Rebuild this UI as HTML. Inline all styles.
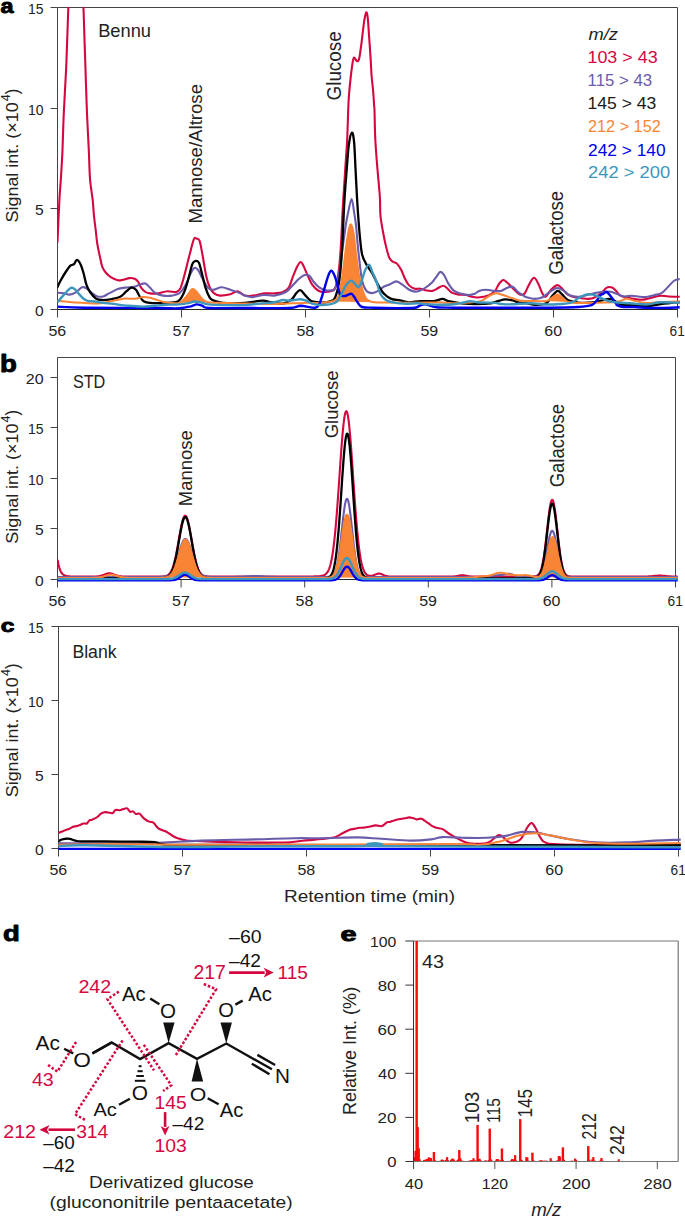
<!DOCTYPE html><html><head><meta charset="utf-8"><style>html,body{margin:0;padding:0;background:#fff;width:685px;height:1219px;overflow:hidden;}svg{display:block;}text{font-family:"Liberation Sans",sans-serif;}</style></head><body>
<svg width="685" height="1219" viewBox="0 0 685 1219">
<rect x="0" y="0" width="685" height="1219" fill="#fff"/>
<path d="M57.5,309.5 V7.5 H677.5 V309.5" fill="none" stroke="#444" stroke-width="1"/>
<line x1="57.0" y1="309.5" x2="678.0" y2="309.5" stroke="#222" stroke-width="1" />
<line x1="50.5" y1="7.5" x2="57.5" y2="7.5" stroke="#444" stroke-width="1.0" />
<text transform="translate(27.98,13.55) scale(0.9028,1)" font-size="15.51" fill="#222" font-weight="normal" font-style="normal">15</text>
<line x1="50.5" y1="108.5" x2="57.5" y2="108.5" stroke="#444" stroke-width="1.0" />
<text transform="translate(27.98,114.55) scale(0.9159,1)" font-size="15.29" fill="#222" font-weight="normal" font-style="normal">10</text>
<line x1="50.5" y1="208.5" x2="57.5" y2="208.5" stroke="#444" stroke-width="1.0" />
<text transform="translate(34.98,214.55) scale(1.0076,1)" font-size="15.51" fill="#222" font-weight="normal" font-style="normal">5</text>
<line x1="50.5" y1="309.5" x2="57.5" y2="309.5" stroke="#444" stroke-width="1.0" />
<text transform="translate(34.98,315.55) scale(1.0222,1)" font-size="15.29" fill="#222" font-weight="normal" font-style="normal">0</text>
<line x1="57.5" y1="309.5" x2="57.5" y2="317.5" stroke="#444" stroke-width="1.0" />
<text transform="translate(48.41,336.30) scale(1.0680,1)" font-size="15.00" fill="#222" font-weight="normal" font-style="normal">56</text>
<line x1="181.5" y1="309.5" x2="181.5" y2="317.5" stroke="#444" stroke-width="1.0" />
<text transform="translate(172.41,336.30) scale(1.0527,1)" font-size="15.22" fill="#222" font-weight="normal" font-style="normal">57</text>
<line x1="305.5" y1="309.5" x2="305.5" y2="317.5" stroke="#444" stroke-width="1.0" />
<text transform="translate(296.41,336.30) scale(1.0680,1)" font-size="15.00" fill="#222" font-weight="normal" font-style="normal">58</text>
<line x1="429.5" y1="309.5" x2="429.5" y2="317.5" stroke="#444" stroke-width="1.0" />
<text transform="translate(420.41,336.30) scale(1.0680,1)" font-size="15.00" fill="#222" font-weight="normal" font-style="normal">59</text>
<line x1="553.5" y1="309.5" x2="553.5" y2="317.5" stroke="#444" stroke-width="1.0" />
<text transform="translate(544.25,336.30) scale(1.0680,1)" font-size="15.00" fill="#222" font-weight="normal" font-style="normal">60</text>
<line x1="677.5" y1="309.5" x2="677.5" y2="317.5" stroke="#444" stroke-width="1.0" />
<text transform="translate(669.61,336.30) scale(0.9150,1)" font-size="15.00" fill="#222" font-weight="normal" font-style="normal">61</text>
<clipPath id="ca"><rect x="57.5" y="7.0" width="622.2" height="305.0"/></clipPath>
<g clip-path="url(#ca)">
<path d="M57.5,242.0 C57.8,235.0 58.8,210.8 59.4,200.0 C60.0,189.2 60.5,185.3 61.0,177.0 C61.5,168.7 62.1,159.5 62.5,150.0 C62.9,140.5 63.1,130.0 63.5,120.0 C63.9,110.0 64.5,100.0 65.0,90.0 C65.5,80.0 66.0,73.7 66.5,60.0 C67.0,46.3 67.9,19.7 68.3,8.0 C68.7,-3.7 66.5,-7.0 69.0,-10.0 C71.5,-13.0 80.6,-13.0 83.0,-10.0 C85.4,-7.0 83.2,-0.3 83.5,8.0 C83.8,16.3 84.2,30.3 84.5,40.0 C84.8,49.7 85.1,56.4 85.4,66.4 C85.7,76.4 86.2,91.1 86.5,100.0 C86.8,108.9 86.9,111.7 87.3,120.0 C87.7,128.3 88.3,140.0 88.8,150.0 C89.3,160.0 89.4,171.7 90.1,180.0 C90.8,188.3 92.1,194.2 92.7,200.0 C93.3,205.8 93.4,210.1 93.9,215.0 C94.4,219.9 95.0,224.4 95.6,229.2 C96.2,234.0 96.5,238.9 97.3,243.8 C98.1,248.7 99.4,254.5 100.3,258.4 C101.2,262.3 101.4,264.8 102.4,267.2 C103.4,269.6 104.6,271.3 106.1,273.0 C107.6,274.7 109.2,276.2 111.2,277.4 C113.2,278.6 115.7,279.9 117.8,280.3 C119.9,280.7 121.6,280.0 123.6,279.6 C125.5,279.2 127.7,278.2 129.5,278.1 C131.3,278.0 133.2,278.2 134.6,278.8 C136.0,279.4 137.1,280.3 138.2,281.8 C139.3,283.3 139.9,285.9 141.1,287.6 C142.3,289.3 144.0,291.0 145.5,292.0 C147.0,293.0 148.0,293.2 150.0,293.4 C152.0,293.6 154.4,293.8 157.3,293.4 C160.2,293.0 164.3,291.4 167.5,291.2 C170.7,291.0 174.1,292.6 176.3,292.0 C178.5,291.4 179.2,290.8 180.7,287.6 C182.1,284.4 183.6,278.4 185.0,273.0 C186.4,267.6 187.9,261.1 189.4,255.5 C190.9,249.9 192.6,242.2 193.8,239.4 C195.0,236.6 195.7,238.4 196.7,238.7 C197.7,238.9 198.6,238.1 199.6,240.9 C200.6,243.7 201.5,249.7 202.6,255.5 C203.7,261.3 205.0,270.5 206.2,275.9 C207.4,281.2 208.6,284.7 209.9,287.6 C211.2,290.5 212.5,292.1 214.2,293.4 C215.9,294.7 217.4,295.5 220.1,295.6 C222.8,295.7 227.4,294.9 230.3,294.2 C233.2,293.5 235.2,291.0 237.6,291.2 C240.0,291.4 242.3,294.9 245.0,295.6 C247.7,296.3 250.6,296.0 253.8,295.6 C257.0,295.2 260.6,293.8 264.0,293.4 C267.4,293.0 271.0,293.6 274.2,293.4 C277.4,293.2 280.6,293.0 283.0,292.0 C285.4,291.0 287.1,290.3 288.8,287.6 C290.5,284.9 291.7,279.5 293.2,275.9 C294.7,272.2 296.3,268.0 297.6,265.7 C298.9,263.4 299.8,262.0 300.8,262.0 C301.8,262.0 302.2,263.4 303.4,265.7 C304.6,268.0 306.3,272.7 307.8,275.9 C309.3,279.1 310.5,282.3 312.2,284.7 C313.9,287.1 316.1,289.3 318.0,290.5 C319.9,291.7 321.4,292.0 323.8,292.0 C326.2,292.0 330.6,291.4 332.6,290.5 C334.6,289.6 334.8,289.8 335.8,286.5 C336.8,283.2 337.9,277.6 338.8,270.5 C339.7,263.4 340.4,253.4 341.0,244.2 C341.6,234.9 342.0,222.8 342.4,215.0 C342.8,207.2 342.9,205.4 343.4,197.6 C343.9,189.8 344.7,178.1 345.3,168.4 C345.9,158.7 346.7,148.9 347.2,139.2 C347.7,129.5 347.9,117.4 348.2,110.0 C348.5,102.6 348.5,101.1 349.0,94.9 C349.5,88.7 350.5,78.8 351.2,73.0 C351.9,67.2 352.6,62.4 353.1,59.9 C353.7,57.4 353.9,57.5 354.5,57.7 C355.1,57.9 356.2,61.2 357.0,61.3 C357.8,61.4 358.5,61.3 359.2,58.4 C359.9,55.5 360.8,48.2 361.4,43.8 C362.0,39.4 362.3,36.0 362.8,32.1 C363.3,28.2 363.7,23.7 364.3,20.4 C364.9,17.1 365.6,12.9 366.2,12.4 C366.8,11.9 367.2,13.5 367.7,17.5 C368.2,21.5 368.6,29.7 369.1,36.5 C369.6,43.3 370.2,51.8 370.6,58.4 C371.0,65.0 371.2,70.6 371.6,75.9 C372.0,81.2 372.7,85.6 373.1,90.5 C373.5,95.4 373.9,101.8 374.1,105.1 C374.3,108.3 374.3,104.3 374.5,110.0 C374.7,115.7 374.8,129.5 375.3,139.2 C375.8,148.9 376.6,158.7 377.4,168.4 C378.2,178.1 379.4,189.8 379.9,197.6 C380.4,205.4 379.9,209.7 380.4,215.0 C380.8,220.3 381.8,224.7 382.6,229.6 C383.5,234.5 384.4,239.6 385.5,244.2 C386.6,248.8 387.9,254.4 389.1,257.3 C390.3,260.2 391.5,260.6 392.8,261.7 C394.1,262.8 395.8,262.4 397.2,263.9 C398.6,265.4 400.3,268.2 401.5,270.5 C402.7,272.8 403.3,275.4 404.5,277.8 C405.7,280.2 407.1,283.3 408.8,285.1 C410.5,286.9 412.8,288.1 414.7,288.7 C416.6,289.3 418.8,288.4 420.5,288.7 C422.2,288.9 423.0,289.8 425.0,290.2 C427.0,290.6 430.1,291.3 432.3,290.9 C434.5,290.5 436.3,288.9 438.1,288.0 C439.9,287.1 441.7,285.8 443.2,285.8 C444.7,285.8 445.5,286.9 446.9,288.0 C448.2,289.1 449.4,291.3 451.3,292.4 C453.2,293.5 456.2,294.2 458.6,294.6 C461.0,295.0 463.7,294.6 465.9,295.0 C468.1,295.4 469.8,296.4 471.7,296.8 C473.6,297.2 475.7,297.5 477.6,297.5 C479.6,297.5 481.5,297.2 483.4,296.8 C485.3,296.4 487.2,296.3 489.2,295.3 C491.1,294.3 493.5,292.7 495.1,290.9 C496.7,289.1 497.4,286.1 498.7,284.3 C500.0,282.5 501.8,280.4 503.1,280.0 C504.5,279.6 505.5,281.1 506.8,282.2 C508.1,283.3 509.7,285.1 511.1,286.5 C512.6,287.9 514.0,289.5 515.5,290.9 C517.0,292.2 518.4,294.1 519.9,294.6 C521.4,295.1 522.9,295.4 524.4,293.8 C525.9,292.2 527.2,287.8 528.8,285.1 C530.4,282.4 532.3,278.1 533.9,277.8 C535.5,277.6 536.9,281.2 538.2,283.6 C539.5,286.0 540.7,290.2 541.9,292.4 C543.1,294.6 544.0,297.2 545.5,296.8 C547.0,296.4 548.8,292.1 550.7,290.2 C552.7,288.2 555.3,285.4 557.2,285.1 C559.1,284.9 560.7,287.2 562.3,288.7 C563.9,290.1 565.0,292.4 566.7,293.8 C568.4,295.2 570.2,296.1 572.6,296.8 C575.0,297.5 578.6,297.9 581.3,298.2 C584.0,298.5 586.4,299.0 588.6,298.9 C590.8,298.8 592.3,298.5 594.5,297.5 C596.7,296.5 599.6,294.4 601.6,292.8 C603.6,291.2 605.0,288.5 606.8,287.6 C608.5,286.7 610.6,287.1 612.1,287.6 C613.6,288.1 614.7,289.5 616.0,290.8 C617.3,292.1 618.0,294.2 620.0,295.4 C622.0,296.6 624.7,297.1 627.8,297.8 C630.9,298.5 635.5,299.3 638.4,299.6 C641.2,299.9 642.5,299.8 644.9,299.4 C647.3,299.0 650.2,298.0 652.8,297.4 C655.4,296.8 658.1,295.8 660.7,295.7 C663.3,295.6 665.4,296.3 668.6,296.5 C671.8,296.7 678.1,296.8 680.0,296.8" fill="none" stroke="#d4073f" stroke-width="2.1" stroke-linejoin="round" stroke-linecap="round" />
<path d="M57.5,292.7 C58.5,292.8 61.8,293.1 63.8,293.4 C65.8,293.7 67.7,294.7 69.6,294.6 C71.5,294.5 73.3,293.9 75.4,292.7 C77.5,291.5 80.2,288.0 82.0,287.3 C83.8,286.6 84.8,287.4 86.4,288.3 C88.0,289.2 89.7,291.4 91.5,292.7 C93.3,294.0 95.3,295.8 97.3,296.4 C99.2,297.0 101.2,296.9 103.2,296.4 C105.2,295.9 106.6,294.6 109.0,293.4 C111.4,292.2 115.1,290.0 117.8,289.0 C120.5,288.0 122.3,288.0 125.0,287.6 C127.7,287.2 131.4,287.4 133.8,286.9 C136.2,286.4 137.8,285.3 139.7,284.7 C141.6,284.1 143.8,283.0 145.5,283.5 C147.2,284.0 148.2,286.0 149.9,287.6 C151.6,289.2 153.6,292.1 155.8,293.4 C158.0,294.7 160.4,295.2 163.1,295.6 C165.8,296.0 169.2,296.0 171.9,295.6 C174.6,295.2 177.0,295.0 179.2,293.4 C181.4,291.8 183.1,289.5 185.0,286.1 C186.9,282.7 189.3,276.0 190.9,273.0 C192.5,270.0 193.3,268.4 194.5,267.9 C195.7,267.4 196.8,268.3 198.2,270.1 C199.5,271.9 201.0,275.9 202.6,278.8 C204.2,281.7 206.0,285.8 207.7,287.6 C209.4,289.4 210.5,289.9 212.8,289.8 C215.1,289.8 218.6,287.3 221.5,287.3 C224.4,287.3 227.1,288.8 230.3,289.8 C233.5,290.8 238.1,292.4 240.5,293.4 C242.9,294.4 243.0,295.0 245.0,295.6 C247.0,296.2 249.1,297.2 252.3,297.1 C255.5,297.0 260.4,295.1 264.0,294.9 C267.6,294.6 270.6,296.1 274.2,295.6 C277.8,295.1 282.7,293.8 285.9,292.0 C289.1,290.2 291.0,286.9 293.2,284.7 C295.4,282.5 297.2,280.4 299.0,278.8 C300.8,277.2 302.4,275.7 304.1,275.2 C305.8,274.7 307.6,274.5 309.2,275.6 C310.8,276.7 311.9,279.8 313.6,281.8 C315.3,283.8 317.3,286.2 319.5,287.6 C321.7,289.1 324.9,290.1 326.8,290.5 C328.7,290.9 329.7,290.5 331.0,290.3 C332.3,290.1 333.1,291.8 334.4,289.5 C335.7,287.2 337.4,283.9 338.8,276.3 C340.2,268.8 341.9,252.8 343.1,244.2 C344.3,235.6 345.0,230.3 345.8,225.0 C346.6,219.7 347.2,216.5 348.2,212.2 C349.2,207.9 350.6,199.0 351.6,199.0 C352.6,199.0 353.4,207.9 354.1,212.2 C354.8,216.5 355.5,220.9 356.0,225.0 C356.5,229.1 356.5,231.3 357.0,236.9 C357.5,242.5 358.3,251.5 359.2,258.8 C360.1,266.1 360.9,275.4 362.1,280.7 C363.3,286.0 364.8,288.8 366.5,290.9 C368.2,293.0 370.4,293.1 372.3,293.1 C374.2,293.1 376.2,292.0 378.2,290.9 C380.1,289.8 382.1,287.6 384.0,286.5 C385.9,285.4 387.8,285.2 389.9,284.3 C392.0,283.4 394.2,281.3 396.4,281.4 C398.6,281.5 400.9,283.8 403.0,285.1 C405.1,286.5 406.9,288.4 408.8,289.5 C410.8,290.6 412.8,291.4 414.7,291.6 C416.6,291.8 418.3,291.1 420.0,290.5 C421.7,289.9 422.9,289.4 425.0,288.0 C427.1,286.6 430.4,284.1 432.3,282.2 C434.2,280.2 435.4,278.0 436.7,276.3 C438.0,274.6 439.1,272.1 440.3,271.9 C441.5,271.7 442.6,272.9 444.0,274.9 C445.4,276.8 446.7,280.9 448.4,283.6 C450.1,286.3 452.0,289.2 454.2,290.9 C456.4,292.6 459.1,293.1 461.5,293.8 C463.9,294.5 466.6,295.0 468.8,295.0 C471.0,295.0 472.9,294.5 474.6,293.8 C476.3,293.1 477.1,291.6 479.0,290.9 C480.9,290.2 483.9,289.7 486.3,289.7 C488.7,289.7 491.2,290.7 493.6,290.9 C496.0,291.1 498.7,291.4 500.9,290.9 C503.1,290.4 504.9,288.7 506.8,288.0 C508.8,287.3 510.7,286.1 512.6,286.8 C514.5,287.5 516.5,290.9 518.4,292.4 C520.3,293.9 522.5,295.1 524.0,296.0 C525.5,296.9 525.5,297.0 527.3,297.5 C529.1,298.0 532.2,298.9 534.6,298.9 C537.0,298.9 539.5,298.6 541.9,297.5 C544.3,296.4 546.7,294.0 549.2,292.4 C551.8,290.8 554.8,288.2 557.2,288.0 C559.6,287.8 561.7,289.7 563.8,290.9 C565.9,292.1 567.2,294.3 569.6,295.3 C572.0,296.3 575.5,296.9 578.4,296.8 C581.3,296.8 584.4,295.6 587.2,295.0 C590.0,294.4 592.4,293.5 595.0,293.0 C597.6,292.5 600.3,292.0 602.9,291.8 C605.5,291.6 608.4,291.4 610.8,291.8 C613.2,292.2 615.1,293.3 617.3,294.1 C619.5,294.9 621.5,296.2 623.9,296.5 C626.3,296.8 629.2,295.6 631.8,295.7 C634.4,295.8 637.1,296.6 639.7,296.8 C642.3,297.0 645.2,297.1 647.6,296.8 C650.0,296.5 651.7,295.9 654.1,295.2 C656.5,294.5 659.6,294.3 662.0,292.8 C664.4,291.3 666.6,288.2 668.6,286.2 C670.6,284.2 672.3,282.1 673.8,281.0 C675.3,279.9 676.5,279.7 677.5,279.4 C678.5,279.1 679.6,279.1 680.0,279.0" fill="none" stroke="#6b5baa" stroke-width="2.1" stroke-linejoin="round" stroke-linecap="round" />
<path d="M57.5,287.0 C58.0,285.9 59.4,282.9 60.8,280.3 C62.2,277.7 64.4,273.9 66.0,271.5 C67.6,269.1 69.0,266.9 70.3,265.7 C71.6,264.5 72.9,265.2 74.0,264.2 C75.1,263.2 75.8,259.9 76.9,259.9 C78.0,259.9 79.4,262.0 80.5,264.2 C81.6,266.4 82.5,269.6 83.5,273.0 C84.5,276.4 85.3,281.5 86.4,284.7 C87.5,287.9 88.4,289.7 90.0,292.0 C91.6,294.3 94.0,297.2 95.9,298.5 C97.9,299.8 99.3,299.9 101.7,300.0 C104.1,300.1 107.3,299.9 110.5,299.3 C113.7,298.7 118.0,297.8 120.7,296.4 C123.4,295.0 124.7,292.7 126.5,291.2 C128.3,289.7 130.0,287.8 131.6,287.6 C133.2,287.4 134.7,288.3 136.0,289.8 C137.3,291.3 138.4,294.4 139.7,296.4 C141.0,298.3 142.3,300.4 144.0,301.5 C145.7,302.6 146.5,302.7 149.9,302.9 C153.3,303.1 160.0,303.1 164.6,302.9 C169.2,302.7 174.5,303.1 177.7,301.5 C180.9,299.9 181.9,296.9 183.6,293.4 C185.3,289.9 186.6,285.2 188.0,280.3 C189.4,275.4 191.1,267.4 192.3,264.2 C193.5,261.0 194.2,261.2 195.3,261.0 C196.4,260.8 197.8,260.8 198.9,262.8 C200.0,264.8 200.7,268.9 201.8,273.0 C202.9,277.1 204.2,283.5 205.5,287.6 C206.8,291.7 208.5,295.6 209.9,297.8 C211.3,300.0 212.0,299.9 214.2,300.7 C216.4,301.5 217.9,302.5 223.0,302.9 C228.1,303.3 238.4,303.3 245.0,302.9 C251.6,302.5 258.1,300.8 262.5,300.7 C266.9,300.6 267.9,301.7 271.3,302.2 C274.7,302.7 279.6,304.1 283.0,303.6 C286.4,303.1 289.5,301.0 291.7,299.3 C293.9,297.6 294.7,294.9 296.1,293.4 C297.5,291.9 298.7,289.9 300.2,290.2 C301.7,290.4 303.1,293.1 304.9,294.9 C306.6,296.6 308.5,299.5 310.7,300.7 C312.9,301.9 315.3,301.9 318.0,302.2 C320.7,302.4 324.8,302.4 326.8,302.2 C328.8,302.0 328.7,301.7 330.0,301.1 C331.3,300.6 333.1,301.1 334.4,298.9 C335.7,296.7 337.0,292.2 338.0,288.0 C339.0,283.8 339.5,280.7 340.2,273.4 C340.9,266.1 341.9,252.3 342.4,244.2 C342.9,236.1 342.8,232.8 343.2,225.0 C343.6,217.2 344.0,207.0 344.6,197.6 C345.2,188.2 346.1,177.4 346.8,168.4 C347.5,159.4 348.1,149.6 349.0,143.6 C349.9,137.6 351.0,132.8 351.9,132.6 C352.8,132.3 353.5,136.1 354.1,142.1 C354.7,148.1 355.0,159.2 355.5,168.4 C356.0,177.7 356.5,189.0 357.0,197.6 C357.5,206.2 358.0,213.4 358.5,220.0 C359.0,226.6 359.3,231.2 359.9,236.9 C360.5,242.6 361.0,249.8 362.1,254.4 C363.2,259.0 364.8,261.4 366.5,264.6 C368.2,267.8 370.4,270.0 372.3,273.4 C374.2,276.8 376.2,281.7 378.2,285.1 C380.1,288.5 381.8,291.5 384.0,293.8 C386.2,296.1 388.6,297.8 391.3,298.9 C394.0,300.0 397.2,299.8 400.1,300.4 C403.0,301.0 405.4,302.2 408.8,302.3 C412.2,302.4 416.3,301.3 420.5,301.1 C424.7,300.9 430.1,301.5 433.8,301.1 C437.5,300.7 440.1,298.9 442.5,298.9 C444.9,298.9 445.2,300.4 448.4,301.1 C451.6,301.8 456.9,302.8 461.5,303.3 C466.1,303.8 471.2,304.1 476.1,304.1 C481.0,304.1 487.1,303.8 490.7,303.3 C494.3,302.8 495.6,301.8 498.0,301.1 C500.4,300.5 502.9,299.5 505.3,299.4 C507.7,299.3 510.4,299.9 512.6,300.4 C514.8,300.9 516.3,301.9 518.4,302.3 C520.5,302.7 522.3,302.5 525.0,302.9 C527.7,303.3 531.1,304.7 534.6,304.8 C538.1,304.9 543.4,304.8 546.3,303.3 C549.2,301.8 550.2,298.1 552.1,296.0 C554.0,293.9 556.0,291.1 557.7,290.9 C559.4,290.7 560.5,293.0 562.3,294.6 C564.0,296.2 565.5,299.1 568.2,300.4 C570.9,301.7 574.3,302.3 578.4,302.6 C582.5,302.9 589.1,302.7 593.0,302.3 C596.9,301.9 599.1,301.0 601.8,300.4 C604.5,299.8 606.9,298.8 609.1,298.9 C611.3,299.0 612.9,300.2 614.9,301.1 C616.9,302.1 618.0,303.9 621.3,304.6 C624.5,305.3 630.0,305.1 634.4,305.3 C638.8,305.5 643.2,306.2 647.6,306.0 C652.0,305.8 655.3,304.7 660.7,304.0 C666.1,303.3 676.8,302.3 680.0,302.0" fill="none" stroke="#000000" stroke-width="2.3" stroke-linejoin="round" stroke-linecap="round" />
<path d="M179.2,302.9 C180.4,301.8 184.3,298.7 186.5,296.4 C188.7,294.1 190.6,289.7 192.3,289.0 C194.0,288.3 195.0,290.3 196.7,292.0 C198.4,293.7 200.6,297.6 202.6,299.3 C204.6,301.0 207.4,301.7 208.4,302.2 Z" fill="#fa8435" stroke="none"/>
<path d="M329.7,301.5 C330.2,301.4 331.6,301.9 333.0,301.1 C334.4,300.3 336.6,300.2 338.0,296.8 C339.4,293.4 340.6,287.0 341.7,280.7 C342.8,274.4 343.6,266.1 344.6,258.8 C345.6,251.5 346.5,242.6 347.5,236.9 C348.5,231.2 349.4,225.2 350.4,224.5 C351.4,223.8 352.4,227.3 353.4,232.5 C354.4,237.7 355.3,248.6 356.3,255.9 C357.3,263.2 358.1,270.5 359.2,276.3 C360.3,282.1 361.6,287.1 362.8,290.9 C364.0,294.7 364.9,297.1 366.5,298.9 C368.1,300.7 368.7,301.3 372.3,301.9 C375.9,302.5 385.7,302.5 388.4,302.6 Z" fill="#fa8435" stroke="none"/>
<path d="M546.3,301.1 C547.3,300.5 550.3,298.6 552.1,297.5 C553.9,296.4 555.5,294.6 557.2,294.6 C558.9,294.6 560.5,296.3 562.3,297.5 C564.1,298.7 567.2,301.2 568.2,301.9 Z" fill="#fa8435" stroke="none"/>
<path d="M57.5,300.7 C59.5,300.9 65.1,301.5 69.6,301.9 C74.0,302.3 79.3,302.6 84.2,302.9 C89.1,303.1 93.9,303.8 98.8,303.4 C103.7,303.0 109.0,301.5 113.4,300.7 C117.8,299.9 121.3,298.8 125.0,298.5 C128.7,298.2 132.4,299.0 135.3,298.8 C138.2,298.6 140.2,297.3 142.6,297.1 C145.0,296.9 147.8,297.4 149.9,297.8 C152.0,298.2 152.6,298.6 155.0,299.3 C157.4,300.0 160.6,301.6 164.6,302.2 C168.6,302.8 175.5,303.9 179.2,302.9 C182.8,301.9 184.3,298.7 186.5,296.4 C188.7,294.1 190.6,289.7 192.3,289.0 C194.0,288.3 195.0,290.3 196.7,292.0 C198.4,293.7 200.6,297.6 202.6,299.3 C204.6,301.0 205.0,301.6 208.4,302.2 C211.8,302.8 216.9,302.7 223.0,302.9 C229.1,303.1 236.5,303.4 245.0,303.6 C253.5,303.8 264.5,304.0 274.2,303.9 C283.9,303.8 296.1,303.1 303.4,302.9 C310.7,302.7 313.6,303.1 318.0,302.9 C322.4,302.7 327.2,301.8 329.7,301.5 C332.2,301.2 331.6,301.9 333.0,301.1 C334.4,300.3 336.6,300.2 338.0,296.8 C339.4,293.4 340.6,287.0 341.7,280.7 C342.8,274.4 343.6,266.1 344.6,258.8 C345.6,251.5 346.5,242.6 347.5,236.9 C348.5,231.2 349.4,225.2 350.4,224.5 C351.4,223.8 352.4,227.3 353.4,232.5 C354.4,237.7 355.3,248.6 356.3,255.9 C357.3,263.2 358.1,270.5 359.2,276.3 C360.3,282.1 361.6,287.1 362.8,290.9 C364.0,294.7 364.9,297.1 366.5,298.9 C368.1,300.7 368.7,301.3 372.3,301.9 C375.9,302.5 378.8,302.5 388.4,302.6 C398.0,302.7 421.5,302.7 430.0,302.6 C438.5,302.6 435.6,302.2 439.6,302.3 C443.6,302.4 449.3,303.2 454.2,303.3 C459.1,303.4 464.4,303.0 468.8,302.6 C473.2,302.2 477.3,302.1 480.5,301.1 C483.7,300.1 485.6,298.0 487.8,296.8 C490.0,295.6 491.9,294.4 493.6,293.8 C495.3,293.2 496.3,293.2 498.0,293.5 C499.7,293.8 501.4,294.5 503.8,295.3 C506.2,296.1 509.9,297.4 512.6,298.2 C515.3,299.0 516.2,299.9 519.9,300.4 C523.6,300.9 530.2,301.0 534.6,301.1 C539.0,301.2 543.4,301.7 546.3,301.1 C549.2,300.5 550.3,298.6 552.1,297.5 C553.9,296.4 555.5,294.6 557.2,294.6 C558.9,294.6 560.5,296.3 562.3,297.5 C564.1,298.7 565.5,301.0 568.2,301.9 C570.9,302.8 572.3,302.8 578.4,302.9 C584.5,303.0 598.0,302.9 604.7,302.6 C611.4,302.4 615.1,302.0 618.7,301.4 C622.3,300.8 623.9,298.8 626.5,298.7 C629.1,298.6 630.9,300.0 634.4,300.7 C637.9,301.4 643.2,302.9 647.6,303.1 C652.0,303.3 655.3,302.3 660.7,302.0 C666.1,301.7 676.8,301.5 680.0,301.4" fill="none" stroke="#fa8435" stroke-width="2.0" stroke-linejoin="round" stroke-linecap="round" />
<path d="M57.5,306.6 C62.0,306.8 68.0,307.5 84.2,307.7 C100.5,307.9 139.2,307.9 155.0,308.0 C170.8,308.1 173.2,308.6 179.2,308.3 C185.2,308.0 188.0,307.0 190.9,306.3 C193.8,305.6 194.8,304.5 196.7,304.4 C198.6,304.3 200.6,305.2 202.6,305.8 C204.6,306.4 201.3,307.6 208.4,308.0 C215.5,308.4 231.6,308.0 245.0,308.0 C258.4,308.0 279.6,308.4 288.8,308.0 C298.1,307.6 296.1,305.9 300.5,305.8 C304.9,305.8 311.9,308.1 315.1,307.7 C318.3,307.3 318.1,306.5 319.5,303.6 C320.9,300.7 322.4,295.1 323.8,290.5 C325.2,285.9 327.0,279.2 328.2,275.9 C329.4,272.6 330.1,271.0 331.1,270.8 C332.1,270.6 333.1,272.4 334.1,274.5 C335.1,276.6 336.0,279.8 337.0,283.2 C338.0,286.6 338.9,292.5 340.2,294.6 C341.5,296.7 342.8,296.1 344.6,296.0 C346.4,295.9 349.6,293.7 351.2,293.8 C352.8,293.9 353.0,295.3 354.1,296.8 C355.2,298.3 356.4,300.9 357.7,302.6 C359.0,304.3 359.4,306.1 362.1,307.0 C364.8,307.9 368.2,307.5 373.8,307.7 C379.4,307.9 388.9,308.1 395.7,308.1 C402.5,308.1 410.6,308.1 414.7,307.7 C418.8,307.3 418.3,306.1 420.0,305.5 C421.7,304.9 423.3,304.3 425.0,304.3 C426.7,304.3 428.1,305.0 430.0,305.5 C431.9,306.0 432.7,306.9 436.7,307.3 C440.7,307.7 439.5,307.6 454.2,307.7 C468.9,307.8 509.2,307.7 525.0,307.7 C540.8,307.7 540.3,307.8 549.2,307.7 C558.1,307.6 571.4,307.4 578.4,307.0 C585.4,306.6 588.3,306.4 591.5,305.2 C594.7,304.0 595.9,301.3 597.4,299.7 C598.9,298.1 599.3,296.4 600.3,295.4 C601.3,294.4 602.1,294.3 603.2,293.8 C604.3,293.3 605.3,291.5 606.8,292.2 C608.3,292.9 610.5,296.1 612.1,298.1 C613.7,300.1 615.5,302.9 616.4,304.1 C617.3,305.3 616.0,304.8 617.3,305.3 C618.5,305.8 621.0,306.7 623.9,307.0 C626.8,307.3 630.4,306.9 634.4,307.0 C638.4,307.1 643.2,307.8 647.6,307.9 C652.0,308.0 655.3,308.0 660.7,307.9 C666.1,307.8 676.8,307.4 680.0,307.3" fill="none" stroke="#0000f0" stroke-width="2.4" stroke-linejoin="round" stroke-linecap="round" />
<path d="M57.5,302.2 C58.5,301.0 61.7,297.2 63.8,294.9 C65.9,292.6 68.6,289.4 70.3,288.3 C72.0,287.2 72.7,287.8 74.0,288.6 C75.3,289.5 76.7,291.6 78.4,293.4 C80.1,295.2 82.5,298.0 84.2,299.3 C85.9,300.6 86.9,300.6 88.6,301.0 C90.3,301.4 92.0,301.2 94.4,301.5 C96.8,301.8 100.0,302.5 103.2,302.9 C106.4,303.3 109.3,303.4 113.4,303.9 C117.5,304.4 123.1,305.4 128.0,305.8 C132.9,306.2 138.1,306.6 142.6,306.6 C147.1,306.6 151.3,306.1 155.0,305.8 C158.7,305.5 160.6,305.0 164.6,304.8 C168.6,304.6 175.1,304.7 179.2,304.4 C183.3,304.1 187.0,303.4 189.4,302.9 C191.8,302.4 192.1,301.6 193.8,301.5 C195.5,301.4 197.2,301.7 199.6,302.2 C202.0,302.7 204.5,303.9 208.4,304.4 C212.3,304.9 216.9,305.0 223.0,305.1 C229.1,305.2 238.9,305.4 245.0,305.1 C251.1,304.9 254.7,304.1 259.6,303.6 C264.5,303.1 270.3,302.8 274.2,302.2 C278.1,301.6 280.6,300.2 283.0,300.0 C285.4,299.8 286.9,300.7 288.8,300.7 C290.7,300.7 292.7,300.2 294.6,300.0 C296.6,299.8 298.6,299.2 300.5,299.3 C302.4,299.4 304.4,300.0 306.3,300.7 C308.2,301.4 309.8,302.9 312.2,303.6 C314.6,304.3 318.0,305.0 320.9,305.1 C323.8,305.2 327.7,304.7 329.7,304.4 C331.7,304.1 331.7,304.1 333.0,303.5 C334.3,302.9 335.9,302.7 337.3,301.1 C338.8,299.5 340.2,296.5 341.7,293.8 C343.2,291.1 344.5,287.3 346.1,285.1 C347.7,282.9 349.8,280.9 351.2,280.7 C352.6,280.4 353.6,282.5 354.8,283.6 C356.0,284.7 357.4,287.5 358.5,287.3 C359.6,287.1 360.3,285.0 361.4,282.2 C362.5,279.4 363.7,273.4 365.0,270.5 C366.3,267.6 367.9,264.4 369.1,264.6 C370.3,264.8 371.0,269.0 372.3,271.9 C373.6,274.8 375.4,278.5 376.7,282.2 C378.0,285.9 378.9,290.9 380.4,293.8 C381.9,296.7 383.2,298.2 385.5,299.7 C387.8,301.2 390.8,301.9 394.2,302.6 C397.6,303.3 402.0,303.7 405.9,303.8 C409.8,303.9 414.4,303.2 417.6,303.3 C420.8,303.4 421.3,303.9 425.0,304.1 C428.7,304.4 434.7,304.8 439.6,304.8 C444.5,304.8 450.3,304.7 454.2,304.3 C458.1,303.9 460.3,303.1 463.0,302.6 C465.7,302.1 467.9,301.2 470.3,301.1 C472.7,301.1 474.9,302.1 477.6,302.3 C480.3,302.6 483.4,302.5 486.3,302.6 C489.2,302.7 492.4,302.6 495.1,302.9 C497.8,303.1 499.5,303.9 502.4,304.1 C505.3,304.3 509.7,304.4 512.6,304.3 C515.5,304.2 516.8,304.0 520.0,303.8 C523.2,303.6 528.1,303.2 531.7,303.3 C535.4,303.4 537.8,304.1 541.9,304.3 C546.0,304.5 551.6,304.6 556.5,304.3 C561.4,304.0 567.5,303.6 571.1,302.6 C574.8,301.6 576.0,299.5 578.4,298.2 C580.8,296.9 583.3,295.2 585.7,294.6 C588.1,294.0 590.8,294.2 593.0,294.6 C595.2,295.0 596.8,296.0 598.8,296.8 C600.8,297.6 602.5,298.9 604.7,299.7 C606.9,300.5 609.2,301.4 612.0,301.9 C614.8,302.4 617.6,302.4 621.3,302.7 C625.0,303.0 630.0,303.3 634.4,303.6 C638.8,303.9 643.2,304.6 647.6,304.4 C652.0,304.2 655.3,302.6 660.7,302.3 C666.1,302.0 676.8,302.6 680.0,302.7" fill="none" stroke="#3d97bd" stroke-width="2.4" stroke-linejoin="round" stroke-linecap="round" />
</g>
<path d="M57.5,579.5 V357.5 H675.5 V579.5" fill="none" stroke="#444" stroke-width="1"/>
<line x1="57.0" y1="579.5" x2="676.0" y2="579.5" stroke="#222" stroke-width="1" />
<line x1="50.5" y1="579.5" x2="57.5" y2="579.5" stroke="#444" stroke-width="1.0" />
<text transform="translate(34.98,585.55) scale(1.0222,1)" font-size="15.29" fill="#222" font-weight="normal" font-style="normal">0</text>
<line x1="50.5" y1="528.5" x2="57.5" y2="528.5" stroke="#444" stroke-width="1.0" />
<text transform="translate(34.98,534.55) scale(1.0076,1)" font-size="15.51" fill="#222" font-weight="normal" font-style="normal">5</text>
<line x1="50.5" y1="478.5" x2="57.5" y2="478.5" stroke="#444" stroke-width="1.0" />
<text transform="translate(27.98,484.55) scale(0.9159,1)" font-size="15.29" fill="#222" font-weight="normal" font-style="normal">10</text>
<line x1="50.5" y1="427.5" x2="57.5" y2="427.5" stroke="#444" stroke-width="1.0" />
<text transform="translate(27.98,433.55) scale(0.9028,1)" font-size="15.51" fill="#222" font-weight="normal" font-style="normal">15</text>
<line x1="50.5" y1="377.5" x2="57.5" y2="377.5" stroke="#444" stroke-width="1.0" />
<text transform="translate(25.80,383.55) scale(1.0480,1)" font-size="15.29" fill="#222" font-weight="normal" font-style="normal">20</text>
<line x1="57.5" y1="579.5" x2="57.5" y2="587.5" stroke="#444" stroke-width="1.0" />
<text transform="translate(48.41,606.20) scale(1.0680,1)" font-size="15.00" fill="#222" font-weight="normal" font-style="normal">56</text>
<line x1="181.1" y1="579.5" x2="181.1" y2="587.5" stroke="#444" stroke-width="1.0" />
<text transform="translate(172.01,606.20) scale(1.0527,1)" font-size="15.22" fill="#222" font-weight="normal" font-style="normal">57</text>
<line x1="304.7" y1="579.5" x2="304.7" y2="587.5" stroke="#444" stroke-width="1.0" />
<text transform="translate(295.61,606.20) scale(1.0680,1)" font-size="15.00" fill="#222" font-weight="normal" font-style="normal">58</text>
<line x1="428.29999999999995" y1="579.5" x2="428.29999999999995" y2="587.5" stroke="#444" stroke-width="1.0" />
<text transform="translate(419.21,606.20) scale(1.0680,1)" font-size="15.00" fill="#222" font-weight="normal" font-style="normal">59</text>
<line x1="551.9" y1="579.5" x2="551.9" y2="587.5" stroke="#444" stroke-width="1.0" />
<text transform="translate(542.65,606.20) scale(1.0680,1)" font-size="15.00" fill="#222" font-weight="normal" font-style="normal">60</text>
<line x1="675.5" y1="579.5" x2="675.5" y2="587.5" stroke="#444" stroke-width="1.0" />
<text transform="translate(667.61,606.20) scale(0.9150,1)" font-size="15.00" fill="#222" font-weight="normal" font-style="normal">61</text>
<clipPath id="cb"><rect x="57.5" y="357.0" width="620.2" height="225.0"/></clipPath>
<g clip-path="url(#cb)">
<polyline points="57.8,560.6 58.3,563.4 58.8,565.7 59.3,567.6 59.8,569.2 60.3,570.5 60.8,571.5 61.3,572.4 61.8,573.2 62.3,573.8 62.8,574.3 63.3,574.7 63.8,575.0 64.3,575.3 64.8,575.5 65.3,575.7 65.8,575.9 66.3,576.0 66.8,576.1 67.3,576.2 67.8,576.3 68.3,576.3 68.8,576.4 69.3,576.4 69.8,576.4 70.3,576.5 70.8,576.5 71.3,576.5 71.8,576.5 72.3,576.5 72.8,576.5 73.3,576.6 73.8,576.6 74.3,576.6 74.8,576.6 75.3,576.6 75.8,576.6 76.3,576.6 76.8,576.6 77.3,576.6 77.8,576.6 78.3,576.6 78.8,576.6 79.3,576.6 79.8,576.6 80.3,576.6 80.8,576.6 81.3,576.6 81.8,576.6 82.3,576.6 82.8,576.6 83.3,576.6 83.8,576.6 84.3,576.6 84.8,576.6 85.3,576.6 85.8,576.6 86.3,576.6 86.8,576.6 87.3,576.6 87.8,576.6 88.3,576.6 88.8,576.6 89.3,576.6 89.8,576.6 90.3,576.6 90.8,576.6 91.3,576.6 91.8,576.6 92.3,576.6 92.8,576.6 93.3,576.6 93.8,576.6 94.3,576.6 94.8,576.6 95.3,576.5 95.8,576.5 96.3,576.5 96.8,576.5 97.3,576.4 97.8,576.4 98.3,576.3 98.8,576.2 99.3,576.2 99.8,576.1 100.3,575.9 100.8,575.8 101.3,575.7 101.8,575.5 102.3,575.4 102.8,575.2 103.3,575.0 103.8,574.8 104.3,574.6 104.8,574.4 105.3,574.2 105.8,574.0 106.3,573.8 106.8,573.7 107.3,573.6 107.8,573.4 108.3,573.4 108.8,573.3 109.3,573.3 109.8,573.3 110.3,573.4 110.8,573.4 111.3,573.6 111.8,573.7 112.3,573.8 112.8,574.0 113.3,574.2 113.8,574.4 114.3,574.6 114.8,574.8 115.3,575.0 115.8,575.2 116.3,575.4 116.8,575.5 117.3,575.7 117.8,575.8 118.3,575.9 118.8,576.1 119.3,576.2 119.8,576.2 120.3,576.3 120.8,576.4 121.3,576.4 121.8,576.5 122.3,576.5 122.8,576.5 123.3,576.5 123.8,576.6 124.3,576.6 124.8,576.6 125.3,576.6 125.8,576.6 126.3,576.6 126.8,576.6 127.3,576.6 127.8,576.6 128.3,576.6 128.8,576.6 129.3,576.6 129.8,576.6 130.3,576.6 130.8,576.6 131.3,576.6 131.8,576.6 132.3,576.6 132.8,576.6 133.3,576.6 133.8,576.6 134.3,576.6 134.8,576.6 135.3,576.6 135.8,576.6 136.3,576.6 136.8,576.6 137.3,576.6 137.8,576.6 138.3,576.6 138.8,576.6 139.3,576.6 139.8,576.6 140.3,576.6 140.8,576.6 141.3,576.6 141.8,576.6 142.3,576.6 142.8,576.6 143.3,576.6 143.8,576.6 144.3,576.6 144.8,576.6 145.3,576.6 145.8,576.6 146.3,576.6 146.8,576.6 147.3,576.6 147.8,576.6 148.3,576.6 148.8,576.6 149.3,576.6 149.8,576.6 150.3,576.6 150.8,576.6 151.3,576.6 151.8,576.6 152.3,576.6 152.8,576.6 153.3,576.6 153.8,576.6 154.3,576.6 154.8,576.6 155.3,576.6 155.8,576.6 156.3,576.6 156.8,576.6 157.3,576.6 157.8,576.6 158.3,576.6 158.8,576.6 159.3,576.6 159.8,576.6 160.3,576.6 160.8,576.6 161.3,576.5 161.8,576.5 162.3,576.5 162.8,576.5 163.3,576.4 163.8,576.4 164.3,576.3 164.8,576.2 165.3,576.1 165.8,576.0 166.3,575.8 166.8,575.6 167.3,575.4 167.8,575.1 168.3,574.7 168.8,574.3 169.3,573.8 169.8,573.2 170.3,572.5 170.8,571.7 171.3,570.8 171.8,569.8 172.3,568.6 172.8,567.3 173.3,565.8 173.8,564.1 174.3,562.3 174.8,560.3 175.3,558.2 175.8,555.9 176.3,553.4 176.8,550.8 177.3,548.1 177.8,545.3 178.3,542.5 178.8,539.6 179.3,536.7 179.8,533.9 180.3,531.1 180.8,528.4 181.3,525.9 181.8,523.6 182.3,521.6 182.8,519.7 183.3,518.2 183.8,517.0 184.3,516.2 184.8,515.7 185.3,515.6 185.8,515.9 186.3,516.5 186.8,517.5 187.3,518.8 187.8,520.4 188.3,522.4 188.8,524.5 189.3,526.9 189.8,529.5 190.3,532.2 190.8,535.0 191.3,537.9 191.8,540.8 192.3,543.6 192.8,546.5 193.3,549.2 193.8,551.9 194.3,554.4 194.8,556.8 195.3,559.0 195.8,561.1 196.3,563.0 196.8,564.8 197.3,566.4 197.8,567.8 198.3,569.1 198.8,570.2 199.3,571.2 199.8,572.1 200.3,572.8 200.8,573.5 201.3,574.0 201.8,574.5 202.3,574.9 202.8,575.2 203.3,575.5 203.8,575.7 204.3,575.9 204.8,576.0 205.3,576.2 205.8,576.3 206.3,576.3 206.8,576.4 207.3,576.4 207.8,576.5 208.3,576.5 208.8,576.5 209.3,576.5 209.8,576.6 210.3,576.6 210.8,576.6 211.3,576.6 211.8,576.6 212.3,576.6 212.8,576.6 213.3,576.6 213.8,576.6 214.3,576.6 214.8,576.6 215.3,576.6 215.8,576.6 216.3,576.6 216.8,576.6 217.3,576.6 217.8,576.6 218.3,576.6 218.8,576.6 219.3,576.6 219.8,576.6 220.3,576.6 220.8,576.6 221.3,576.6 221.8,576.6 222.3,576.6 222.8,576.6 223.3,576.6 223.8,576.6 224.3,576.6 224.8,576.6 225.3,576.6 225.8,576.6 226.3,576.6 226.8,576.6 227.3,576.6 227.8,576.6 228.3,576.6 228.8,576.6 229.3,576.6 229.8,576.6 230.3,576.6 230.8,576.6 231.3,576.6 231.8,576.6 232.3,576.6 232.8,576.6 233.3,576.6 233.8,576.6 234.3,576.6 234.8,576.6 235.3,576.6 235.8,576.6 236.3,576.6 236.8,576.6 237.3,576.6 237.8,576.6 238.3,576.6 238.8,576.6 239.3,576.6 239.8,576.6 240.3,576.6 240.8,576.6 241.3,576.6 241.8,576.6 242.3,576.6 242.8,576.6 243.3,576.6 243.8,576.6 244.3,576.6 244.8,576.6 245.3,576.6 245.8,576.6 246.3,576.6 246.8,576.6 247.3,576.6 247.8,576.6 248.3,576.6 248.8,576.6 249.3,576.6 249.8,576.6 250.3,576.6 250.8,576.6 251.3,576.6 251.8,576.6 252.3,576.6 252.8,576.6 253.3,576.6 253.8,576.6 254.3,576.6 254.8,576.6 255.3,576.6 255.8,576.6 256.3,576.6 256.8,576.6 257.3,576.6 257.8,576.6 258.3,576.6 258.8,576.6 259.3,576.6 259.8,576.6 260.3,576.6 260.8,576.6 261.3,576.6 261.8,576.6 262.3,576.6 262.8,576.6 263.3,576.6 263.8,576.6 264.3,576.6 264.8,576.6 265.3,576.6 265.8,576.6 266.3,576.6 266.8,576.6 267.3,576.6 267.8,576.6 268.3,576.6 268.8,576.6 269.3,576.6 269.8,576.6 270.3,576.6 270.8,576.6 271.3,576.6 271.8,576.6 272.3,576.6 272.8,576.6 273.3,576.6 273.8,576.6 274.3,576.6 274.8,576.6 275.3,576.6 275.8,576.6 276.3,576.6 276.8,576.6 277.3,576.6 277.8,576.6 278.3,576.6 278.8,576.6 279.3,576.6 279.8,576.6 280.3,576.6 280.8,576.6 281.3,576.6 281.8,576.6 282.3,576.6 282.8,576.6 283.3,576.6 283.8,576.6 284.3,576.6 284.8,576.6 285.3,576.6 285.8,576.6 286.3,576.6 286.8,576.6 287.3,576.6 287.8,576.6 288.3,576.6 288.8,576.6 289.3,576.6 289.8,576.6 290.3,576.6 290.8,576.6 291.3,576.6 291.8,576.6 292.3,576.6 292.8,576.6 293.3,576.6 293.8,576.6 294.3,576.6 294.8,576.6 295.3,576.6 295.8,576.6 296.3,576.6 296.8,576.6 297.3,576.6 297.8,576.6 298.3,576.6 298.8,576.6 299.3,576.6 299.8,576.6 300.3,576.6 300.8,576.6 301.3,576.6 301.8,576.6 302.3,576.6 302.8,576.6 303.3,576.6 303.8,576.6 304.3,576.6 304.8,576.6 305.3,576.6 305.8,576.6 306.3,576.6 306.8,576.6 307.3,576.6 307.8,576.6 308.3,576.6 308.8,576.5 309.3,576.5 309.8,576.5 310.3,576.5 310.8,576.5 311.3,576.5 311.8,576.5 312.3,576.5 312.8,576.5 313.3,576.5 313.8,576.5 314.3,576.4 314.8,576.4 315.3,576.4 315.8,576.4 316.3,576.4 316.8,576.4 317.3,576.3 317.8,576.3 318.3,576.3 318.8,576.2 319.3,576.2 319.8,576.2 320.3,576.1 320.8,576.0 321.3,576.0 321.8,575.9 322.3,575.8 322.8,575.6 323.3,575.5 323.8,575.3 324.3,575.1 324.8,574.8 325.3,574.5 325.8,574.1 326.3,573.6 326.8,573.1 327.3,572.4 327.8,571.7 328.3,570.7 328.8,569.6 329.3,568.4 329.8,566.9 330.3,565.2 330.8,563.3 331.3,561.0 331.8,558.5 332.3,555.7 332.8,552.5 333.3,548.9 333.8,545.0 334.3,540.7 334.8,536.0 335.3,530.9 335.8,525.4 336.3,519.5 336.8,513.3 337.3,506.8 337.8,500.0 338.3,493.0 338.8,485.8 339.3,478.5 339.8,471.2 340.3,463.9 340.8,456.8 341.3,449.9 341.8,443.3 342.3,437.1 342.8,431.4 343.3,426.3 343.8,421.8 344.3,418.0 344.8,415.1 345.3,412.9 345.8,411.6 346.3,411.2 346.8,411.7 347.3,413.0 347.8,415.2 348.3,418.3 348.8,422.1 349.3,426.6 349.8,431.8 350.3,437.5 350.8,443.8 351.3,450.4 351.8,457.4 352.3,464.5 352.8,471.8 353.3,479.2 353.8,486.5 354.3,493.7 354.8,500.8 355.3,507.6 355.8,514.1 356.3,520.3 356.8,526.2 357.3,531.7 357.8,536.8 358.3,541.5 358.8,545.9 359.3,549.8 359.8,553.3 360.3,556.5 360.8,559.4 361.3,561.9 361.8,564.1 362.3,566.0 362.8,567.7 363.3,569.2 363.8,570.4 364.3,571.5 364.8,572.4 365.3,573.1 365.8,573.8 366.3,574.3 366.8,574.7 367.3,575.1 367.8,575.3 368.3,575.5 368.8,575.7 369.3,575.8 369.8,575.9 370.3,575.9 370.8,575.9 371.3,575.9 371.8,575.8 372.3,575.7 372.8,575.6 373.3,575.4 373.8,575.2 374.3,575.0 374.8,574.8 375.3,574.6 375.8,574.4 376.3,574.2 376.8,574.0 377.3,573.8 377.8,573.7 378.3,573.6 378.8,573.6 379.3,573.6 379.8,573.7 380.3,573.7 380.8,573.9 381.3,574.1 381.8,574.2 382.3,574.5 382.8,574.7 383.3,574.9 383.8,575.1 384.3,575.4 384.8,575.6 385.3,575.7 385.8,575.9 386.3,576.0 386.8,576.2 387.3,576.3 387.8,576.3 388.3,576.4 388.8,576.5 389.3,576.5 389.8,576.5 390.3,576.5 390.8,576.6 391.3,576.6 391.8,576.6 392.3,576.6 392.8,576.6 393.3,576.6 393.8,576.6 394.3,576.6 394.8,576.6 395.3,576.6 395.8,576.6 396.3,576.6 396.8,576.6 397.3,576.6 397.8,576.6 398.3,576.6 398.8,576.6 399.3,576.6 399.8,576.6 400.3,576.6 400.8,576.6 401.3,576.6 401.8,576.6 402.3,576.6 402.8,576.6 403.3,576.6 403.8,576.6 404.3,576.6 404.8,576.6 405.3,576.6 405.8,576.6 406.3,576.6 406.8,576.6 407.3,576.6 407.8,576.6 408.3,576.6 408.8,576.6 409.3,576.6 409.8,576.6 410.3,576.6 410.8,576.6 411.3,576.6 411.8,576.6 412.3,576.6 412.8,576.6 413.3,576.6 413.8,576.6 414.3,576.6 414.8,576.6 415.3,576.6 415.8,576.6 416.3,576.6 416.8,576.6 417.3,576.6 417.8,576.6 418.3,576.6 418.8,576.6 419.3,576.6 419.8,576.6 420.3,576.6 420.8,576.6 421.3,576.6 421.8,576.6 422.3,576.6 422.8,576.6 423.3,576.6 423.8,576.6 424.3,576.6 424.8,576.6 425.3,576.6 425.8,576.6 426.3,576.6 426.8,576.6 427.3,576.6 427.8,576.6 428.3,576.6 428.8,576.6 429.3,576.6 429.8,576.6 430.3,576.6 430.8,576.6 431.3,576.6 431.8,576.6 432.3,576.6 432.8,576.6 433.3,576.6 433.8,576.6 434.3,576.6 434.8,576.6 435.3,576.6 435.8,576.6 436.3,576.6 436.8,576.6 437.3,576.6 437.8,576.6 438.3,576.6 438.8,576.6 439.3,576.6 439.8,576.6 440.3,576.6 440.8,576.6 441.3,576.6 441.8,576.6 442.3,576.6 442.8,576.6 443.3,576.6 443.8,576.6 444.3,576.6 444.8,576.6 445.3,576.6 445.8,576.6 446.3,576.6 446.8,576.6 447.3,576.6 447.8,576.6 448.3,576.6 448.8,576.6 449.3,576.6 449.8,576.6 450.3,576.6 450.8,576.6 451.3,576.6 451.8,576.6 452.3,576.5 452.8,576.5 453.3,576.5 453.8,576.5 454.3,576.4 454.8,576.4 455.3,576.3 455.8,576.2 456.3,576.2 456.8,576.1 457.3,576.0 457.8,575.9 458.3,575.8 458.8,575.7 459.3,575.6 459.8,575.5 460.3,575.4 460.8,575.4 461.3,575.3 461.8,575.3 462.3,575.3 462.8,575.3 463.3,575.3 463.8,575.4 464.3,575.5 464.8,575.5 465.3,575.6 465.8,575.7 466.3,575.8 466.8,575.9 467.3,576.0 467.8,576.1 468.3,576.2 468.8,576.3 469.3,576.3 469.8,576.4 470.3,576.4 470.8,576.5 471.3,576.5 471.8,576.5 472.3,576.5 472.8,576.6 473.3,576.6 473.8,576.6 474.3,576.6 474.8,576.6 475.3,576.6 475.8,576.6 476.3,576.6 476.8,576.6 477.3,576.6 477.8,576.6 478.3,576.6 478.8,576.6 479.3,576.6 479.8,576.6 480.3,576.6 480.8,576.6 481.3,576.6 481.8,576.6 482.3,576.6 482.8,576.6 483.3,576.6 483.8,576.6 484.3,576.6 484.8,576.6 485.3,576.6 485.8,576.6 486.3,576.6 486.8,576.6 487.3,576.6 487.8,576.6 488.3,576.6 488.8,576.6 489.3,576.6 489.8,576.6 490.3,576.6 490.8,576.6 491.3,576.6 491.8,576.6 492.3,576.6 492.8,576.6 493.3,576.6 493.8,576.6 494.3,576.6 494.8,576.6 495.3,576.6 495.8,576.6 496.3,576.6 496.8,576.6 497.3,576.6 497.8,576.6 498.3,576.6 498.8,576.6 499.3,576.6 499.8,576.6 500.3,576.6 500.8,576.6 501.3,576.6 501.8,576.6 502.3,576.6 502.8,576.6 503.3,576.6 503.8,576.6 504.3,576.6 504.8,576.6 505.3,576.6 505.8,576.6 506.3,576.6 506.8,576.6 507.3,576.6 507.8,576.6 508.3,576.6 508.8,576.6 509.3,576.6 509.8,576.6 510.3,576.6 510.8,576.6 511.3,576.6 511.8,576.6 512.3,576.6 512.8,576.6 513.3,576.6 513.8,576.6 514.3,576.6 514.8,576.6 515.3,576.6 515.8,576.6 516.3,576.6 516.8,576.6 517.3,576.6 517.8,576.6 518.3,576.6 518.8,576.6 519.3,576.6 519.8,576.6 520.3,576.6 520.8,576.6 521.3,576.6 521.8,576.6 522.3,576.6 522.8,576.6 523.3,576.6 523.8,576.6 524.3,576.6 524.8,576.6 525.3,576.6 525.8,576.6 526.3,576.6 526.8,576.6 527.3,576.6 527.8,576.6 528.3,576.6 528.8,576.6 529.3,576.6 529.8,576.6 530.3,576.6 530.8,576.6 531.3,576.6 531.8,576.6 532.3,576.6 532.8,576.5 533.3,576.5 533.8,576.5 534.3,576.4 534.8,576.4 535.3,576.3 535.8,576.2 536.3,576.0 536.8,575.8 537.3,575.5 537.8,575.2 538.3,574.7 538.8,574.2 539.3,573.5 539.8,572.6 540.3,571.5 540.8,570.3 541.3,568.8 541.8,567.0 542.3,564.9 542.8,562.5 543.3,559.8 543.8,556.8 544.3,553.4 544.8,549.8 545.3,545.8 545.8,541.6 546.3,537.2 546.8,532.7 547.3,528.1 547.8,523.6 548.3,519.2 548.8,515.0 549.3,511.2 549.8,507.8 550.3,504.9 550.8,502.5 551.3,500.9 551.8,499.9 552.3,499.7 552.8,500.2 553.3,501.5 553.8,503.4 554.3,506.0 554.8,509.1 555.3,512.7 555.8,516.7 556.3,520.9 556.8,525.4 557.3,530.0 557.8,534.5 558.3,539.0 558.8,543.3 559.3,547.4 559.8,551.3 560.3,554.8 560.8,558.0 561.3,560.9 561.8,563.5 562.3,565.8 562.8,567.7 563.3,569.4 563.8,570.8 564.3,572.0 564.8,573.0 565.3,573.8 565.8,574.4 566.3,574.9 566.8,575.3 567.3,575.6 567.8,575.9 568.3,576.1 568.8,576.2 569.3,576.3 569.8,576.4 570.3,576.5 570.8,576.5 571.3,576.5 571.8,576.6 572.3,576.6 572.8,576.6 573.3,576.6 573.8,576.6 574.3,576.6 574.8,576.6 575.3,576.6 575.8,576.6 576.3,576.6 576.8,576.6 577.3,576.6 577.8,576.6 578.3,576.6 578.8,576.6 579.3,576.6 579.8,576.6 580.3,576.6 580.8,576.6 581.3,576.6 581.8,576.6 582.3,576.6 582.8,576.6 583.3,576.6 583.8,576.6 584.3,576.6 584.8,576.6 585.3,576.6 585.8,576.6 586.3,576.6 586.8,576.6 587.3,576.6 587.8,576.6 588.3,576.6 588.8,576.6 589.3,576.6 589.8,576.6 590.3,576.6 590.8,576.6 591.3,576.6 591.8,576.6 592.3,576.6 592.8,576.6 593.3,576.6 593.8,576.6 594.3,576.6 594.8,576.6 595.3,576.6 595.8,576.6 596.3,576.6 596.8,576.6 597.3,576.6 597.8,576.6 598.3,576.6 598.8,576.6 599.3,576.6 599.8,576.6 600.3,576.6 600.8,576.6 601.3,576.6 601.8,576.6 602.3,576.6 602.8,576.6 603.3,576.6 603.8,576.6 604.3,576.6 604.8,576.6 605.3,576.6 605.8,576.6 606.3,576.6 606.8,576.6 607.3,576.6 607.8,576.6 608.3,576.6 608.8,576.6 609.3,576.6 609.8,576.6 610.3,576.6 610.8,576.6 611.3,576.6 611.8,576.6 612.3,576.6 612.8,576.6 613.3,576.6 613.8,576.6 614.3,576.6 614.8,576.6 615.3,576.6 615.8,576.6 616.3,576.6 616.8,576.6 617.3,576.6 617.8,576.6 618.3,576.6 618.8,576.6 619.3,576.6 619.8,576.6 620.3,576.6 620.8,576.6 621.3,576.6 621.8,576.6 622.3,576.6 622.8,576.6 623.3,576.6 623.8,576.6 624.3,576.6 624.8,576.6 625.3,576.6 625.8,576.6 626.3,576.6 626.8,576.6 627.3,576.6 627.8,576.6 628.3,576.6 628.8,576.6 629.3,576.6 629.8,576.6 630.3,576.6 630.8,576.6 631.3,576.6 631.8,576.6 632.3,576.6 632.8,576.6 633.3,576.6 633.8,576.6 634.3,576.6 634.8,576.6 635.3,576.6 635.8,576.6 636.3,576.6 636.8,576.6 637.3,576.6 637.8,576.6 638.3,576.6 638.8,576.6 639.3,576.6 639.8,576.6 640.3,576.6 640.8,576.6 641.3,576.6 641.8,576.6 642.3,576.6 642.8,576.6 643.3,576.6 643.8,576.6 644.3,576.6 644.8,576.6 645.3,576.5 645.8,576.5 646.3,576.5 646.8,576.5 647.3,576.5 647.8,576.5 648.3,576.4 648.8,576.4 649.3,576.4 649.8,576.3 650.3,576.3 650.8,576.3 651.3,576.2 651.8,576.2 652.3,576.1 652.8,576.1 653.3,576.0 653.8,576.0 654.3,575.9 654.8,575.9 655.3,575.8 655.8,575.8 656.3,575.7 656.8,575.7 657.3,575.7 657.8,575.6 658.3,575.6 658.8,575.6 659.3,575.6 659.8,575.6 660.3,575.6 660.8,575.6 661.3,575.6 661.8,575.7 662.3,575.7 662.8,575.7 663.3,575.8 663.8,575.8 664.3,575.9 664.8,575.9 665.3,576.0 665.8,576.0 666.3,576.1 666.8,576.1 667.3,576.2 667.8,576.2 668.3,576.3 668.8,576.3 669.3,576.3 669.8,576.4 670.3,576.4 670.8,576.4 671.3,576.5 671.8,576.5 672.3,576.5 672.8,576.5 673.3,576.5 673.8,576.5 674.3,576.6 674.8,576.6 675.3,576.6 675.8,576.6 676.3,576.6 676.8,576.6 677.3,576.6 677.8,576.6" fill="none" stroke="#d4073f" stroke-width="2.1" stroke-linejoin="round" stroke-linecap="round" />
<polyline points="57.8,577.0 58.3,577.0 58.8,577.0 59.3,577.0 59.8,577.0 60.3,577.0 60.8,577.0 61.3,577.0 61.8,577.0 62.3,577.0 62.8,577.0 63.3,577.0 63.8,577.0 64.3,577.0 64.8,577.0 65.3,577.0 65.8,577.0 66.3,577.0 66.8,577.0 67.3,577.0 67.8,577.0 68.3,577.0 68.8,577.0 69.3,577.0 69.8,577.0 70.3,577.0 70.8,577.0 71.3,577.0 71.8,577.0 72.3,577.0 72.8,577.0 73.3,577.0 73.8,577.0 74.3,577.0 74.8,577.0 75.3,577.0 75.8,577.0 76.3,577.0 76.8,577.0 77.3,577.0 77.8,577.0 78.3,577.0 78.8,577.0 79.3,577.0 79.8,577.0 80.3,577.0 80.8,577.0 81.3,577.0 81.8,577.0 82.3,577.0 82.8,577.0 83.3,577.0 83.8,577.0 84.3,577.0 84.8,577.0 85.3,577.0 85.8,577.0 86.3,577.0 86.8,577.0 87.3,577.0 87.8,577.0 88.3,577.0 88.8,577.0 89.3,577.0 89.8,577.0 90.3,577.0 90.8,577.0 91.3,577.0 91.8,577.0 92.3,577.0 92.8,577.0 93.3,577.0 93.8,577.0 94.3,577.0 94.8,577.0 95.3,577.0 95.8,577.0 96.3,577.0 96.8,577.0 97.3,577.0 97.8,577.0 98.3,577.0 98.8,577.0 99.3,577.0 99.8,577.0 100.3,577.0 100.8,577.0 101.3,577.0 101.8,577.0 102.3,577.0 102.8,577.0 103.3,577.0 103.8,577.0 104.3,577.0 104.8,577.0 105.3,577.0 105.8,577.0 106.3,577.0 106.8,577.0 107.3,577.0 107.8,577.0 108.3,577.0 108.8,577.0 109.3,577.0 109.8,577.0 110.3,577.0 110.8,577.0 111.3,577.0 111.8,577.0 112.3,577.0 112.8,577.0 113.3,577.0 113.8,577.0 114.3,577.0 114.8,577.0 115.3,577.0 115.8,577.0 116.3,577.0 116.8,577.0 117.3,577.0 117.8,577.0 118.3,577.0 118.8,577.0 119.3,577.0 119.8,577.0 120.3,577.0 120.8,577.0 121.3,577.0 121.8,577.0 122.3,577.0 122.8,577.0 123.3,577.0 123.8,577.0 124.3,577.0 124.8,577.0 125.3,577.0 125.8,577.0 126.3,577.0 126.8,577.0 127.3,577.0 127.8,577.0 128.3,577.0 128.8,577.0 129.3,577.0 129.8,577.0 130.3,577.0 130.8,577.0 131.3,577.0 131.8,577.0 132.3,577.0 132.8,577.0 133.3,577.0 133.8,577.0 134.3,577.0 134.8,577.0 135.3,577.0 135.8,577.0 136.3,577.0 136.8,577.0 137.3,577.0 137.8,577.0 138.3,577.0 138.8,577.0 139.3,577.0 139.8,577.0 140.3,577.0 140.8,577.0 141.3,577.0 141.8,577.0 142.3,577.0 142.8,577.0 143.3,577.0 143.8,577.0 144.3,577.0 144.8,577.0 145.3,577.0 145.8,577.0 146.3,577.0 146.8,577.0 147.3,577.0 147.8,577.0 148.3,577.0 148.8,577.0 149.3,577.0 149.8,577.0 150.3,577.0 150.8,577.0 151.3,577.0 151.8,577.0 152.3,577.0 152.8,577.0 153.3,577.0 153.8,577.0 154.3,577.0 154.8,577.0 155.3,577.0 155.8,577.0 156.3,577.0 156.8,577.0 157.3,577.0 157.8,577.0 158.3,577.0 158.8,577.0 159.3,577.0 159.8,577.0 160.3,577.0 160.8,576.9 161.3,576.9 161.8,576.9 162.3,576.9 162.8,576.8 163.3,576.8 163.8,576.8 164.3,576.7 164.8,576.6 165.3,576.5 165.8,576.4 166.3,576.3 166.8,576.1 167.3,575.9 167.8,575.7 168.3,575.4 168.8,575.1 169.3,574.7 169.8,574.3 170.3,573.8 170.8,573.2 171.3,572.6 171.8,571.9 172.3,571.1 172.8,570.2 173.3,569.2 173.8,568.1 174.3,567.0 174.8,565.7 175.3,564.4 175.8,563.0 176.3,561.5 176.8,559.9 177.3,558.3 177.8,556.7 178.3,555.0 178.8,553.3 179.3,551.6 179.8,549.9 180.3,548.3 180.8,546.8 181.3,545.3 181.8,544.0 182.3,542.8 182.8,541.7 183.3,540.8 183.8,540.0 184.3,539.5 184.8,539.1 185.3,539.0 185.8,539.1 186.3,539.3 186.8,539.8 187.3,540.5 187.8,541.3 188.3,542.3 188.8,543.5 189.3,544.8 189.8,546.2 190.3,547.7 190.8,549.3 191.3,550.9 191.8,552.6 192.3,554.3 192.8,556.0 193.3,557.6 193.8,559.3 194.3,560.9 194.8,562.4 195.3,563.8 195.8,565.2 196.3,566.5 196.8,567.7 197.3,568.8 197.8,569.8 198.3,570.7 198.8,571.5 199.3,572.3 199.8,573.0 200.3,573.6 200.8,574.1 201.3,574.5 201.8,574.9 202.3,575.3 202.8,575.6 203.3,575.8 203.8,576.0 204.3,576.2 204.8,576.4 205.3,576.5 205.8,576.6 206.3,576.7 206.8,576.7 207.3,576.8 207.8,576.8 208.3,576.9 208.8,576.9 209.3,576.9 209.8,576.9 210.3,577.0 210.8,577.0 211.3,577.0 211.8,577.0 212.3,577.0 212.8,577.0 213.3,577.0 213.8,577.0 214.3,577.0 214.8,577.0 215.3,577.0 215.8,577.0 216.3,577.0 216.8,577.0 217.3,577.0 217.8,577.0 218.3,577.0 218.8,577.0 219.3,577.0 219.8,577.0 220.3,577.0 220.8,577.0 221.3,577.0 221.8,577.0 222.3,577.0 222.8,577.0 223.3,577.0 223.8,577.0 224.3,577.0 224.8,577.0 225.3,577.0 225.8,577.0 226.3,577.0 226.8,577.0 227.3,577.0 227.8,577.0 228.3,577.0 228.8,577.0 229.3,577.0 229.8,577.0 230.3,577.0 230.8,577.0 231.3,577.0 231.8,577.0 232.3,577.0 232.8,577.0 233.3,577.0 233.8,577.0 234.3,577.0 234.8,577.0 235.3,577.0 235.8,576.9 236.3,576.9 236.8,576.9 237.3,576.9 237.8,576.9 238.3,576.9 238.8,576.9 239.3,576.9 239.8,576.8 240.3,576.8 240.8,576.8 241.3,576.8 241.8,576.7 242.3,576.7 242.8,576.7 243.3,576.7 243.8,576.6 244.3,576.6 244.8,576.6 245.3,576.5 245.8,576.5 246.3,576.4 246.8,576.4 247.3,576.4 247.8,576.3 248.3,576.3 248.8,576.3 249.3,576.2 249.8,576.2 250.3,576.2 250.8,576.1 251.3,576.1 251.8,576.1 252.3,576.1 252.8,576.0 253.3,576.0 253.8,576.0 254.3,576.0 254.8,576.0 255.3,576.0 255.8,576.0 256.3,576.0 256.8,576.0 257.3,576.0 257.8,576.1 258.3,576.1 258.8,576.1 259.3,576.1 259.8,576.2 260.3,576.2 260.8,576.2 261.3,576.3 261.8,576.3 262.3,576.3 262.8,576.4 263.3,576.4 263.8,576.5 264.3,576.5 264.8,576.5 265.3,576.6 265.8,576.6 266.3,576.6 266.8,576.7 267.3,576.7 267.8,576.7 268.3,576.7 268.8,576.8 269.3,576.8 269.8,576.8 270.3,576.8 270.8,576.9 271.3,576.9 271.8,576.9 272.3,576.9 272.8,576.9 273.3,576.9 273.8,576.9 274.3,576.9 274.8,577.0 275.3,577.0 275.8,577.0 276.3,577.0 276.8,577.0 277.3,577.0 277.8,577.0 278.3,577.0 278.8,577.0 279.3,577.0 279.8,577.0 280.3,577.0 280.8,577.0 281.3,577.0 281.8,577.0 282.3,577.0 282.8,577.0 283.3,577.0 283.8,577.0 284.3,577.0 284.8,577.0 285.3,577.0 285.8,577.0 286.3,577.0 286.8,577.0 287.3,577.0 287.8,577.0 288.3,577.0 288.8,577.0 289.3,577.0 289.8,577.0 290.3,577.0 290.8,577.0 291.3,577.0 291.8,577.0 292.3,577.0 292.8,577.0 293.3,577.0 293.8,577.0 294.3,577.0 294.8,577.0 295.3,577.0 295.8,577.0 296.3,577.0 296.8,577.0 297.3,577.0 297.8,577.0 298.3,577.0 298.8,577.0 299.3,577.0 299.8,577.0 300.3,577.0 300.8,577.0 301.3,577.0 301.8,577.0 302.3,577.0 302.8,577.0 303.3,577.0 303.8,577.0 304.3,577.0 304.8,577.0 305.3,577.0 305.8,577.0 306.3,577.0 306.8,577.0 307.3,577.0 307.8,577.0 308.3,577.0 308.8,577.0 309.3,577.0 309.8,577.0 310.3,577.0 310.8,577.0 311.3,577.0 311.8,577.0 312.3,577.0 312.8,577.0 313.3,577.0 313.8,577.0 314.3,577.0 314.8,577.0 315.3,577.0 315.8,577.0 316.3,577.0 316.8,577.0 317.3,577.0 317.8,577.0 318.3,577.0 318.8,577.0 319.3,577.0 319.8,577.0 320.3,577.0 320.8,577.0 321.3,577.0 321.8,577.0 322.3,577.0 322.8,577.0 323.3,577.0 323.8,577.0 324.3,577.0 324.8,577.0 325.3,577.0 325.8,577.0 326.3,577.0 326.8,577.0 327.3,577.0 327.8,576.9 328.3,576.9 328.8,576.9 329.3,576.8 329.8,576.7 330.3,576.6 330.8,576.5 331.3,576.3 331.8,576.1 332.3,575.8 332.8,575.4 333.3,574.9 333.8,574.3 334.3,573.5 334.8,572.5 335.3,571.4 335.8,570.0 336.3,568.3 336.8,566.4 337.3,564.2 337.8,561.6 338.3,558.7 338.8,555.5 339.3,552.0 339.8,548.1 340.3,544.0 340.8,539.6 341.3,535.1 341.8,530.4 342.3,525.8 342.8,521.2 343.3,516.8 343.8,512.7 344.3,508.9 344.8,505.7 345.3,502.9 345.8,500.8 346.3,499.4 346.8,498.8 347.3,498.8 347.8,499.7 348.3,501.2 348.8,503.4 349.3,506.3 349.8,509.7 350.3,513.5 350.8,517.7 351.3,522.1 351.8,526.7 352.3,531.4 352.8,536.0 353.3,540.5 353.8,544.8 354.3,548.9 354.8,552.7 355.3,556.2 355.8,559.3 356.3,562.2 356.8,564.6 357.3,566.8 357.8,568.7 358.3,570.3 358.8,571.6 359.3,572.7 359.8,573.6 360.3,574.4 360.8,575.0 361.3,575.5 361.8,575.8 362.3,576.1 362.8,576.4 363.3,576.5 363.8,576.7 364.3,576.8 364.8,576.8 365.3,576.9 365.8,576.9 366.3,576.9 366.8,577.0 367.3,577.0 367.8,577.0 368.3,577.0 368.8,577.0 369.3,577.0 369.8,577.0 370.3,577.0 370.8,577.0 371.3,577.0 371.8,577.0 372.3,577.0 372.8,577.0 373.3,577.0 373.8,577.0 374.3,577.0 374.8,577.0 375.3,577.0 375.8,577.0 376.3,577.0 376.8,577.0 377.3,577.0 377.8,577.0 378.3,577.0 378.8,577.0 379.3,577.0 379.8,577.0 380.3,577.0 380.8,577.0 381.3,577.0 381.8,577.0 382.3,577.0 382.8,577.0 383.3,577.0 383.8,577.0 384.3,577.0 384.8,577.0 385.3,577.0 385.8,577.0 386.3,577.0 386.8,577.0 387.3,577.0 387.8,577.0 388.3,577.0 388.8,577.0 389.3,577.0 389.8,577.0 390.3,577.0 390.8,577.0 391.3,577.0 391.8,577.0 392.3,577.0 392.8,577.0 393.3,577.0 393.8,577.0 394.3,577.0 394.8,577.0 395.3,577.0 395.8,577.0 396.3,577.0 396.8,577.0 397.3,577.0 397.8,577.0 398.3,577.0 398.8,577.0 399.3,577.0 399.8,577.0 400.3,577.0 400.8,577.0 401.3,577.0 401.8,577.0 402.3,577.0 402.8,577.0 403.3,577.0 403.8,577.0 404.3,577.0 404.8,577.0 405.3,577.0 405.8,577.0 406.3,577.0 406.8,577.0 407.3,577.0 407.8,577.0 408.3,577.0 408.8,577.0 409.3,577.0 409.8,577.0 410.3,577.0 410.8,577.0 411.3,577.0 411.8,577.0 412.3,577.0 412.8,577.0 413.3,577.0 413.8,577.0 414.3,577.0 414.8,577.0 415.3,577.0 415.8,577.0 416.3,577.0 416.8,577.0 417.3,577.0 417.8,577.0 418.3,577.0 418.8,577.0 419.3,577.0 419.8,577.0 420.3,577.0 420.8,577.0 421.3,577.0 421.8,577.0 422.3,577.0 422.8,577.0 423.3,577.0 423.8,577.0 424.3,577.0 424.8,577.0 425.3,577.0 425.8,577.0 426.3,577.0 426.8,577.0 427.3,577.0 427.8,577.0 428.3,577.0 428.8,577.0 429.3,577.0 429.8,577.0 430.3,577.0 430.8,577.0 431.3,577.0 431.8,577.0 432.3,577.0 432.8,577.0 433.3,577.0 433.8,577.0 434.3,577.0 434.8,577.0 435.3,577.0 435.8,577.0 436.3,577.0 436.8,577.0 437.3,577.0 437.8,577.0 438.3,577.0 438.8,577.0 439.3,577.0 439.8,577.0 440.3,577.0 440.8,577.0 441.3,577.0 441.8,577.0 442.3,577.0 442.8,577.0 443.3,577.0 443.8,577.0 444.3,577.0 444.8,577.0 445.3,577.0 445.8,577.0 446.3,577.0 446.8,577.0 447.3,577.0 447.8,577.0 448.3,577.0 448.8,577.0 449.3,577.0 449.8,577.0 450.3,577.0 450.8,577.0 451.3,577.0 451.8,577.0 452.3,577.0 452.8,577.0 453.3,577.0 453.8,577.0 454.3,577.0 454.8,577.0 455.3,577.0 455.8,577.0 456.3,577.0 456.8,577.0 457.3,577.0 457.8,577.0 458.3,577.0 458.8,577.0 459.3,577.0 459.8,577.0 460.3,577.0 460.8,577.0 461.3,577.0 461.8,577.0 462.3,577.0 462.8,577.0 463.3,577.0 463.8,577.0 464.3,577.0 464.8,577.0 465.3,577.0 465.8,577.0 466.3,577.0 466.8,577.0 467.3,577.0 467.8,577.0 468.3,577.0 468.8,577.0 469.3,577.0 469.8,577.0 470.3,577.0 470.8,577.0 471.3,577.0 471.8,577.0 472.3,577.0 472.8,577.0 473.3,577.0 473.8,577.0 474.3,577.0 474.8,577.0 475.3,577.0 475.8,577.0 476.3,577.0 476.8,577.0 477.3,577.0 477.8,577.0 478.3,577.0 478.8,577.0 479.3,577.0 479.8,577.0 480.3,577.0 480.8,577.0 481.3,577.0 481.8,576.9 482.3,576.9 482.8,576.9 483.3,576.9 483.8,576.9 484.3,576.8 484.8,576.8 485.3,576.8 485.8,576.7 486.3,576.7 486.8,576.6 487.3,576.6 487.8,576.5 488.3,576.5 488.8,576.4 489.3,576.3 489.8,576.3 490.3,576.2 490.8,576.1 491.3,576.0 491.8,576.0 492.3,575.9 492.8,575.8 493.3,575.7 493.8,575.7 494.3,575.6 494.8,575.5 495.3,575.5 495.8,575.4 496.3,575.4 496.8,575.3 497.3,575.3 497.8,575.3 498.3,575.2 498.8,575.2 499.3,575.1 499.8,575.1 500.3,575.1 500.8,575.0 501.3,574.9 501.8,574.8 502.3,574.8 502.8,574.7 503.3,574.6 503.8,574.5 504.3,574.4 504.8,574.2 505.3,574.1 505.8,574.0 506.3,574.0 506.8,573.9 507.3,573.8 507.8,573.8 508.3,573.8 508.8,573.8 509.3,573.8 509.8,573.9 510.3,574.0 510.8,574.1 511.3,574.2 511.8,574.4 512.3,574.5 512.8,574.7 513.3,574.9 513.8,575.1 514.3,575.3 514.8,575.5 515.3,575.6 515.8,575.8 516.3,576.0 516.8,576.1 517.3,576.2 517.8,576.4 518.3,576.5 518.8,576.6 519.3,576.6 519.8,576.7 520.3,576.8 520.8,576.8 521.3,576.9 521.8,576.9 522.3,576.9 522.8,576.9 523.3,576.9 523.8,577.0 524.3,577.0 524.8,577.0 525.3,577.0 525.8,577.0 526.3,577.0 526.8,577.0 527.3,577.0 527.8,577.0 528.3,577.0 528.8,577.0 529.3,577.0 529.8,577.0 530.3,577.0 530.8,577.0 531.3,577.0 531.8,577.0 532.3,577.0 532.8,577.0 533.3,577.0 533.8,576.9 534.3,576.9 534.8,576.9 535.3,576.8 535.8,576.8 536.3,576.7 536.8,576.6 537.3,576.5 537.8,576.3 538.3,576.0 538.8,575.7 539.3,575.3 539.8,574.9 540.3,574.3 540.8,573.6 541.3,572.7 541.8,571.7 542.3,570.5 542.8,569.1 543.3,567.5 543.8,565.7 544.3,563.7 544.8,561.5 545.3,559.2 545.8,556.6 546.3,554.0 546.8,551.2 547.3,548.4 547.8,545.6 548.3,542.9 548.8,540.3 549.3,538.0 549.8,535.8 550.3,534.0 550.8,532.6 551.3,531.5 551.8,530.9 552.3,530.8 552.8,531.1 553.3,531.9 553.8,533.1 554.3,534.7 554.8,536.6 555.3,538.9 555.8,541.3 556.3,544.0 556.8,546.7 557.3,549.5 557.8,552.3 558.3,555.0 558.8,557.7 559.3,560.1 559.8,562.4 560.3,564.6 560.8,566.5 561.3,568.2 561.8,569.7 562.3,571.0 562.8,572.1 563.3,573.1 563.8,573.9 564.3,574.5 564.8,575.1 565.3,575.5 565.8,575.9 566.3,576.1 566.8,576.3 567.3,576.5 567.8,576.6 568.3,576.7 568.8,576.8 569.3,576.9 569.8,576.9 570.3,576.9 570.8,577.0 571.3,577.0 571.8,577.0 572.3,577.0 572.8,577.0 573.3,577.0 573.8,577.0 574.3,577.0 574.8,577.0 575.3,577.0 575.8,577.0 576.3,577.0 576.8,577.0 577.3,577.0 577.8,577.0 578.3,577.0 578.8,577.0 579.3,577.0 579.8,577.0 580.3,577.0 580.8,577.0 581.3,577.0 581.8,577.0 582.3,577.0 582.8,577.0 583.3,577.0 583.8,577.0 584.3,577.0 584.8,577.0 585.3,577.0 585.8,577.0 586.3,577.0 586.8,577.0 587.3,577.0 587.8,577.0 588.3,577.0 588.8,577.0 589.3,577.0 589.8,577.0 590.3,577.0 590.8,577.0 591.3,577.0 591.8,577.0 592.3,577.0 592.8,577.0 593.3,577.0 593.8,577.0 594.3,577.0 594.8,577.0 595.3,577.0 595.8,577.0 596.3,577.0 596.8,577.0 597.3,577.0 597.8,577.0 598.3,577.0 598.8,577.0 599.3,577.0 599.8,577.0 600.3,577.0 600.8,577.0 601.3,577.0 601.8,577.0 602.3,577.0 602.8,577.0 603.3,577.0 603.8,577.0 604.3,577.0 604.8,577.0 605.3,577.0 605.8,577.0 606.3,577.0 606.8,577.0 607.3,577.0 607.8,577.0 608.3,577.0 608.8,577.0 609.3,577.0 609.8,577.0 610.3,577.0 610.8,577.0 611.3,577.0 611.8,577.0 612.3,577.0 612.8,577.0 613.3,577.0 613.8,577.0 614.3,577.0 614.8,577.0 615.3,577.0 615.8,577.0 616.3,577.0 616.8,577.0 617.3,577.0 617.8,577.0 618.3,577.0 618.8,577.0 619.3,577.0 619.8,577.0 620.3,577.0 620.8,577.0 621.3,577.0 621.8,577.0 622.3,577.0 622.8,577.0 623.3,577.0 623.8,577.0 624.3,577.0 624.8,577.0 625.3,577.0 625.8,577.0 626.3,577.0 626.8,577.0 627.3,577.0 627.8,577.0 628.3,577.0 628.8,577.0 629.3,577.0 629.8,577.0 630.3,577.0 630.8,577.0 631.3,577.0 631.8,577.0 632.3,577.0 632.8,577.0 633.3,577.0 633.8,577.0 634.3,577.0 634.8,577.0 635.3,577.0 635.8,577.0 636.3,577.0 636.8,577.0 637.3,577.0 637.8,577.0 638.3,577.0 638.8,577.0 639.3,577.0 639.8,577.0 640.3,577.0 640.8,577.0 641.3,577.0 641.8,577.0 642.3,577.0 642.8,577.0 643.3,577.0 643.8,577.0 644.3,577.0 644.8,577.0 645.3,577.0 645.8,577.0 646.3,577.0 646.8,577.0 647.3,577.0 647.8,577.0 648.3,577.0 648.8,577.0 649.3,577.0 649.8,577.0 650.3,577.0 650.8,577.0 651.3,577.0 651.8,577.0 652.3,577.0 652.8,577.0 653.3,577.0 653.8,577.0 654.3,577.0 654.8,577.0 655.3,577.0 655.8,577.0 656.3,577.0 656.8,577.0 657.3,577.0 657.8,577.0 658.3,577.0 658.8,577.0 659.3,577.0 659.8,577.0 660.3,577.0 660.8,577.0 661.3,577.0 661.8,577.0 662.3,577.0 662.8,577.0 663.3,577.0 663.8,577.0 664.3,577.0 664.8,577.0 665.3,577.0 665.8,577.0 666.3,577.0 666.8,577.0 667.3,577.0 667.8,577.0 668.3,577.0 668.8,577.0 669.3,577.0 669.8,577.0 670.3,577.0 670.8,577.0 671.3,577.0 671.8,577.0 672.3,577.0 672.8,577.0 673.3,577.0 673.8,577.0 674.3,577.0 674.8,577.0 675.3,577.0 675.8,577.0 676.3,577.0 676.8,577.0 677.3,577.0 677.8,577.0" fill="none" stroke="#6b5baa" stroke-width="2.1" stroke-linejoin="round" stroke-linecap="round" />
<polyline points="57.8,578.3 58.3,578.3 58.8,578.3 59.3,578.3 59.8,578.3 60.3,578.3 60.8,578.3 61.3,578.3 61.8,578.3 62.3,578.3 62.8,578.3 63.3,578.3 63.8,578.3 64.3,578.3 64.8,578.3 65.3,578.3 65.8,578.3 66.3,578.3 66.8,578.3 67.3,578.3 67.8,578.3 68.3,578.3 68.8,578.3 69.3,578.3 69.8,578.3 70.3,578.3 70.8,578.3 71.3,578.3 71.8,578.3 72.3,578.3 72.8,578.3 73.3,578.3 73.8,578.3 74.3,578.3 74.8,578.3 75.3,578.3 75.8,578.3 76.3,578.3 76.8,578.3 77.3,578.3 77.8,578.3 78.3,578.3 78.8,578.3 79.3,578.3 79.8,578.3 80.3,578.3 80.8,578.3 81.3,578.3 81.8,578.3 82.3,578.3 82.8,578.3 83.3,578.3 83.8,578.3 84.3,578.3 84.8,578.3 85.3,578.3 85.8,578.3 86.3,578.3 86.8,578.3 87.3,578.3 87.8,578.3 88.3,578.3 88.8,578.3 89.3,578.3 89.8,578.3 90.3,578.3 90.8,578.3 91.3,578.3 91.8,578.3 92.3,578.3 92.8,578.3 93.3,578.3 93.8,578.3 94.3,578.3 94.8,578.3 95.3,578.3 95.8,578.3 96.3,578.3 96.8,578.3 97.3,578.3 97.8,578.3 98.3,578.3 98.8,578.3 99.3,578.3 99.8,578.3 100.3,578.3 100.8,578.3 101.3,578.3 101.8,578.3 102.3,578.3 102.8,578.3 103.3,578.3 103.8,578.3 104.3,578.3 104.8,578.3 105.3,578.3 105.8,578.3 106.3,578.3 106.8,578.3 107.3,578.3 107.8,578.3 108.3,578.3 108.8,578.3 109.3,578.3 109.8,578.3 110.3,578.3 110.8,578.3 111.3,578.3 111.8,578.3 112.3,578.3 112.8,578.3 113.3,578.3 113.8,578.3 114.3,578.3 114.8,578.3 115.3,578.3 115.8,578.3 116.3,578.3 116.8,578.3 117.3,578.3 117.8,578.3 118.3,578.3 118.8,578.3 119.3,578.3 119.8,578.3 120.3,578.3 120.8,578.3 121.3,578.3 121.8,578.3 122.3,578.3 122.8,578.3 123.3,578.3 123.8,578.3 124.3,578.3 124.8,578.3 125.3,578.3 125.8,578.3 126.3,578.3 126.8,578.3 127.3,578.3 127.8,578.3 128.3,578.3 128.8,578.3 129.3,578.3 129.8,578.3 130.3,578.3 130.8,578.3 131.3,578.3 131.8,578.3 132.3,578.3 132.8,578.3 133.3,578.3 133.8,578.3 134.3,578.3 134.8,578.3 135.3,578.3 135.8,578.3 136.3,578.3 136.8,578.3 137.3,578.3 137.8,578.3 138.3,578.3 138.8,578.3 139.3,578.3 139.8,578.3 140.3,578.3 140.8,578.3 141.3,578.3 141.8,578.3 142.3,578.3 142.8,578.3 143.3,578.3 143.8,578.3 144.3,578.3 144.8,578.3 145.3,578.3 145.8,578.3 146.3,578.3 146.8,578.3 147.3,578.3 147.8,578.3 148.3,578.3 148.8,578.3 149.3,578.3 149.8,578.3 150.3,578.3 150.8,578.3 151.3,578.3 151.8,578.3 152.3,578.3 152.8,578.3 153.3,578.3 153.8,578.3 154.3,578.3 154.8,578.3 155.3,578.3 155.8,578.3 156.3,578.3 156.8,578.3 157.3,578.3 157.8,578.3 158.3,578.3 158.8,578.3 159.3,578.3 159.8,578.3 160.3,578.3 160.8,578.3 161.3,578.2 161.8,578.2 162.3,578.2 162.8,578.2 163.3,578.1 163.8,578.1 164.3,578.0 164.8,577.9 165.3,577.8 165.8,577.7 166.3,577.6 166.8,577.4 167.3,577.1 167.8,576.8 168.3,576.5 168.8,576.1 169.3,575.6 169.8,575.0 170.3,574.4 170.8,573.6 171.3,572.7 171.8,571.7 172.3,570.5 172.8,569.2 173.3,567.7 173.8,566.1 174.3,564.3 174.8,562.4 175.3,560.2 175.8,558.0 176.3,555.5 176.8,553.0 177.3,550.3 177.8,547.5 178.3,544.7 178.8,541.8 179.3,538.9 179.8,536.0 180.3,533.2 180.8,530.5 181.3,528.0 181.8,525.6 182.3,523.5 182.8,521.6 183.3,520.0 183.8,518.8 184.3,517.8 184.8,517.3 185.3,517.1 185.8,517.3 186.3,517.8 186.8,518.8 187.3,520.0 187.8,521.6 188.3,523.5 188.8,525.6 189.3,528.0 189.8,530.5 190.3,533.2 190.8,536.0 191.3,538.9 191.8,541.8 192.3,544.7 192.8,547.5 193.3,550.3 193.8,553.0 194.3,555.5 194.8,558.0 195.3,560.2 195.8,562.4 196.3,564.3 196.8,566.1 197.3,567.7 197.8,569.2 198.3,570.5 198.8,571.7 199.3,572.7 199.8,573.6 200.3,574.4 200.8,575.0 201.3,575.6 201.8,576.1 202.3,576.5 202.8,576.8 203.3,577.1 203.8,577.4 204.3,577.6 204.8,577.7 205.3,577.8 205.8,577.9 206.3,578.0 206.8,578.1 207.3,578.1 207.8,578.2 208.3,578.2 208.8,578.2 209.3,578.2 209.8,578.3 210.3,578.3 210.8,578.3 211.3,578.3 211.8,578.3 212.3,578.3 212.8,578.3 213.3,578.3 213.8,578.3 214.3,578.3 214.8,578.3 215.3,578.3 215.8,578.3 216.3,578.3 216.8,578.3 217.3,578.3 217.8,578.3 218.3,578.3 218.8,578.3 219.3,578.3 219.8,578.3 220.3,578.3 220.8,578.3 221.3,578.3 221.8,578.3 222.3,578.3 222.8,578.3 223.3,578.3 223.8,578.3 224.3,578.3 224.8,578.3 225.3,578.3 225.8,578.3 226.3,578.3 226.8,578.3 227.3,578.3 227.8,578.3 228.3,578.3 228.8,578.3 229.3,578.3 229.8,578.3 230.3,578.3 230.8,578.3 231.3,578.3 231.8,578.3 232.3,578.3 232.8,578.3 233.3,578.3 233.8,578.3 234.3,578.3 234.8,578.3 235.3,578.3 235.8,578.3 236.3,578.3 236.8,578.3 237.3,578.3 237.8,578.3 238.3,578.3 238.8,578.3 239.3,578.3 239.8,578.3 240.3,578.3 240.8,578.3 241.3,578.3 241.8,578.3 242.3,578.3 242.8,578.3 243.3,578.3 243.8,578.3 244.3,578.3 244.8,578.3 245.3,578.3 245.8,578.3 246.3,578.3 246.8,578.3 247.3,578.3 247.8,578.3 248.3,578.3 248.8,578.3 249.3,578.3 249.8,578.3 250.3,578.3 250.8,578.3 251.3,578.3 251.8,578.3 252.3,578.3 252.8,578.3 253.3,578.3 253.8,578.3 254.3,578.3 254.8,578.3 255.3,578.3 255.8,578.3 256.3,578.3 256.8,578.3 257.3,578.3 257.8,578.3 258.3,578.3 258.8,578.3 259.3,578.3 259.8,578.3 260.3,578.3 260.8,578.3 261.3,578.3 261.8,578.3 262.3,578.3 262.8,578.3 263.3,578.3 263.8,578.3 264.3,578.3 264.8,578.3 265.3,578.3 265.8,578.3 266.3,578.3 266.8,578.3 267.3,578.3 267.8,578.3 268.3,578.3 268.8,578.3 269.3,578.3 269.8,578.3 270.3,578.3 270.8,578.3 271.3,578.3 271.8,578.3 272.3,578.3 272.8,578.3 273.3,578.3 273.8,578.3 274.3,578.3 274.8,578.3 275.3,578.3 275.8,578.3 276.3,578.3 276.8,578.3 277.3,578.3 277.8,578.3 278.3,578.3 278.8,578.3 279.3,578.3 279.8,578.3 280.3,578.3 280.8,578.3 281.3,578.3 281.8,578.3 282.3,578.3 282.8,578.3 283.3,578.3 283.8,578.3 284.3,578.3 284.8,578.3 285.3,578.3 285.8,578.3 286.3,578.3 286.8,578.3 287.3,578.3 287.8,578.3 288.3,578.3 288.8,578.3 289.3,578.3 289.8,578.3 290.3,578.3 290.8,578.3 291.3,578.3 291.8,578.3 292.3,578.3 292.8,578.3 293.3,578.3 293.8,578.3 294.3,578.3 294.8,578.3 295.3,578.3 295.8,578.3 296.3,578.3 296.8,578.3 297.3,578.3 297.8,578.3 298.3,578.3 298.8,578.3 299.3,578.3 299.8,578.3 300.3,578.3 300.8,578.3 301.3,578.3 301.8,578.3 302.3,578.3 302.8,578.3 303.3,578.3 303.8,578.3 304.3,578.3 304.8,578.3 305.3,578.3 305.8,578.3 306.3,578.3 306.8,578.3 307.3,578.3 307.8,578.3 308.3,578.3 308.8,578.3 309.3,578.3 309.8,578.3 310.3,578.3 310.8,578.3 311.3,578.3 311.8,578.3 312.3,578.3 312.8,578.3 313.3,578.3 313.8,578.3 314.3,578.3 314.8,578.3 315.3,578.3 315.8,578.3 316.3,578.3 316.8,578.3 317.3,578.3 317.8,578.3 318.3,578.3 318.8,578.3 319.3,578.3 319.8,578.3 320.3,578.3 320.8,578.3 321.3,578.3 321.8,578.3 322.3,578.3 322.8,578.3 323.3,578.3 323.8,578.3 324.3,578.2 324.8,578.2 325.3,578.2 325.8,578.1 326.3,578.1 326.8,578.0 327.3,577.9 327.8,577.8 328.3,577.6 328.8,577.4 329.3,577.1 329.8,576.7 330.3,576.2 330.8,575.6 331.3,574.9 331.8,574.0 332.3,573.0 332.8,571.7 333.3,570.1 333.8,568.3 334.3,566.1 334.8,563.6 335.3,560.7 335.8,557.3 336.3,553.6 336.8,549.3 337.3,544.6 337.8,539.4 338.3,533.7 338.8,527.6 339.3,521.1 339.8,514.2 340.3,507.0 340.8,499.6 341.3,492.0 341.8,484.5 342.3,477.0 342.8,469.8 343.3,462.9 343.8,456.4 344.3,450.6 344.8,445.5 345.3,441.2 345.8,437.8 346.3,435.3 346.8,433.9 347.3,433.6 347.8,434.4 348.3,436.2 348.8,439.0 349.3,442.8 349.8,447.4 350.3,452.9 350.8,459.0 351.3,465.6 351.8,472.6 352.3,480.0 352.8,487.5 353.3,495.1 353.8,502.6 354.3,509.9 354.8,517.0 355.3,523.7 355.8,530.1 356.3,536.0 356.8,541.5 357.3,546.5 357.8,551.1 358.3,555.1 358.8,558.7 359.3,561.9 359.8,564.6 360.3,567.0 360.8,569.0 361.3,570.8 361.8,572.2 362.3,573.4 362.8,574.4 363.3,575.2 363.8,575.9 364.3,576.4 364.8,576.9 365.3,577.2 365.8,577.5 366.3,577.7 366.8,577.8 367.3,577.9 367.8,578.0 368.3,578.1 368.8,578.2 369.3,578.2 369.8,578.2 370.3,578.2 370.8,578.3 371.3,578.3 371.8,578.3 372.3,578.3 372.8,578.3 373.3,578.3 373.8,578.3 374.3,578.3 374.8,578.3 375.3,578.3 375.8,578.3 376.3,578.3 376.8,578.3 377.3,578.3 377.8,578.3 378.3,578.3 378.8,578.3 379.3,578.3 379.8,578.3 380.3,578.3 380.8,578.3 381.3,578.3 381.8,578.3 382.3,578.3 382.8,578.3 383.3,578.3 383.8,578.3 384.3,578.3 384.8,578.3 385.3,578.3 385.8,578.3 386.3,578.3 386.8,578.3 387.3,578.3 387.8,578.3 388.3,578.3 388.8,578.3 389.3,578.3 389.8,578.3 390.3,578.3 390.8,578.3 391.3,578.3 391.8,578.3 392.3,578.3 392.8,578.3 393.3,578.3 393.8,578.3 394.3,578.3 394.8,578.3 395.3,578.3 395.8,578.3 396.3,578.3 396.8,578.3 397.3,578.3 397.8,578.3 398.3,578.3 398.8,578.3 399.3,578.3 399.8,578.3 400.3,578.3 400.8,578.3 401.3,578.3 401.8,578.3 402.3,578.3 402.8,578.3 403.3,578.3 403.8,578.3 404.3,578.3 404.8,578.3 405.3,578.3 405.8,578.3 406.3,578.3 406.8,578.3 407.3,578.3 407.8,578.3 408.3,578.3 408.8,578.3 409.3,578.3 409.8,578.3 410.3,578.3 410.8,578.3 411.3,578.3 411.8,578.3 412.3,578.3 412.8,578.3 413.3,578.3 413.8,578.3 414.3,578.3 414.8,578.3 415.3,578.3 415.8,578.3 416.3,578.3 416.8,578.3 417.3,578.3 417.8,578.3 418.3,578.3 418.8,578.3 419.3,578.3 419.8,578.3 420.3,578.3 420.8,578.3 421.3,578.3 421.8,578.3 422.3,578.3 422.8,578.3 423.3,578.3 423.8,578.3 424.3,578.3 424.8,578.3 425.3,578.3 425.8,578.3 426.3,578.3 426.8,578.3 427.3,578.3 427.8,578.3 428.3,578.3 428.8,578.3 429.3,578.3 429.8,578.3 430.3,578.3 430.8,578.3 431.3,578.3 431.8,578.3 432.3,578.3 432.8,578.3 433.3,578.3 433.8,578.3 434.3,578.3 434.8,578.3 435.3,578.3 435.8,578.3 436.3,578.3 436.8,578.3 437.3,578.3 437.8,578.3 438.3,578.3 438.8,578.3 439.3,578.3 439.8,578.3 440.3,578.3 440.8,578.3 441.3,578.3 441.8,578.3 442.3,578.3 442.8,578.3 443.3,578.3 443.8,578.3 444.3,578.3 444.8,578.3 445.3,578.3 445.8,578.3 446.3,578.3 446.8,578.3 447.3,578.3 447.8,578.3 448.3,578.3 448.8,578.3 449.3,578.3 449.8,578.3 450.3,578.3 450.8,578.3 451.3,578.3 451.8,578.3 452.3,578.3 452.8,578.3 453.3,578.3 453.8,578.3 454.3,578.3 454.8,578.3 455.3,578.3 455.8,578.3 456.3,578.3 456.8,578.3 457.3,578.3 457.8,578.3 458.3,578.3 458.8,578.3 459.3,578.3 459.8,578.3 460.3,578.3 460.8,578.3 461.3,578.3 461.8,578.3 462.3,578.3 462.8,578.3 463.3,578.3 463.8,578.3 464.3,578.3 464.8,578.3 465.3,578.3 465.8,578.3 466.3,578.3 466.8,578.3 467.3,578.3 467.8,578.3 468.3,578.3 468.8,578.3 469.3,578.3 469.8,578.3 470.3,578.3 470.8,578.3 471.3,578.3 471.8,578.3 472.3,578.3 472.8,578.3 473.3,578.3 473.8,578.3 474.3,578.3 474.8,578.3 475.3,578.3 475.8,578.3 476.3,578.3 476.8,578.3 477.3,578.3 477.8,578.3 478.3,578.3 478.8,578.3 479.3,578.3 479.8,578.3 480.3,578.3 480.8,578.3 481.3,578.3 481.8,578.3 482.3,578.3 482.8,578.3 483.3,578.3 483.8,578.3 484.3,578.3 484.8,578.3 485.3,578.3 485.8,578.3 486.3,578.3 486.8,578.3 487.3,578.3 487.8,578.3 488.3,578.3 488.8,578.3 489.3,578.3 489.8,578.3 490.3,578.3 490.8,578.3 491.3,578.3 491.8,578.3 492.3,578.3 492.8,578.3 493.3,578.3 493.8,578.3 494.3,578.3 494.8,578.3 495.3,578.3 495.8,578.3 496.3,578.3 496.8,578.3 497.3,578.3 497.8,578.3 498.3,578.3 498.8,578.3 499.3,578.3 499.8,578.3 500.3,578.3 500.8,578.3 501.3,578.3 501.8,578.3 502.3,578.3 502.8,578.3 503.3,578.3 503.8,578.3 504.3,578.3 504.8,578.3 505.3,578.3 505.8,578.3 506.3,578.3 506.8,578.3 507.3,578.3 507.8,578.3 508.3,578.3 508.8,578.3 509.3,578.3 509.8,578.3 510.3,578.3 510.8,578.3 511.3,578.3 511.8,578.3 512.3,578.3 512.8,578.3 513.3,578.3 513.8,578.3 514.3,578.3 514.8,578.3 515.3,578.3 515.8,578.3 516.3,578.3 516.8,578.3 517.3,578.3 517.8,578.3 518.3,578.3 518.8,578.3 519.3,578.3 519.8,578.3 520.3,578.3 520.8,578.3 521.3,578.3 521.8,578.3 522.3,578.3 522.8,578.3 523.3,578.3 523.8,578.3 524.3,578.3 524.8,578.3 525.3,578.3 525.8,578.3 526.3,578.3 526.8,578.3 527.3,578.3 527.8,578.3 528.3,578.3 528.8,578.3 529.3,578.3 529.8,578.3 530.3,578.3 530.8,578.3 531.3,578.3 531.8,578.3 532.3,578.3 532.8,578.2 533.3,578.2 533.8,578.2 534.3,578.1 534.8,578.1 535.3,578.0 535.8,577.9 536.3,577.7 536.8,577.5 537.3,577.3 537.8,576.9 538.3,576.5 538.8,575.9 539.3,575.3 539.8,574.4 540.3,573.4 540.8,572.2 541.3,570.7 541.8,569.0 542.3,566.9 542.8,564.6 543.3,562.0 543.8,559.1 544.3,555.8 544.8,552.2 545.3,548.4 545.8,544.3 546.3,540.0 546.8,535.7 547.3,531.2 547.8,526.8 548.3,522.5 548.8,518.5 549.3,514.8 549.8,511.4 550.3,508.6 550.8,506.4 551.3,504.8 551.8,503.8 552.3,503.6 552.8,504.1 553.3,505.3 553.8,507.2 554.3,509.7 554.8,512.7 555.3,516.2 555.8,520.1 556.3,524.2 556.8,528.6 557.3,533.0 557.8,537.4 558.3,541.8 558.8,546.0 559.3,550.0 559.8,553.7 560.3,557.1 560.8,560.3 561.3,563.1 561.8,565.6 562.3,567.8 562.8,569.7 563.3,571.3 563.8,572.7 564.3,573.8 564.8,574.8 565.3,575.5 565.8,576.2 566.3,576.7 566.8,577.1 567.3,577.4 567.8,577.6 568.3,577.8 568.8,577.9 569.3,578.0 569.8,578.1 570.3,578.2 570.8,578.2 571.3,578.2 571.8,578.3 572.3,578.3 572.8,578.3 573.3,578.3 573.8,578.3 574.3,578.3 574.8,578.3 575.3,578.3 575.8,578.3 576.3,578.3 576.8,578.3 577.3,578.3 577.8,578.3 578.3,578.3 578.8,578.3 579.3,578.3 579.8,578.3 580.3,578.3 580.8,578.3 581.3,578.3 581.8,578.3 582.3,578.3 582.8,578.3 583.3,578.3 583.8,578.3 584.3,578.3 584.8,578.3 585.3,578.3 585.8,578.3 586.3,578.3 586.8,578.3 587.3,578.3 587.8,578.3 588.3,578.3 588.8,578.3 589.3,578.3 589.8,578.3 590.3,578.3 590.8,578.3 591.3,578.3 591.8,578.3 592.3,578.3 592.8,578.3 593.3,578.3 593.8,578.3 594.3,578.3 594.8,578.3 595.3,578.3 595.8,578.3 596.3,578.3 596.8,578.3 597.3,578.3 597.8,578.3 598.3,578.3 598.8,578.3 599.3,578.3 599.8,578.3 600.3,578.3 600.8,578.3 601.3,578.3 601.8,578.3 602.3,578.3 602.8,578.3 603.3,578.3 603.8,578.3 604.3,578.3 604.8,578.3 605.3,578.3 605.8,578.3 606.3,578.3 606.8,578.3 607.3,578.3 607.8,578.3 608.3,578.3 608.8,578.3 609.3,578.3 609.8,578.3 610.3,578.3 610.8,578.3 611.3,578.3 611.8,578.3 612.3,578.3 612.8,578.3 613.3,578.3 613.8,578.3 614.3,578.3 614.8,578.3 615.3,578.3 615.8,578.3 616.3,578.3 616.8,578.3 617.3,578.3 617.8,578.3 618.3,578.3 618.8,578.3 619.3,578.3 619.8,578.3 620.3,578.3 620.8,578.3 621.3,578.3 621.8,578.3 622.3,578.3 622.8,578.3 623.3,578.3 623.8,578.3 624.3,578.3 624.8,578.3 625.3,578.3 625.8,578.3 626.3,578.3 626.8,578.3 627.3,578.3 627.8,578.3 628.3,578.3 628.8,578.3 629.3,578.3 629.8,578.3 630.3,578.3 630.8,578.3 631.3,578.3 631.8,578.3 632.3,578.3 632.8,578.3 633.3,578.3 633.8,578.3 634.3,578.3 634.8,578.3 635.3,578.3 635.8,578.3 636.3,578.3 636.8,578.3 637.3,578.3 637.8,578.3 638.3,578.3 638.8,578.3 639.3,578.3 639.8,578.3 640.3,578.3 640.8,578.3 641.3,578.3 641.8,578.3 642.3,578.3 642.8,578.3 643.3,578.3 643.8,578.3 644.3,578.3 644.8,578.3 645.3,578.3 645.8,578.3 646.3,578.3 646.8,578.3 647.3,578.3 647.8,578.3 648.3,578.3 648.8,578.3 649.3,578.3 649.8,578.3 650.3,578.3 650.8,578.3 651.3,578.3 651.8,578.3 652.3,578.3 652.8,578.3 653.3,578.3 653.8,578.3 654.3,578.3 654.8,578.3 655.3,578.3 655.8,578.3 656.3,578.3 656.8,578.3 657.3,578.3 657.8,578.3 658.3,578.3 658.8,578.3 659.3,578.3 659.8,578.3 660.3,578.3 660.8,578.3 661.3,578.3 661.8,578.3 662.3,578.3 662.8,578.3 663.3,578.3 663.8,578.3 664.3,578.3 664.8,578.3 665.3,578.3 665.8,578.3 666.3,578.3 666.8,578.3 667.3,578.3 667.8,578.3 668.3,578.3 668.8,578.3 669.3,578.3 669.8,578.3 670.3,578.3 670.8,578.3 671.3,578.3 671.8,578.3 672.3,578.3 672.8,578.3 673.3,578.3 673.8,578.3 674.3,578.3 674.8,578.3 675.3,578.3 675.8,578.3 676.3,578.3 676.8,578.3 677.3,578.3 677.8,578.3" fill="none" stroke="#000000" stroke-width="2.3" stroke-linejoin="round" stroke-linecap="round" />
<path d="M165.3,577.5 C165.4,577.5 165.6,577.5 165.8,577.5 C166.0,577.4 166.1,577.4 166.3,577.3 C166.5,577.3 166.6,577.3 166.8,577.2 C167.0,577.2 167.1,577.1 167.3,577.0 C167.5,577.0 167.6,576.9 167.8,576.9 C168.0,576.8 168.1,576.7 168.3,576.6 C168.5,576.5 168.6,576.4 168.8,576.3 C169.0,576.2 169.1,576.1 169.3,576.0 C169.5,575.9 169.6,575.8 169.8,575.6 C170.0,575.5 170.1,575.4 170.3,575.2 C170.5,575.0 170.6,574.9 170.8,574.7 C171.0,574.5 171.1,574.3 171.3,574.1 C171.5,573.9 171.6,573.7 171.8,573.5 C172.0,573.2 172.1,573.0 172.3,572.7 C172.5,572.5 172.6,572.2 172.8,571.9 C173.0,571.6 173.1,571.3 173.3,571.0 C173.5,570.7 173.6,570.3 173.8,570.0 C174.0,569.6 174.1,569.2 174.3,568.8 C174.5,568.5 174.6,568.1 174.8,567.6 C175.0,567.2 175.1,566.8 175.3,566.3 C175.5,565.9 175.6,565.4 175.8,564.9 C176.0,564.4 176.1,563.9 176.3,563.4 C176.5,562.9 176.6,562.4 176.8,561.9 C177.0,561.3 177.1,560.8 177.3,560.2 C177.5,559.7 177.6,559.1 177.8,558.6 C178.0,558.0 178.1,557.4 178.3,556.8 C178.5,556.3 178.6,555.7 178.8,555.1 C179.0,554.5 179.1,553.9 179.3,553.3 C179.5,552.7 179.6,552.2 179.8,551.6 C180.0,551.0 180.1,550.4 180.3,549.9 C180.5,549.3 180.6,548.8 180.8,548.3 C181.0,547.7 181.1,547.2 181.3,546.7 C181.5,546.2 181.6,545.7 181.8,545.3 C182.0,544.8 182.1,544.4 182.3,543.9 C182.5,543.5 182.6,543.1 182.8,542.8 C183.0,542.4 183.1,542.1 183.3,541.8 C183.5,541.5 183.6,541.2 183.8,540.9 C184.0,540.7 184.1,540.5 184.3,540.3 C184.5,540.2 184.6,540.0 184.8,539.9 C185.0,539.8 185.1,539.7 185.3,539.7 C185.5,539.7 185.6,539.7 185.8,539.7 C186.0,539.8 186.1,539.9 186.3,540.0 C186.5,540.1 186.6,540.2 186.8,540.4 C187.0,540.6 187.1,540.8 187.3,541.1 C187.5,541.3 187.6,541.6 187.8,542.0 C188.0,542.3 188.1,542.6 188.3,543.0 C188.5,543.4 188.6,543.8 188.8,544.2 C189.0,544.6 189.1,545.1 189.3,545.5 C189.5,546.0 189.6,546.5 189.8,547.0 C190.0,547.5 190.1,548.0 190.3,548.6 C190.5,549.1 190.6,549.7 190.8,550.2 C191.0,550.8 191.1,551.4 191.3,551.9 C191.5,552.5 191.6,553.1 191.8,553.7 C192.0,554.3 192.1,554.8 192.3,555.4 C192.5,556.0 192.6,556.6 192.8,557.2 C193.0,557.8 193.1,558.3 193.3,558.9 C193.5,559.5 193.6,560.0 193.8,560.6 C194.0,561.1 194.1,561.7 194.3,562.2 C194.5,562.7 194.6,563.2 194.8,563.7 C195.0,564.2 195.1,564.7 195.3,565.2 C195.5,565.7 195.6,566.2 195.8,566.6 C196.0,567.0 196.1,567.5 196.3,567.9 C196.5,568.3 196.6,568.7 196.8,569.1 C197.0,569.5 197.1,569.8 197.3,570.2 C197.5,570.5 197.6,570.9 197.8,571.2 C198.0,571.5 198.1,571.8 198.3,572.1 C198.5,572.4 198.6,572.6 198.8,572.9 C199.0,573.1 199.1,573.4 199.3,573.6 C199.5,573.8 199.6,574.0 199.8,574.2 C200.0,574.4 200.1,574.6 200.3,574.8 C200.5,575.0 200.6,575.1 200.8,575.3 C201.0,575.5 201.1,575.6 201.3,575.7 C201.5,575.9 201.6,576.0 201.8,576.1 C202.0,576.2 202.1,576.3 202.3,576.4 C202.5,576.5 202.6,576.6 202.8,576.7 C203.0,576.8 203.1,576.8 203.3,576.9 C203.5,577.0 203.6,577.0 203.8,577.1 C204.0,577.1 204.1,577.2 204.3,577.2 C204.5,577.3 204.6,577.3 204.8,577.4 C205.0,577.4 205.1,577.4 205.3,577.5 C205.5,577.5 205.7,577.5 205.8,577.6 Z" fill="#fa8435" stroke="none"/>
<path d="M329.3,577.6 C329.4,577.6 329.6,577.5 329.8,577.5 C330.0,577.5 330.1,577.4 330.3,577.4 C330.5,577.3 330.6,577.3 330.8,577.2 C331.0,577.1 331.1,577.1 331.3,577.0 C331.5,576.9 331.6,576.8 331.8,576.7 C332.0,576.6 332.1,576.5 332.3,576.3 C332.5,576.2 332.6,576.1 332.8,575.9 C333.0,575.7 333.1,575.6 333.3,575.4 C333.5,575.2 333.6,575.0 333.8,574.7 C334.0,574.5 334.1,574.2 334.3,573.9 C334.5,573.6 334.6,573.3 334.8,573.0 C335.0,572.6 335.1,572.3 335.3,571.9 C335.5,571.5 335.6,571.0 335.8,570.5 C336.0,570.1 336.1,569.6 336.3,569.0 C336.5,568.5 336.6,567.9 336.8,567.3 C337.0,566.7 337.1,566.0 337.3,565.3 C337.5,564.6 337.6,563.9 337.8,563.1 C338.0,562.3 338.1,561.5 338.3,560.6 C338.5,559.8 338.6,558.9 338.8,557.9 C339.0,557.0 339.1,556.0 339.3,555.0 C339.5,554.0 339.6,553.0 339.8,551.9 C340.0,550.9 340.1,549.7 340.3,548.6 C340.5,547.5 340.6,546.4 340.8,545.2 C341.0,544.1 341.1,542.9 341.3,541.7 C341.5,540.5 341.6,539.3 341.8,538.1 C342.0,537.0 342.1,535.8 342.3,534.6 C342.5,533.5 342.6,532.3 342.8,531.2 C343.0,530.1 343.1,529.0 343.3,527.9 C343.5,526.9 343.6,525.8 343.8,524.9 C344.0,523.9 344.1,523.0 344.3,522.1 C344.5,521.3 344.6,520.5 344.8,519.7 C345.0,519.0 345.1,518.3 345.3,517.8 C345.5,517.2 345.6,516.7 345.8,516.2 C346.0,515.8 346.1,515.5 346.3,515.2 C346.5,515.0 346.6,514.8 346.8,514.7 C347.0,514.7 347.1,514.7 347.3,514.8 C347.5,514.9 347.6,515.1 347.8,515.4 C348.0,515.7 348.1,516.1 348.3,516.5 C348.5,517.0 348.6,517.5 348.8,518.1 C349.0,518.7 349.1,519.4 349.3,520.2 C349.5,520.9 349.6,521.8 349.8,522.6 C350.0,523.5 350.1,524.5 350.3,525.5 C350.5,526.5 350.6,527.5 350.8,528.6 C351.0,529.6 351.1,530.7 351.3,531.9 C351.5,533.0 351.6,534.2 351.8,535.3 C352.0,536.5 352.1,537.7 352.3,538.9 C352.5,540.0 352.6,541.2 352.8,542.4 C353.0,543.6 353.1,544.8 353.3,545.9 C353.5,547.0 353.6,548.2 353.8,549.3 C354.0,550.4 354.1,551.5 354.3,552.6 C354.5,553.6 354.6,554.6 354.8,555.6 C355.0,556.6 355.1,557.6 355.3,558.5 C355.5,559.4 355.6,560.3 355.8,561.1 C356.0,562.0 356.1,562.8 356.3,563.6 C356.5,564.3 356.6,565.0 356.8,565.7 C357.0,566.4 357.1,567.0 357.3,567.7 C357.5,568.3 357.6,568.8 357.8,569.3 C358.0,569.9 358.1,570.4 358.3,570.8 C358.5,571.3 358.6,571.7 358.8,572.1 C359.0,572.5 359.1,572.8 359.3,573.2 C359.5,573.5 359.6,573.8 359.8,574.1 C360.0,574.4 360.1,574.6 360.3,574.9 C360.5,575.1 360.6,575.3 360.8,575.5 C361.0,575.7 361.1,575.8 361.3,576.0 C361.5,576.2 361.6,576.3 361.8,576.4 C362.0,576.5 362.1,576.7 362.3,576.8 C362.5,576.9 362.6,576.9 362.8,577.0 C363.0,577.1 363.1,577.2 363.3,577.2 C363.5,577.3 363.6,577.4 363.8,577.4 C364.0,577.4 364.1,577.5 364.3,577.5 C364.5,577.6 364.6,577.6 364.8,577.6 C365.0,577.7 365.1,577.7 365.3,577.7 C365.5,577.7 365.7,577.7 365.8,577.8 Z" fill="#fa8435" stroke="none"/>
<path d="M536.3,577.1 C536.4,577.1 536.6,577.1 536.8,577.1 C537.0,577.1 537.1,577.1 537.3,577.0 C537.5,577.0 537.6,577.0 537.8,576.9 C538.0,576.9 538.1,576.9 538.3,576.8 C538.5,576.8 538.6,576.7 538.8,576.6 C539.0,576.5 539.1,576.4 539.3,576.3 C539.5,576.2 539.6,576.1 539.8,576.0 C540.0,575.9 540.1,575.7 540.3,575.5 C540.5,575.4 540.6,575.2 540.8,575.0 C541.0,574.8 541.1,574.6 541.3,574.3 C541.5,574.1 541.6,573.8 541.8,573.5 C542.0,573.2 542.1,572.9 542.3,572.5 C542.5,572.2 542.6,571.8 542.8,571.4 C543.0,571.0 543.1,570.6 543.3,570.1 C543.5,569.7 543.6,569.2 543.8,568.7 C544.0,568.1 544.1,567.6 544.3,567.0 C544.5,566.5 544.6,565.8 544.8,565.2 C545.0,564.6 545.1,563.9 545.3,563.2 C545.5,562.6 545.6,561.8 545.8,561.1 C546.0,560.4 546.1,559.6 546.3,558.9 C546.5,558.1 546.6,557.3 546.8,556.5 C547.0,555.7 547.1,554.9 547.3,554.1 C547.5,553.3 547.6,552.5 547.8,551.7 C548.0,550.9 548.1,550.1 548.3,549.3 C548.5,548.5 548.6,547.7 548.8,547.0 C549.0,546.2 549.1,545.5 549.3,544.8 C549.5,544.1 549.6,543.4 549.8,542.8 C550.0,542.2 550.1,541.6 550.3,541.0 C550.5,540.5 550.6,540.0 550.8,539.6 C551.0,539.1 551.1,538.7 551.3,538.4 C551.5,538.1 551.6,537.8 551.8,537.6 C552.0,537.4 552.1,537.2 552.3,537.2 C552.5,537.1 552.6,537.1 552.8,537.1 C553.0,537.2 553.1,537.3 553.3,537.5 C553.5,537.7 553.6,537.9 553.8,538.2 C554.0,538.5 554.1,538.9 554.3,539.3 C554.5,539.7 554.6,540.2 554.8,540.7 C555.0,541.2 555.1,541.8 555.3,542.4 C555.5,543.0 555.6,543.7 555.8,544.4 C556.0,545.1 556.1,545.8 556.3,546.5 C556.5,547.3 556.6,548.1 556.8,548.8 C557.0,549.6 557.1,550.4 557.3,551.2 C557.5,552.0 557.6,552.8 557.8,553.6 C558.0,554.4 558.1,555.3 558.3,556.1 C558.5,556.8 558.6,557.6 558.8,558.4 C559.0,559.2 559.1,559.9 559.3,560.7 C559.5,561.4 559.6,562.1 559.8,562.8 C560.0,563.5 560.1,564.2 560.3,564.8 C560.5,565.5 560.6,566.1 560.8,566.7 C561.0,567.3 561.1,567.8 561.3,568.4 C561.5,568.9 561.6,569.4 561.8,569.9 C562.0,570.4 562.1,570.8 562.3,571.2 C562.5,571.6 562.6,572.0 562.8,572.4 C563.0,572.7 563.1,573.1 563.3,573.4 C563.5,573.7 563.6,574.0 563.8,574.2 C564.0,574.5 564.1,574.7 564.3,575.0 C564.5,575.2 564.6,575.4 564.8,575.6 C565.0,575.7 565.1,575.9 565.3,576.1 C565.5,576.2 565.6,576.3 565.8,576.5 C566.0,576.6 566.1,576.7 566.3,576.8 C566.5,576.9 566.6,577.0 566.8,577.1 C567.0,577.1 567.1,577.2 567.3,577.3 C567.5,577.3 567.6,577.4 567.8,577.4 C568.0,577.5 568.1,577.5 568.3,577.5 C568.5,577.6 568.6,577.6 568.8,577.6 C569.0,577.7 569.1,577.7 569.3,577.7 C569.5,577.7 569.7,577.8 569.8,577.8 Z" fill="#fa8435" stroke="none"/>
<polyline points="57.8,577.9 58.3,577.9 58.8,577.9 59.3,577.9 59.8,577.9 60.3,577.9 60.8,577.9 61.3,577.9 61.8,577.9 62.3,577.9 62.8,577.9 63.3,577.9 63.8,577.9 64.3,577.9 64.8,577.9 65.3,577.9 65.8,577.9 66.3,577.9 66.8,577.9 67.3,577.9 67.8,577.9 68.3,577.9 68.8,577.9 69.3,577.9 69.8,577.9 70.3,577.9 70.8,577.9 71.3,577.9 71.8,577.9 72.3,577.9 72.8,577.9 73.3,577.9 73.8,577.9 74.3,577.9 74.8,577.9 75.3,577.9 75.8,577.9 76.3,577.9 76.8,577.9 77.3,577.9 77.8,577.9 78.3,577.9 78.8,577.9 79.3,577.9 79.8,577.9 80.3,577.9 80.8,577.9 81.3,577.9 81.8,577.9 82.3,577.9 82.8,577.9 83.3,577.9 83.8,577.9 84.3,577.9 84.8,577.9 85.3,577.9 85.8,577.9 86.3,577.9 86.8,577.9 87.3,577.9 87.8,577.9 88.3,577.9 88.8,577.9 89.3,577.9 89.8,577.9 90.3,577.9 90.8,577.9 91.3,577.9 91.8,577.9 92.3,577.9 92.8,577.9 93.3,577.9 93.8,577.8 94.3,577.8 94.8,577.8 95.3,577.8 95.8,577.8 96.3,577.7 96.8,577.7 97.3,577.7 97.8,577.6 98.3,577.6 98.8,577.5 99.3,577.4 99.8,577.4 100.3,577.3 100.8,577.2 101.3,577.1 101.8,576.9 102.3,576.8 102.8,576.7 103.3,576.5 103.8,576.4 104.3,576.2 104.8,576.1 105.3,575.9 105.8,575.7 106.3,575.6 106.8,575.4 107.3,575.3 107.8,575.1 108.3,575.0 108.8,574.9 109.3,574.8 109.8,574.8 110.3,574.7 110.8,574.7 111.3,574.7 111.8,574.7 112.3,574.8 112.8,574.8 113.3,574.9 113.8,575.0 114.3,575.1 114.8,575.3 115.3,575.4 115.8,575.5 116.3,575.7 116.8,575.9 117.3,576.0 117.8,576.2 118.3,576.3 118.8,576.5 119.3,576.6 119.8,576.8 120.3,576.9 120.8,577.0 121.3,577.1 121.8,577.2 122.3,577.3 122.8,577.4 123.3,577.5 123.8,577.6 124.3,577.6 124.8,577.7 125.3,577.7 125.8,577.7 126.3,577.8 126.8,577.8 127.3,577.8 127.8,577.8 128.3,577.8 128.8,577.9 129.3,577.9 129.8,577.9 130.3,577.9 130.8,577.9 131.3,577.9 131.8,577.9 132.3,577.9 132.8,577.9 133.3,577.9 133.8,577.9 134.3,577.9 134.8,577.9 135.3,577.9 135.8,577.9 136.3,577.9 136.8,577.9 137.3,577.9 137.8,577.9 138.3,577.9 138.8,577.9 139.3,577.9 139.8,577.9 140.3,577.9 140.8,577.9 141.3,577.9 141.8,577.9 142.3,577.9 142.8,577.9 143.3,577.9 143.8,577.9 144.3,577.9 144.8,577.9 145.3,577.9 145.8,577.9 146.3,577.9 146.8,577.9 147.3,577.9 147.8,577.9 148.3,577.9 148.8,577.9 149.3,577.9 149.8,577.9 150.3,577.9 150.8,577.9 151.3,577.9 151.8,577.9 152.3,577.9 152.8,577.9 153.3,577.9 153.8,577.9 154.3,577.9 154.8,577.9 155.3,577.9 155.8,577.9 156.3,577.9 156.8,577.9 157.3,577.9 157.8,577.9 158.3,577.9 158.8,577.9 159.3,577.9 159.8,577.9 160.3,577.9 160.8,577.9 161.3,577.9 161.8,577.8 162.3,577.8 162.8,577.8 163.3,577.8 163.8,577.7 164.3,577.7 164.8,577.6 165.3,577.5 165.8,577.5 166.3,577.3 166.8,577.2 167.3,577.0 167.8,576.9 168.3,576.6 168.8,576.3 169.3,576.0 169.8,575.6 170.3,575.2 170.8,574.7 171.3,574.1 171.8,573.5 172.3,572.7 172.8,571.9 173.3,571.0 173.8,570.0 174.3,568.8 174.8,567.6 175.3,566.3 175.8,564.9 176.3,563.4 176.8,561.9 177.3,560.2 177.8,558.6 178.3,556.8 178.8,555.1 179.3,553.3 179.8,551.6 180.3,549.9 180.8,548.3 181.3,546.7 181.8,545.3 182.3,543.9 182.8,542.8 183.3,541.8 183.8,540.9 184.3,540.3 184.8,539.9 185.3,539.7 185.8,539.7 186.3,540.0 186.8,540.4 187.3,541.1 187.8,542.0 188.3,543.0 188.8,544.2 189.3,545.5 189.8,547.0 190.3,548.6 190.8,550.2 191.3,551.9 191.8,553.7 192.3,555.4 192.8,557.2 193.3,558.9 193.8,560.6 194.3,562.2 194.8,563.7 195.3,565.2 195.8,566.6 196.3,567.9 196.8,569.1 197.3,570.2 197.8,571.2 198.3,572.1 198.8,572.9 199.3,573.6 199.8,574.2 200.3,574.8 200.8,575.3 201.3,575.7 201.8,576.1 202.3,576.4 202.8,576.7 203.3,576.9 203.8,577.1 204.3,577.2 204.8,577.4 205.3,577.5 205.8,577.6 206.3,577.6 206.8,577.7 207.3,577.7 207.8,577.8 208.3,577.8 208.8,577.8 209.3,577.8 209.8,577.9 210.3,577.9 210.8,577.9 211.3,577.9 211.8,577.9 212.3,577.9 212.8,577.9 213.3,577.9 213.8,577.9 214.3,577.9 214.8,577.9 215.3,577.9 215.8,577.9 216.3,577.9 216.8,577.9 217.3,577.9 217.8,577.9 218.3,577.9 218.8,577.9 219.3,577.9 219.8,577.9 220.3,577.9 220.8,577.9 221.3,577.9 221.8,577.9 222.3,577.9 222.8,577.9 223.3,577.9 223.8,577.9 224.3,577.9 224.8,577.9 225.3,577.9 225.8,577.9 226.3,577.9 226.8,577.9 227.3,577.9 227.8,577.9 228.3,577.9 228.8,577.9 229.3,577.9 229.8,577.9 230.3,577.9 230.8,577.9 231.3,577.9 231.8,577.9 232.3,577.9 232.8,577.9 233.3,577.9 233.8,577.9 234.3,577.9 234.8,577.9 235.3,577.9 235.8,577.9 236.3,577.9 236.8,577.9 237.3,577.9 237.8,577.9 238.3,577.9 238.8,577.9 239.3,577.9 239.8,577.9 240.3,577.9 240.8,577.9 241.3,577.9 241.8,577.9 242.3,577.9 242.8,577.9 243.3,577.9 243.8,577.9 244.3,577.9 244.8,577.9 245.3,577.9 245.8,577.9 246.3,577.9 246.8,577.9 247.3,577.9 247.8,577.9 248.3,577.9 248.8,577.9 249.3,577.9 249.8,577.9 250.3,577.9 250.8,577.9 251.3,577.9 251.8,577.9 252.3,577.9 252.8,577.9 253.3,577.9 253.8,577.9 254.3,577.9 254.8,577.9 255.3,577.9 255.8,577.9 256.3,577.9 256.8,577.9 257.3,577.9 257.8,577.9 258.3,577.9 258.8,577.9 259.3,577.9 259.8,577.9 260.3,577.9 260.8,577.9 261.3,577.9 261.8,577.9 262.3,577.9 262.8,577.9 263.3,577.9 263.8,577.9 264.3,577.9 264.8,577.9 265.3,577.9 265.8,577.9 266.3,577.9 266.8,577.9 267.3,577.9 267.8,577.9 268.3,577.9 268.8,577.9 269.3,577.9 269.8,577.9 270.3,577.9 270.8,577.9 271.3,577.9 271.8,577.9 272.3,577.9 272.8,577.9 273.3,577.9 273.8,577.9 274.3,577.9 274.8,577.9 275.3,577.9 275.8,577.9 276.3,577.9 276.8,577.9 277.3,577.9 277.8,577.9 278.3,577.9 278.8,577.9 279.3,577.9 279.8,577.9 280.3,577.9 280.8,577.9 281.3,577.9 281.8,577.9 282.3,577.9 282.8,577.9 283.3,577.9 283.8,577.9 284.3,577.9 284.8,577.9 285.3,577.9 285.8,577.9 286.3,577.9 286.8,577.9 287.3,577.9 287.8,577.9 288.3,577.9 288.8,577.9 289.3,577.9 289.8,577.9 290.3,577.9 290.8,577.9 291.3,577.9 291.8,577.9 292.3,577.9 292.8,577.9 293.3,577.9 293.8,577.9 294.3,577.9 294.8,577.9 295.3,577.9 295.8,577.9 296.3,577.9 296.8,577.9 297.3,577.9 297.8,577.9 298.3,577.9 298.8,577.9 299.3,577.9 299.8,577.9 300.3,577.9 300.8,577.9 301.3,577.9 301.8,577.9 302.3,577.9 302.8,577.9 303.3,577.9 303.8,577.9 304.3,577.9 304.8,577.9 305.3,577.9 305.8,577.9 306.3,577.9 306.8,577.9 307.3,577.9 307.8,577.9 308.3,577.9 308.8,577.9 309.3,577.9 309.8,577.9 310.3,577.9 310.8,577.9 311.3,577.9 311.8,577.9 312.3,577.9 312.8,577.9 313.3,577.9 313.8,577.9 314.3,577.9 314.8,577.9 315.3,577.9 315.8,577.9 316.3,577.9 316.8,577.9 317.3,577.9 317.8,577.9 318.3,577.9 318.8,577.9 319.3,577.9 319.8,577.9 320.3,577.9 320.8,577.9 321.3,577.9 321.8,577.9 322.3,577.9 322.8,577.9 323.3,577.9 323.8,577.9 324.3,577.9 324.8,577.9 325.3,577.9 325.8,577.9 326.3,577.9 326.8,577.8 327.3,577.8 327.8,577.8 328.3,577.7 328.8,577.7 329.3,577.6 329.8,577.5 330.3,577.4 330.8,577.2 331.3,577.0 331.8,576.7 332.3,576.3 332.8,575.9 333.3,575.4 333.8,574.7 334.3,573.9 334.8,573.0 335.3,571.9 335.8,570.5 336.3,569.0 336.8,567.3 337.3,565.3 337.8,563.1 338.3,560.6 338.8,557.9 339.3,555.0 339.8,551.9 340.3,548.6 340.8,545.2 341.3,541.7 341.8,538.1 342.3,534.6 342.8,531.2 343.3,527.9 343.8,524.9 344.3,522.1 344.8,519.7 345.3,517.8 345.8,516.2 346.3,515.2 346.8,514.7 347.3,514.8 347.8,515.4 348.3,516.5 348.8,518.1 349.3,520.2 349.8,522.6 350.3,525.5 350.8,528.6 351.3,531.9 351.8,535.3 352.3,538.9 352.8,542.4 353.3,545.9 353.8,549.3 354.3,552.6 354.8,555.6 355.3,558.5 355.8,561.1 356.3,563.6 356.8,565.7 357.3,567.7 357.8,569.3 358.3,570.8 358.8,572.1 359.3,573.2 359.8,574.1 360.3,574.9 360.8,575.5 361.3,576.0 361.8,576.4 362.3,576.8 362.8,577.0 363.3,577.2 363.8,577.4 364.3,577.5 364.8,577.6 365.3,577.7 365.8,577.8 366.3,577.8 366.8,577.8 367.3,577.8 367.8,577.9 368.3,577.9 368.8,577.9 369.3,577.9 369.8,577.9 370.3,577.9 370.8,577.9 371.3,577.9 371.8,577.9 372.3,577.9 372.8,577.9 373.3,577.9 373.8,577.9 374.3,577.9 374.8,577.9 375.3,577.9 375.8,577.9 376.3,577.9 376.8,577.9 377.3,577.9 377.8,577.9 378.3,577.9 378.8,577.9 379.3,577.9 379.8,577.9 380.3,577.9 380.8,577.9 381.3,577.9 381.8,577.9 382.3,577.9 382.8,577.9 383.3,577.9 383.8,577.9 384.3,577.9 384.8,577.9 385.3,577.9 385.8,577.9 386.3,577.9 386.8,577.9 387.3,577.9 387.8,577.9 388.3,577.9 388.8,577.9 389.3,577.9 389.8,577.9 390.3,577.9 390.8,577.9 391.3,577.9 391.8,577.9 392.3,577.9 392.8,577.9 393.3,577.9 393.8,577.9 394.3,577.9 394.8,577.9 395.3,577.9 395.8,577.9 396.3,577.9 396.8,577.9 397.3,577.9 397.8,577.9 398.3,577.9 398.8,577.9 399.3,577.9 399.8,577.9 400.3,577.9 400.8,577.9 401.3,577.9 401.8,577.9 402.3,577.9 402.8,577.9 403.3,577.9 403.8,577.9 404.3,577.9 404.8,577.9 405.3,577.9 405.8,577.9 406.3,577.9 406.8,577.9 407.3,577.9 407.8,577.9 408.3,577.9 408.8,577.9 409.3,577.9 409.8,577.9 410.3,577.9 410.8,577.9 411.3,577.9 411.8,577.9 412.3,577.9 412.8,577.9 413.3,577.9 413.8,577.9 414.3,577.9 414.8,577.9 415.3,577.9 415.8,577.9 416.3,577.9 416.8,577.9 417.3,577.9 417.8,577.9 418.3,577.9 418.8,577.9 419.3,577.9 419.8,577.9 420.3,577.9 420.8,577.9 421.3,577.9 421.8,577.9 422.3,577.9 422.8,577.9 423.3,577.9 423.8,577.9 424.3,577.9 424.8,577.9 425.3,577.9 425.8,577.9 426.3,577.9 426.8,577.9 427.3,577.9 427.8,577.9 428.3,577.9 428.8,577.9 429.3,577.9 429.8,577.9 430.3,577.9 430.8,577.9 431.3,577.9 431.8,577.9 432.3,577.9 432.8,577.9 433.3,577.9 433.8,577.9 434.3,577.9 434.8,577.9 435.3,577.9 435.8,577.9 436.3,577.9 436.8,577.9 437.3,577.9 437.8,577.9 438.3,577.9 438.8,577.9 439.3,577.9 439.8,577.9 440.3,577.9 440.8,577.9 441.3,577.9 441.8,577.9 442.3,577.9 442.8,577.9 443.3,577.9 443.8,577.9 444.3,577.9 444.8,577.9 445.3,577.9 445.8,577.9 446.3,577.9 446.8,577.9 447.3,577.9 447.8,577.9 448.3,577.9 448.8,577.9 449.3,577.9 449.8,577.9 450.3,577.9 450.8,577.9 451.3,577.9 451.8,577.9 452.3,577.9 452.8,577.9 453.3,577.9 453.8,577.9 454.3,577.9 454.8,577.9 455.3,577.9 455.8,577.9 456.3,577.9 456.8,577.9 457.3,577.9 457.8,577.9 458.3,577.9 458.8,577.9 459.3,577.9 459.8,577.9 460.3,577.9 460.8,577.9 461.3,577.9 461.8,577.9 462.3,577.9 462.8,577.9 463.3,577.9 463.8,577.9 464.3,577.9 464.8,577.9 465.3,577.8 465.8,577.8 466.3,577.8 466.8,577.8 467.3,577.8 467.8,577.8 468.3,577.7 468.8,577.7 469.3,577.7 469.8,577.7 470.3,577.6 470.8,577.6 471.3,577.6 471.8,577.5 472.3,577.5 472.8,577.4 473.3,577.4 473.8,577.3 474.3,577.3 474.8,577.2 475.3,577.1 475.8,577.1 476.3,577.0 476.8,576.9 477.3,576.9 477.8,576.8 478.3,576.8 478.8,576.7 479.3,576.6 479.8,576.6 480.3,576.5 480.8,576.5 481.3,576.4 481.8,576.4 482.3,576.4 482.8,576.3 483.3,576.3 483.8,576.3 484.3,576.2 484.8,576.2 485.3,576.1 485.8,576.1 486.3,576.1 486.8,576.0 487.3,575.9 487.8,575.9 488.3,575.8 488.8,575.7 489.3,575.6 489.8,575.5 490.3,575.4 490.8,575.2 491.3,575.1 491.8,574.9 492.3,574.8 492.8,574.6 493.3,574.4 493.8,574.3 494.3,574.1 494.8,573.9 495.3,573.7 495.8,573.6 496.3,573.4 496.8,573.2 497.3,573.1 497.8,573.0 498.3,572.9 498.8,572.8 499.3,572.8 499.8,572.7 500.3,572.7 500.8,572.7 501.3,572.7 501.8,572.8 502.3,572.8 502.8,572.9 503.3,573.0 503.8,573.1 504.3,573.2 504.8,573.3 505.3,573.5 505.8,573.6 506.3,573.7 506.8,573.8 507.3,574.0 507.8,574.1 508.3,574.2 508.8,574.3 509.3,574.4 509.8,574.5 510.3,574.6 510.8,574.7 511.3,574.7 511.8,574.8 512.3,574.9 512.8,574.9 513.3,574.9 513.8,575.0 514.3,575.0 514.8,575.1 515.3,575.1 515.8,575.1 516.3,575.2 516.8,575.2 517.3,575.2 517.8,575.2 518.3,575.2 518.8,575.2 519.3,575.3 519.8,575.3 520.3,575.3 520.8,575.2 521.3,575.2 521.8,575.2 522.3,575.2 522.8,575.2 523.3,575.2 523.8,575.2 524.3,575.1 524.8,575.1 525.3,575.1 525.8,575.1 526.3,575.2 526.8,575.2 527.3,575.2 527.8,575.3 528.3,575.4 528.8,575.4 529.3,575.5 529.8,575.7 530.3,575.8 530.8,575.9 531.3,576.0 531.8,576.2 532.3,576.3 532.8,576.5 533.3,576.6 533.8,576.7 534.3,576.8 534.8,576.9 535.3,577.0 535.8,577.0 536.3,577.1 536.8,577.1 537.3,577.0 537.8,576.9 538.3,576.8 538.8,576.6 539.3,576.3 539.8,576.0 540.3,575.5 540.8,575.0 541.3,574.3 541.8,573.5 542.3,572.5 542.8,571.4 543.3,570.1 543.8,568.7 544.3,567.0 544.8,565.2 545.3,563.2 545.8,561.1 546.3,558.9 546.8,556.5 547.3,554.1 547.8,551.7 548.3,549.3 548.8,547.0 549.3,544.8 549.8,542.8 550.3,541.0 550.8,539.6 551.3,538.4 551.8,537.6 552.3,537.2 552.8,537.1 553.3,537.5 553.8,538.2 554.3,539.3 554.8,540.7 555.3,542.4 555.8,544.4 556.3,546.5 556.8,548.8 557.3,551.2 557.8,553.6 558.3,556.1 558.8,558.4 559.3,560.7 559.8,562.8 560.3,564.8 560.8,566.7 561.3,568.4 561.8,569.9 562.3,571.2 562.8,572.4 563.3,573.4 563.8,574.2 564.3,575.0 564.8,575.6 565.3,576.1 565.8,576.5 566.3,576.8 566.8,577.1 567.3,577.3 567.8,577.4 568.3,577.5 568.8,577.6 569.3,577.7 569.8,577.8 570.3,577.8 570.8,577.8 571.3,577.9 571.8,577.9 572.3,577.9 572.8,577.9 573.3,577.9 573.8,577.9 574.3,577.9 574.8,577.9 575.3,577.9 575.8,577.9 576.3,577.9 576.8,577.9 577.3,577.9 577.8,577.9 578.3,577.9 578.8,577.9 579.3,577.9 579.8,577.9 580.3,577.9 580.8,577.9 581.3,577.9 581.8,577.9 582.3,577.9 582.8,577.9 583.3,577.9 583.8,577.9 584.3,577.9 584.8,577.9 585.3,577.9 585.8,577.9 586.3,577.9 586.8,577.9 587.3,577.9 587.8,577.9 588.3,577.9 588.8,577.9 589.3,577.9 589.8,577.9 590.3,577.9 590.8,577.9 591.3,577.9 591.8,577.9 592.3,577.9 592.8,577.9 593.3,577.9 593.8,577.9 594.3,577.9 594.8,577.9 595.3,577.9 595.8,577.9 596.3,577.9 596.8,577.9 597.3,577.9 597.8,577.9 598.3,577.9 598.8,577.9 599.3,577.9 599.8,577.9 600.3,577.9 600.8,577.9 601.3,577.9 601.8,577.9 602.3,577.9 602.8,577.9 603.3,577.9 603.8,577.9 604.3,577.9 604.8,577.9 605.3,577.9 605.8,577.9 606.3,577.9 606.8,577.9 607.3,577.9 607.8,577.9 608.3,577.9 608.8,577.9 609.3,577.9 609.8,577.9 610.3,577.9 610.8,577.9 611.3,577.9 611.8,577.9 612.3,577.9 612.8,577.9 613.3,577.9 613.8,577.9 614.3,577.9 614.8,577.9 615.3,577.9 615.8,577.9 616.3,577.9 616.8,577.9 617.3,577.9 617.8,577.9 618.3,577.9 618.8,577.9 619.3,577.9 619.8,577.9 620.3,577.9 620.8,577.9 621.3,577.9 621.8,577.9 622.3,577.9 622.8,577.9 623.3,577.9 623.8,577.9 624.3,577.9 624.8,577.9 625.3,577.9 625.8,577.9 626.3,577.9 626.8,577.9 627.3,577.9 627.8,577.9 628.3,577.9 628.8,577.9 629.3,577.9 629.8,577.9 630.3,577.9 630.8,577.9 631.3,577.9 631.8,577.9 632.3,577.9 632.8,577.9 633.3,577.9 633.8,577.9 634.3,577.9 634.8,577.9 635.3,577.9 635.8,577.9 636.3,577.9 636.8,577.9 637.3,577.9 637.8,577.9 638.3,577.9 638.8,577.9 639.3,577.9 639.8,577.9 640.3,577.9 640.8,577.9 641.3,577.9 641.8,577.9 642.3,577.9 642.8,577.9 643.3,577.9 643.8,577.9 644.3,577.9 644.8,577.9 645.3,577.9 645.8,577.9 646.3,577.9 646.8,577.9 647.3,577.9 647.8,577.9 648.3,577.9 648.8,577.9 649.3,577.9 649.8,577.9 650.3,577.9 650.8,577.9 651.3,577.9 651.8,577.9 652.3,577.9 652.8,577.9 653.3,577.9 653.8,577.9 654.3,577.9 654.8,577.9 655.3,577.9 655.8,577.9 656.3,577.9 656.8,577.9 657.3,577.9 657.8,577.9 658.3,577.9 658.8,577.9 659.3,577.9 659.8,577.9 660.3,577.9 660.8,577.9 661.3,577.9 661.8,577.9 662.3,577.9 662.8,577.9 663.3,577.9 663.8,577.9 664.3,577.9 664.8,577.9 665.3,577.9 665.8,577.9 666.3,577.9 666.8,577.9 667.3,577.9 667.8,577.9 668.3,577.9 668.8,577.9 669.3,577.9 669.8,577.9 670.3,577.9 670.8,577.9 671.3,577.9 671.8,577.9 672.3,577.9 672.8,577.9 673.3,577.9 673.8,577.9 674.3,577.9 674.8,577.9 675.3,577.9 675.8,577.9 676.3,577.9 676.8,577.9 677.3,577.9 677.8,577.9" fill="none" stroke="#fa8435" stroke-width="2.0" stroke-linejoin="round" stroke-linecap="round" />
<polyline points="57.8,580.2 58.3,580.2 58.8,580.2 59.3,580.2 59.8,580.2 60.3,580.2 60.8,580.2 61.3,580.2 61.8,580.2 62.3,580.2 62.8,580.2 63.3,580.2 63.8,580.2 64.3,580.2 64.8,580.2 65.3,580.2 65.8,580.2 66.3,580.2 66.8,580.2 67.3,580.2 67.8,580.2 68.3,580.2 68.8,580.2 69.3,580.2 69.8,580.2 70.3,580.2 70.8,580.2 71.3,580.2 71.8,580.2 72.3,580.2 72.8,580.2 73.3,580.2 73.8,580.2 74.3,580.2 74.8,580.2 75.3,580.2 75.8,580.2 76.3,580.2 76.8,580.2 77.3,580.2 77.8,580.2 78.3,580.2 78.8,580.2 79.3,580.2 79.8,580.2 80.3,580.2 80.8,580.2 81.3,580.2 81.8,580.2 82.3,580.2 82.8,580.2 83.3,580.2 83.8,580.2 84.3,580.2 84.8,580.2 85.3,580.2 85.8,580.2 86.3,580.2 86.8,580.2 87.3,580.2 87.8,580.2 88.3,580.2 88.8,580.2 89.3,580.2 89.8,580.2 90.3,580.2 90.8,580.2 91.3,580.2 91.8,580.2 92.3,580.2 92.8,580.2 93.3,580.2 93.8,580.2 94.3,580.2 94.8,580.2 95.3,580.2 95.8,580.2 96.3,580.2 96.8,580.2 97.3,580.2 97.8,580.2 98.3,580.2 98.8,580.2 99.3,580.2 99.8,580.2 100.3,580.2 100.8,580.2 101.3,580.2 101.8,580.2 102.3,580.2 102.8,580.2 103.3,580.2 103.8,580.2 104.3,580.2 104.8,580.2 105.3,580.2 105.8,580.2 106.3,580.2 106.8,580.2 107.3,580.2 107.8,580.2 108.3,580.2 108.8,580.2 109.3,580.2 109.8,580.2 110.3,580.2 110.8,580.2 111.3,580.2 111.8,580.2 112.3,580.2 112.8,580.2 113.3,580.2 113.8,580.2 114.3,580.2 114.8,580.2 115.3,580.2 115.8,580.2 116.3,580.2 116.8,580.2 117.3,580.2 117.8,580.2 118.3,580.2 118.8,580.2 119.3,580.2 119.8,580.2 120.3,580.2 120.8,580.2 121.3,580.2 121.8,580.2 122.3,580.2 122.8,580.2 123.3,580.2 123.8,580.2 124.3,580.2 124.8,580.2 125.3,580.2 125.8,580.2 126.3,580.2 126.8,580.2 127.3,580.2 127.8,580.2 128.3,580.2 128.8,580.2 129.3,580.2 129.8,580.2 130.3,580.2 130.8,580.2 131.3,580.2 131.8,580.2 132.3,580.2 132.8,580.2 133.3,580.2 133.8,580.2 134.3,580.2 134.8,580.2 135.3,580.2 135.8,580.2 136.3,580.2 136.8,580.2 137.3,580.2 137.8,580.2 138.3,580.2 138.8,580.2 139.3,580.2 139.8,580.2 140.3,580.2 140.8,580.2 141.3,580.2 141.8,580.2 142.3,580.2 142.8,580.2 143.3,580.2 143.8,580.2 144.3,580.2 144.8,580.2 145.3,580.2 145.8,580.2 146.3,580.2 146.8,580.2 147.3,580.2 147.8,580.2 148.3,580.2 148.8,580.2 149.3,580.2 149.8,580.2 150.3,580.2 150.8,580.2 151.3,580.2 151.8,580.2 152.3,580.2 152.8,580.2 153.3,580.2 153.8,580.2 154.3,580.2 154.8,580.2 155.3,580.2 155.8,580.2 156.3,580.2 156.8,580.2 157.3,580.2 157.8,580.2 158.3,580.2 158.8,580.2 159.3,580.2 159.8,580.2 160.3,580.2 160.8,580.2 161.3,580.2 161.8,580.2 162.3,580.2 162.8,580.2 163.3,580.2 163.8,580.2 164.3,580.2 164.8,580.2 165.3,580.2 165.8,580.2 166.3,580.2 166.8,580.2 167.3,580.2 167.8,580.2 168.3,580.2 168.8,580.2 169.3,580.2 169.8,580.2 170.3,580.2 170.8,580.2 171.3,580.1 171.8,580.1 172.3,580.1 172.8,580.1 173.3,580.0 173.8,580.0 174.3,579.9 174.8,579.8 175.3,579.7 175.8,579.5 176.3,579.4 176.8,579.2 177.3,578.9 177.8,578.7 178.3,578.4 178.8,578.1 179.3,577.7 179.8,577.4 180.3,577.0 180.8,576.6 181.3,576.3 181.8,575.9 182.3,575.6 182.8,575.3 183.3,575.1 183.8,574.9 184.3,574.8 184.8,574.7 185.3,574.7 185.8,574.8 186.3,574.9 186.8,575.1 187.3,575.4 187.8,575.7 188.3,576.0 188.8,576.3 189.3,576.7 189.8,577.1 190.3,577.5 190.8,577.8 191.3,578.1 191.8,578.4 192.3,578.7 192.8,579.0 193.3,579.2 193.8,579.4 194.3,579.6 194.8,579.7 195.3,579.8 195.8,579.9 196.3,580.0 196.8,580.0 197.3,580.1 197.8,580.1 198.3,580.1 198.8,580.2 199.3,580.2 199.8,580.2 200.3,580.2 200.8,580.2 201.3,580.2 201.8,580.2 202.3,580.2 202.8,580.2 203.3,580.2 203.8,580.2 204.3,580.2 204.8,580.2 205.3,580.2 205.8,580.2 206.3,580.2 206.8,580.2 207.3,580.2 207.8,580.2 208.3,580.2 208.8,580.2 209.3,580.2 209.8,580.2 210.3,580.2 210.8,580.2 211.3,580.2 211.8,580.2 212.3,580.2 212.8,580.2 213.3,580.2 213.8,580.2 214.3,580.2 214.8,580.2 215.3,580.2 215.8,580.2 216.3,580.2 216.8,580.2 217.3,580.2 217.8,580.2 218.3,580.2 218.8,580.2 219.3,580.2 219.8,580.2 220.3,580.2 220.8,580.2 221.3,580.2 221.8,580.2 222.3,580.2 222.8,580.2 223.3,580.2 223.8,580.2 224.3,580.2 224.8,580.2 225.3,580.2 225.8,580.2 226.3,580.2 226.8,580.2 227.3,580.2 227.8,580.2 228.3,580.2 228.8,580.2 229.3,580.2 229.8,580.2 230.3,580.2 230.8,580.2 231.3,580.2 231.8,580.2 232.3,580.2 232.8,580.2 233.3,580.2 233.8,580.2 234.3,580.2 234.8,580.2 235.3,580.2 235.8,580.2 236.3,580.2 236.8,580.2 237.3,580.2 237.8,580.2 238.3,580.2 238.8,580.2 239.3,580.2 239.8,580.2 240.3,580.2 240.8,580.2 241.3,580.2 241.8,580.2 242.3,580.2 242.8,580.2 243.3,580.2 243.8,580.2 244.3,580.2 244.8,580.2 245.3,580.2 245.8,580.2 246.3,580.2 246.8,580.2 247.3,580.2 247.8,580.2 248.3,580.2 248.8,580.2 249.3,580.2 249.8,580.2 250.3,580.2 250.8,580.2 251.3,580.2 251.8,580.2 252.3,580.2 252.8,580.2 253.3,580.2 253.8,580.2 254.3,580.2 254.8,580.2 255.3,580.2 255.8,580.2 256.3,580.2 256.8,580.2 257.3,580.2 257.8,580.2 258.3,580.2 258.8,580.2 259.3,580.2 259.8,580.2 260.3,580.2 260.8,580.2 261.3,580.2 261.8,580.2 262.3,580.2 262.8,580.2 263.3,580.2 263.8,580.2 264.3,580.2 264.8,580.2 265.3,580.2 265.8,580.2 266.3,580.2 266.8,580.2 267.3,580.2 267.8,580.2 268.3,580.2 268.8,580.2 269.3,580.2 269.8,580.2 270.3,580.2 270.8,580.2 271.3,580.2 271.8,580.2 272.3,580.2 272.8,580.2 273.3,580.2 273.8,580.2 274.3,580.2 274.8,580.2 275.3,580.2 275.8,580.2 276.3,580.2 276.8,580.2 277.3,580.2 277.8,580.2 278.3,580.2 278.8,580.2 279.3,580.2 279.8,580.2 280.3,580.2 280.8,580.2 281.3,580.2 281.8,580.2 282.3,580.2 282.8,580.2 283.3,580.2 283.8,580.2 284.3,580.2 284.8,580.2 285.3,580.2 285.8,580.2 286.3,580.2 286.8,580.2 287.3,580.2 287.8,580.2 288.3,580.2 288.8,580.2 289.3,580.2 289.8,580.2 290.3,580.2 290.8,580.2 291.3,580.2 291.8,580.2 292.3,580.2 292.8,580.2 293.3,580.2 293.8,580.2 294.3,580.2 294.8,580.2 295.3,580.2 295.8,580.2 296.3,580.2 296.8,580.2 297.3,580.2 297.8,580.2 298.3,580.2 298.8,580.2 299.3,580.2 299.8,580.2 300.3,580.2 300.8,580.2 301.3,580.2 301.8,580.2 302.3,580.2 302.8,580.2 303.3,580.2 303.8,580.2 304.3,580.2 304.8,580.2 305.3,580.2 305.8,580.2 306.3,580.2 306.8,580.2 307.3,580.2 307.8,580.2 308.3,580.2 308.8,580.2 309.3,580.2 309.8,580.2 310.3,580.2 310.8,580.2 311.3,580.2 311.8,580.2 312.3,580.2 312.8,580.2 313.3,580.2 313.8,580.2 314.3,580.2 314.8,580.2 315.3,580.2 315.8,580.2 316.3,580.2 316.8,580.2 317.3,580.2 317.8,580.2 318.3,580.2 318.8,580.2 319.3,580.2 319.8,580.2 320.3,580.2 320.8,580.2 321.3,580.2 321.8,580.2 322.3,580.2 322.8,580.2 323.3,580.2 323.8,580.2 324.3,580.2 324.8,580.2 325.3,580.2 325.8,580.2 326.3,580.2 326.8,580.2 327.3,580.2 327.8,580.2 328.3,580.2 328.8,580.2 329.3,580.2 329.8,580.2 330.3,580.2 330.8,580.2 331.3,580.2 331.8,580.1 332.3,580.1 332.8,580.1 333.3,580.0 333.8,580.0 334.3,579.9 334.8,579.8 335.3,579.7 335.8,579.5 336.3,579.3 336.8,579.0 337.3,578.7 337.8,578.4 338.3,577.9 338.8,577.4 339.3,576.8 339.8,576.2 340.3,575.5 340.8,574.7 341.3,573.9 341.8,573.0 342.3,572.1 342.8,571.2 343.3,570.4 343.8,569.5 344.3,568.8 344.8,568.1 345.3,567.5 345.8,567.1 346.3,566.8 346.8,566.6 347.3,566.6 347.8,566.8 348.3,567.1 348.8,567.6 349.3,568.2 349.8,568.9 350.3,569.7 350.8,570.5 351.3,571.4 351.8,572.3 352.3,573.2 352.8,574.1 353.3,574.9 353.8,575.6 354.3,576.3 354.8,577.0 355.3,577.5 355.8,578.0 356.3,578.4 356.8,578.8 357.3,579.1 357.8,579.3 358.3,579.5 358.8,579.7 359.3,579.8 359.8,579.9 360.3,580.0 360.8,580.0 361.3,580.1 361.8,580.1 362.3,580.1 362.8,580.2 363.3,580.2 363.8,580.2 364.3,580.2 364.8,580.2 365.3,580.2 365.8,580.2 366.3,580.2 366.8,580.2 367.3,580.2 367.8,580.2 368.3,580.2 368.8,580.2 369.3,580.2 369.8,580.2 370.3,580.2 370.8,580.2 371.3,580.2 371.8,580.2 372.3,580.2 372.8,580.2 373.3,580.2 373.8,580.2 374.3,580.2 374.8,580.2 375.3,580.2 375.8,580.2 376.3,580.2 376.8,580.2 377.3,580.2 377.8,580.2 378.3,580.2 378.8,580.2 379.3,580.2 379.8,580.2 380.3,580.2 380.8,580.2 381.3,580.2 381.8,580.2 382.3,580.2 382.8,580.2 383.3,580.2 383.8,580.2 384.3,580.2 384.8,580.2 385.3,580.2 385.8,580.2 386.3,580.2 386.8,580.2 387.3,580.2 387.8,580.2 388.3,580.2 388.8,580.2 389.3,580.2 389.8,580.2 390.3,580.2 390.8,580.2 391.3,580.2 391.8,580.2 392.3,580.2 392.8,580.2 393.3,580.2 393.8,580.2 394.3,580.2 394.8,580.2 395.3,580.2 395.8,580.2 396.3,580.2 396.8,580.2 397.3,580.2 397.8,580.2 398.3,580.2 398.8,580.2 399.3,580.2 399.8,580.2 400.3,580.2 400.8,580.2 401.3,580.2 401.8,580.2 402.3,580.2 402.8,580.2 403.3,580.2 403.8,580.2 404.3,580.2 404.8,580.2 405.3,580.2 405.8,580.2 406.3,580.2 406.8,580.2 407.3,580.2 407.8,580.2 408.3,580.2 408.8,580.2 409.3,580.2 409.8,580.2 410.3,580.2 410.8,580.2 411.3,580.2 411.8,580.2 412.3,580.2 412.8,580.2 413.3,580.2 413.8,580.2 414.3,580.2 414.8,580.2 415.3,580.2 415.8,580.2 416.3,580.2 416.8,580.2 417.3,580.2 417.8,580.2 418.3,580.2 418.8,580.2 419.3,580.2 419.8,580.2 420.3,580.2 420.8,580.2 421.3,580.2 421.8,580.2 422.3,580.2 422.8,580.2 423.3,580.2 423.8,580.2 424.3,580.2 424.8,580.2 425.3,580.2 425.8,580.2 426.3,580.2 426.8,580.2 427.3,580.2 427.8,580.2 428.3,580.2 428.8,580.2 429.3,580.2 429.8,580.2 430.3,580.2 430.8,580.2 431.3,580.2 431.8,580.2 432.3,580.2 432.8,580.2 433.3,580.2 433.8,580.2 434.3,580.2 434.8,580.2 435.3,580.2 435.8,580.2 436.3,580.2 436.8,580.2 437.3,580.2 437.8,580.2 438.3,580.2 438.8,580.2 439.3,580.2 439.8,580.2 440.3,580.2 440.8,580.2 441.3,580.2 441.8,580.2 442.3,580.2 442.8,580.2 443.3,580.2 443.8,580.2 444.3,580.2 444.8,580.2 445.3,580.2 445.8,580.2 446.3,580.2 446.8,580.2 447.3,580.2 447.8,580.2 448.3,580.2 448.8,580.2 449.3,580.2 449.8,580.2 450.3,580.2 450.8,580.2 451.3,580.2 451.8,580.2 452.3,580.2 452.8,580.2 453.3,580.2 453.8,580.2 454.3,580.2 454.8,580.2 455.3,580.2 455.8,580.2 456.3,580.2 456.8,580.2 457.3,580.2 457.8,580.2 458.3,580.2 458.8,580.2 459.3,580.2 459.8,580.2 460.3,580.2 460.8,580.2 461.3,580.2 461.8,580.2 462.3,580.2 462.8,580.2 463.3,580.2 463.8,580.2 464.3,580.2 464.8,580.2 465.3,580.2 465.8,580.2 466.3,580.2 466.8,580.2 467.3,580.2 467.8,580.2 468.3,580.2 468.8,580.2 469.3,580.2 469.8,580.2 470.3,580.2 470.8,580.2 471.3,580.2 471.8,580.2 472.3,580.2 472.8,580.2 473.3,580.2 473.8,580.2 474.3,580.2 474.8,580.2 475.3,580.2 475.8,580.2 476.3,580.2 476.8,580.2 477.3,580.2 477.8,580.2 478.3,580.2 478.8,580.2 479.3,580.2 479.8,580.2 480.3,580.2 480.8,580.2 481.3,580.2 481.8,580.2 482.3,580.2 482.8,580.2 483.3,580.2 483.8,580.2 484.3,580.2 484.8,580.2 485.3,580.2 485.8,580.2 486.3,580.2 486.8,580.2 487.3,580.2 487.8,580.2 488.3,580.2 488.8,580.2 489.3,580.2 489.8,580.2 490.3,580.2 490.8,580.2 491.3,580.2 491.8,580.2 492.3,580.2 492.8,580.2 493.3,580.2 493.8,580.2 494.3,580.2 494.8,580.2 495.3,580.2 495.8,580.2 496.3,580.2 496.8,580.2 497.3,580.2 497.8,580.2 498.3,580.2 498.8,580.2 499.3,580.2 499.8,580.2 500.3,580.2 500.8,580.2 501.3,580.2 501.8,580.2 502.3,580.2 502.8,580.2 503.3,580.2 503.8,580.2 504.3,580.2 504.8,580.2 505.3,580.2 505.8,580.2 506.3,580.2 506.8,580.2 507.3,580.2 507.8,580.2 508.3,580.2 508.8,580.2 509.3,580.2 509.8,580.2 510.3,580.2 510.8,580.2 511.3,580.2 511.8,580.2 512.3,580.2 512.8,580.2 513.3,580.2 513.8,580.2 514.3,580.2 514.8,580.2 515.3,580.2 515.8,580.2 516.3,580.2 516.8,580.2 517.3,580.2 517.8,580.2 518.3,580.2 518.8,580.2 519.3,580.2 519.8,580.2 520.3,580.2 520.8,580.2 521.3,580.2 521.8,580.2 522.3,580.2 522.8,580.2 523.3,580.2 523.8,580.2 524.3,580.2 524.8,580.2 525.3,580.2 525.8,580.2 526.3,580.2 526.8,580.2 527.3,580.2 527.8,580.2 528.3,580.2 528.8,580.2 529.3,580.2 529.8,580.2 530.3,580.2 530.8,580.2 531.3,580.2 531.8,580.2 532.3,580.2 532.8,580.2 533.3,580.2 533.8,580.2 534.3,580.2 534.8,580.2 535.3,580.2 535.8,580.2 536.3,580.2 536.8,580.2 537.3,580.2 537.8,580.2 538.3,580.2 538.8,580.2 539.3,580.2 539.8,580.1 540.3,580.1 540.8,580.1 541.3,580.0 541.8,580.0 542.3,579.9 542.8,579.8 543.3,579.7 543.8,579.5 544.3,579.3 544.8,579.1 545.3,578.9 545.8,578.6 546.3,578.3 546.8,578.0 547.3,577.7 547.8,577.3 548.3,577.0 548.8,576.6 549.3,576.3 549.8,576.0 550.3,575.7 550.8,575.5 551.3,575.3 551.8,575.2 552.3,575.2 552.8,575.3 553.3,575.4 553.8,575.5 554.3,575.8 554.8,576.1 555.3,576.4 555.8,576.7 556.3,577.1 556.8,577.5 557.3,577.8 557.8,578.1 558.3,578.5 558.8,578.7 559.3,579.0 559.8,579.2 560.3,579.4 560.8,579.6 561.3,579.7 561.8,579.8 562.3,579.9 562.8,580.0 563.3,580.0 563.8,580.1 564.3,580.1 564.8,580.1 565.3,580.2 565.8,580.2 566.3,580.2 566.8,580.2 567.3,580.2 567.8,580.2 568.3,580.2 568.8,580.2 569.3,580.2 569.8,580.2 570.3,580.2 570.8,580.2 571.3,580.2 571.8,580.2 572.3,580.2 572.8,580.2 573.3,580.2 573.8,580.2 574.3,580.2 574.8,580.2 575.3,580.2 575.8,580.2 576.3,580.2 576.8,580.2 577.3,580.2 577.8,580.2 578.3,580.2 578.8,580.2 579.3,580.2 579.8,580.2 580.3,580.2 580.8,580.2 581.3,580.2 581.8,580.2 582.3,580.2 582.8,580.2 583.3,580.2 583.8,580.2 584.3,580.2 584.8,580.2 585.3,580.2 585.8,580.2 586.3,580.2 586.8,580.2 587.3,580.2 587.8,580.2 588.3,580.2 588.8,580.2 589.3,580.2 589.8,580.2 590.3,580.2 590.8,580.2 591.3,580.2 591.8,580.2 592.3,580.2 592.8,580.2 593.3,580.2 593.8,580.2 594.3,580.2 594.8,580.2 595.3,580.2 595.8,580.2 596.3,580.2 596.8,580.2 597.3,580.2 597.8,580.2 598.3,580.2 598.8,580.2 599.3,580.2 599.8,580.2 600.3,580.2 600.8,580.2 601.3,580.2 601.8,580.2 602.3,580.2 602.8,580.2 603.3,580.2 603.8,580.2 604.3,580.2 604.8,580.2 605.3,580.2 605.8,580.2 606.3,580.2 606.8,580.2 607.3,580.2 607.8,580.2 608.3,580.2 608.8,580.2 609.3,580.2 609.8,580.2 610.3,580.2 610.8,580.2 611.3,580.2 611.8,580.2 612.3,580.2 612.8,580.2 613.3,580.2 613.8,580.2 614.3,580.2 614.8,580.2 615.3,580.2 615.8,580.2 616.3,580.2 616.8,580.2 617.3,580.2 617.8,580.2 618.3,580.2 618.8,580.2 619.3,580.2 619.8,580.2 620.3,580.2 620.8,580.2 621.3,580.2 621.8,580.2 622.3,580.2 622.8,580.2 623.3,580.2 623.8,580.2 624.3,580.2 624.8,580.2 625.3,580.2 625.8,580.2 626.3,580.2 626.8,580.2 627.3,580.2 627.8,580.2 628.3,580.2 628.8,580.2 629.3,580.2 629.8,580.2 630.3,580.2 630.8,580.2 631.3,580.2 631.8,580.2 632.3,580.2 632.8,580.2 633.3,580.2 633.8,580.2 634.3,580.2 634.8,580.2 635.3,580.2 635.8,580.2 636.3,580.2 636.8,580.2 637.3,580.2 637.8,580.2 638.3,580.2 638.8,580.2 639.3,580.2 639.8,580.2 640.3,580.2 640.8,580.2 641.3,580.2 641.8,580.2 642.3,580.2 642.8,580.2 643.3,580.2 643.8,580.2 644.3,580.2 644.8,580.2 645.3,580.2 645.8,580.2 646.3,580.2 646.8,580.2 647.3,580.2 647.8,580.2 648.3,580.2 648.8,580.2 649.3,580.2 649.8,580.2 650.3,580.2 650.8,580.2 651.3,580.2 651.8,580.2 652.3,580.2 652.8,580.2 653.3,580.2 653.8,580.2 654.3,580.2 654.8,580.2 655.3,580.2 655.8,580.2 656.3,580.2 656.8,580.2 657.3,580.2 657.8,580.2 658.3,580.2 658.8,580.2 659.3,580.2 659.8,580.2 660.3,580.2 660.8,580.2 661.3,580.2 661.8,580.2 662.3,580.2 662.8,580.2 663.3,580.2 663.8,580.2 664.3,580.2 664.8,580.2 665.3,580.2 665.8,580.2 666.3,580.2 666.8,580.2 667.3,580.2 667.8,580.2 668.3,580.2 668.8,580.2 669.3,580.2 669.8,580.2 670.3,580.2 670.8,580.2 671.3,580.2 671.8,580.2 672.3,580.2 672.8,580.2 673.3,580.2 673.8,580.2 674.3,580.2 674.8,580.2 675.3,580.2 675.8,580.2 676.3,580.2 676.8,580.2 677.3,580.2 677.8,580.2" fill="none" stroke="#0000f0" stroke-width="2.4" stroke-linejoin="round" stroke-linecap="round" />
<polyline points="57.8,579.1 58.3,579.1 58.8,579.1 59.3,579.1 59.8,579.1 60.3,579.1 60.8,579.1 61.3,579.1 61.8,579.1 62.3,579.1 62.8,579.1 63.3,579.1 63.8,579.1 64.3,579.1 64.8,579.1 65.3,579.1 65.8,579.1 66.3,579.1 66.8,579.1 67.3,579.1 67.8,579.1 68.3,579.1 68.8,579.1 69.3,579.1 69.8,579.1 70.3,579.1 70.8,579.1 71.3,579.1 71.8,579.1 72.3,579.1 72.8,579.1 73.3,579.1 73.8,579.1 74.3,579.1 74.8,579.1 75.3,579.1 75.8,579.1 76.3,579.1 76.8,579.1 77.3,579.1 77.8,579.1 78.3,579.1 78.8,579.1 79.3,579.1 79.8,579.1 80.3,579.1 80.8,579.1 81.3,579.1 81.8,579.1 82.3,579.1 82.8,579.1 83.3,579.1 83.8,579.1 84.3,579.1 84.8,579.1 85.3,579.1 85.8,579.1 86.3,579.1 86.8,579.1 87.3,579.1 87.8,579.1 88.3,579.1 88.8,579.1 89.3,579.1 89.8,579.1 90.3,579.1 90.8,579.1 91.3,579.1 91.8,579.1 92.3,579.1 92.8,579.1 93.3,579.1 93.8,579.1 94.3,579.1 94.8,579.1 95.3,579.1 95.8,579.1 96.3,579.1 96.8,579.1 97.3,579.1 97.8,579.1 98.3,579.1 98.8,579.1 99.3,579.1 99.8,579.1 100.3,579.1 100.8,579.1 101.3,579.1 101.8,579.1 102.3,579.1 102.8,579.1 103.3,579.1 103.8,579.1 104.3,579.1 104.8,579.1 105.3,579.1 105.8,579.1 106.3,579.1 106.8,579.1 107.3,579.1 107.8,579.1 108.3,579.1 108.8,579.1 109.3,579.1 109.8,579.1 110.3,579.1 110.8,579.1 111.3,579.1 111.8,579.1 112.3,579.1 112.8,579.1 113.3,579.1 113.8,579.1 114.3,579.1 114.8,579.1 115.3,579.1 115.8,579.1 116.3,579.1 116.8,579.1 117.3,579.1 117.8,579.1 118.3,579.1 118.8,579.1 119.3,579.1 119.8,579.1 120.3,579.1 120.8,579.1 121.3,579.1 121.8,579.1 122.3,579.1 122.8,579.1 123.3,579.1 123.8,579.1 124.3,579.1 124.8,579.1 125.3,579.1 125.8,579.1 126.3,579.1 126.8,579.1 127.3,579.1 127.8,579.1 128.3,579.1 128.8,579.1 129.3,579.1 129.8,579.1 130.3,579.1 130.8,579.1 131.3,579.1 131.8,579.1 132.3,579.1 132.8,579.1 133.3,579.1 133.8,579.1 134.3,579.1 134.8,579.1 135.3,579.1 135.8,579.1 136.3,579.1 136.8,579.1 137.3,579.1 137.8,579.1 138.3,579.1 138.8,579.1 139.3,579.1 139.8,579.1 140.3,579.1 140.8,579.1 141.3,579.1 141.8,579.1 142.3,579.1 142.8,579.1 143.3,579.1 143.8,579.1 144.3,579.1 144.8,579.1 145.3,579.1 145.8,579.1 146.3,579.1 146.8,579.1 147.3,579.1 147.8,579.1 148.3,579.1 148.8,579.1 149.3,579.1 149.8,579.1 150.3,579.1 150.8,579.1 151.3,579.1 151.8,579.1 152.3,579.1 152.8,579.1 153.3,579.1 153.8,579.1 154.3,579.1 154.8,579.1 155.3,579.1 155.8,579.1 156.3,579.1 156.8,579.1 157.3,579.1 157.8,579.1 158.3,579.1 158.8,579.1 159.3,579.1 159.8,579.1 160.3,579.1 160.8,579.1 161.3,579.1 161.8,579.1 162.3,579.1 162.8,579.1 163.3,579.1 163.8,579.1 164.3,579.1 164.8,579.1 165.3,579.1 165.8,579.1 166.3,579.1 166.8,579.1 167.3,579.1 167.8,579.0 168.3,579.0 168.8,579.0 169.3,579.0 169.8,578.9 170.3,578.9 170.8,578.8 171.3,578.8 171.8,578.7 172.3,578.6 172.8,578.5 173.3,578.4 173.8,578.2 174.3,578.0 174.8,577.9 175.3,577.6 175.8,577.4 176.3,577.1 176.8,576.8 177.3,576.5 177.8,576.2 178.3,575.9 178.8,575.5 179.3,575.2 179.8,574.8 180.3,574.4 180.8,574.1 181.3,573.8 181.8,573.5 182.3,573.2 182.8,573.0 183.3,572.8 183.8,572.7 184.3,572.6 184.8,572.6 185.3,572.6 185.8,572.7 186.3,572.8 186.8,573.0 187.3,573.2 187.8,573.5 188.3,573.8 188.8,574.1 189.3,574.4 189.8,574.8 190.3,575.2 190.8,575.5 191.3,575.9 191.8,576.2 192.3,576.5 192.8,576.8 193.3,577.1 193.8,577.4 194.3,577.6 194.8,577.9 195.3,578.0 195.8,578.2 196.3,578.4 196.8,578.5 197.3,578.6 197.8,578.7 198.3,578.8 198.8,578.8 199.3,578.9 199.8,578.9 200.3,579.0 200.8,579.0 201.3,579.0 201.8,579.0 202.3,579.1 202.8,579.1 203.3,579.1 203.8,579.1 204.3,579.1 204.8,579.1 205.3,579.1 205.8,579.1 206.3,579.1 206.8,579.1 207.3,579.1 207.8,579.1 208.3,579.1 208.8,579.1 209.3,579.1 209.8,579.1 210.3,579.1 210.8,579.1 211.3,579.1 211.8,579.1 212.3,579.1 212.8,579.1 213.3,579.1 213.8,579.1 214.3,579.1 214.8,579.1 215.3,579.1 215.8,579.1 216.3,579.1 216.8,579.1 217.3,579.1 217.8,579.1 218.3,579.1 218.8,579.1 219.3,579.1 219.8,579.1 220.3,579.1 220.8,579.1 221.3,579.1 221.8,579.1 222.3,579.1 222.8,579.1 223.3,579.1 223.8,579.1 224.3,579.1 224.8,579.1 225.3,579.1 225.8,579.1 226.3,579.1 226.8,579.1 227.3,579.1 227.8,579.1 228.3,579.1 228.8,579.1 229.3,579.1 229.8,579.1 230.3,579.1 230.8,579.1 231.3,579.1 231.8,579.1 232.3,579.1 232.8,579.1 233.3,579.1 233.8,579.1 234.3,579.1 234.8,579.1 235.3,579.1 235.8,579.1 236.3,579.1 236.8,579.1 237.3,579.1 237.8,579.1 238.3,579.1 238.8,579.1 239.3,579.1 239.8,579.1 240.3,579.1 240.8,579.1 241.3,579.1 241.8,579.1 242.3,579.1 242.8,579.1 243.3,579.1 243.8,579.1 244.3,579.1 244.8,579.1 245.3,579.1 245.8,579.1 246.3,579.1 246.8,579.1 247.3,579.1 247.8,579.1 248.3,579.1 248.8,579.1 249.3,579.1 249.8,579.1 250.3,579.1 250.8,579.1 251.3,579.1 251.8,579.1 252.3,579.1 252.8,579.1 253.3,579.1 253.8,579.1 254.3,579.1 254.8,579.1 255.3,579.1 255.8,579.1 256.3,579.1 256.8,579.1 257.3,579.1 257.8,579.1 258.3,579.1 258.8,579.1 259.3,579.1 259.8,579.1 260.3,579.1 260.8,579.1 261.3,579.1 261.8,579.1 262.3,579.1 262.8,579.1 263.3,579.1 263.8,579.1 264.3,579.1 264.8,579.1 265.3,579.1 265.8,579.1 266.3,579.1 266.8,579.1 267.3,579.1 267.8,579.1 268.3,579.1 268.8,579.1 269.3,579.1 269.8,579.1 270.3,579.1 270.8,579.1 271.3,579.1 271.8,579.1 272.3,579.1 272.8,579.1 273.3,579.1 273.8,579.1 274.3,579.1 274.8,579.1 275.3,579.1 275.8,579.1 276.3,579.1 276.8,579.1 277.3,579.1 277.8,579.1 278.3,579.1 278.8,579.1 279.3,579.1 279.8,579.1 280.3,579.1 280.8,579.1 281.3,579.1 281.8,579.1 282.3,579.1 282.8,579.1 283.3,579.1 283.8,579.1 284.3,579.1 284.8,579.1 285.3,579.1 285.8,579.1 286.3,579.1 286.8,579.1 287.3,579.1 287.8,579.1 288.3,579.1 288.8,579.1 289.3,579.1 289.8,579.1 290.3,579.1 290.8,579.1 291.3,579.1 291.8,579.1 292.3,579.1 292.8,579.1 293.3,579.1 293.8,579.1 294.3,579.1 294.8,579.1 295.3,579.1 295.8,579.1 296.3,579.1 296.8,579.1 297.3,579.1 297.8,579.1 298.3,579.1 298.8,579.1 299.3,579.1 299.8,579.1 300.3,579.1 300.8,579.1 301.3,579.1 301.8,579.1 302.3,579.1 302.8,579.1 303.3,579.1 303.8,579.1 304.3,579.1 304.8,579.1 305.3,579.1 305.8,579.1 306.3,579.1 306.8,579.1 307.3,579.1 307.8,579.1 308.3,579.1 308.8,579.1 309.3,579.1 309.8,579.1 310.3,579.1 310.8,579.1 311.3,579.1 311.8,579.1 312.3,579.1 312.8,579.1 313.3,579.1 313.8,579.1 314.3,579.1 314.8,579.1 315.3,579.1 315.8,579.1 316.3,579.1 316.8,579.1 317.3,579.1 317.8,579.1 318.3,579.1 318.8,579.1 319.3,579.1 319.8,579.1 320.3,579.1 320.8,579.1 321.3,579.1 321.8,579.1 322.3,579.1 322.8,579.1 323.3,579.1 323.8,579.1 324.3,579.1 324.8,579.1 325.3,579.1 325.8,579.1 326.3,579.1 326.8,579.1 327.3,579.1 327.8,579.0 328.3,579.0 328.8,579.0 329.3,579.0 329.8,578.9 330.3,578.9 330.8,578.8 331.3,578.7 331.8,578.6 332.3,578.4 332.8,578.3 333.3,578.1 333.8,577.8 334.3,577.5 334.8,577.2 335.3,576.7 335.8,576.3 336.3,575.7 336.8,575.1 337.3,574.4 337.8,573.6 338.3,572.7 338.8,571.8 339.3,570.8 339.8,569.8 340.3,568.7 340.8,567.5 341.3,566.4 341.8,565.2 342.3,564.1 342.8,563.0 343.3,561.9 343.8,561.0 344.3,560.2 344.8,559.4 345.3,558.9 345.8,558.4 346.3,558.2 346.8,558.1 347.3,558.2 347.8,558.4 348.3,558.9 348.8,559.4 349.3,560.2 349.8,561.0 350.3,561.9 350.8,563.0 351.3,564.1 351.8,565.2 352.3,566.4 352.8,567.5 353.3,568.7 353.8,569.8 354.3,570.8 354.8,571.8 355.3,572.7 355.8,573.6 356.3,574.4 356.8,575.1 357.3,575.7 357.8,576.3 358.3,576.7 358.8,577.2 359.3,577.5 359.8,577.8 360.3,578.1 360.8,578.3 361.3,578.4 361.8,578.6 362.3,578.7 362.8,578.8 363.3,578.9 363.8,578.9 364.3,579.0 364.8,579.0 365.3,579.0 365.8,579.0 366.3,579.1 366.8,579.1 367.3,579.1 367.8,579.1 368.3,579.1 368.8,579.1 369.3,579.1 369.8,579.1 370.3,579.1 370.8,579.1 371.3,579.1 371.8,579.1 372.3,579.1 372.8,579.1 373.3,579.1 373.8,579.1 374.3,579.1 374.8,579.1 375.3,579.1 375.8,579.1 376.3,579.1 376.8,579.1 377.3,579.1 377.8,579.1 378.3,579.1 378.8,579.1 379.3,579.1 379.8,579.1 380.3,579.1 380.8,579.1 381.3,579.1 381.8,579.1 382.3,579.1 382.8,579.1 383.3,579.1 383.8,579.1 384.3,579.1 384.8,579.1 385.3,579.1 385.8,579.1 386.3,579.1 386.8,579.1 387.3,579.1 387.8,579.1 388.3,579.1 388.8,579.1 389.3,579.1 389.8,579.1 390.3,579.1 390.8,579.1 391.3,579.1 391.8,579.1 392.3,579.1 392.8,579.1 393.3,579.1 393.8,579.1 394.3,579.1 394.8,579.1 395.3,579.1 395.8,579.1 396.3,579.1 396.8,579.1 397.3,579.1 397.8,579.1 398.3,579.1 398.8,579.1 399.3,579.1 399.8,579.1 400.3,579.1 400.8,579.1 401.3,579.1 401.8,579.1 402.3,579.1 402.8,579.1 403.3,579.1 403.8,579.1 404.3,579.1 404.8,579.1 405.3,579.1 405.8,579.1 406.3,579.1 406.8,579.1 407.3,579.1 407.8,579.1 408.3,579.1 408.8,579.1 409.3,579.1 409.8,579.1 410.3,579.1 410.8,579.1 411.3,579.1 411.8,579.1 412.3,579.1 412.8,579.1 413.3,579.1 413.8,579.1 414.3,579.1 414.8,579.1 415.3,579.1 415.8,579.1 416.3,579.1 416.8,579.1 417.3,579.1 417.8,579.1 418.3,579.1 418.8,579.1 419.3,579.1 419.8,579.1 420.3,579.1 420.8,579.1 421.3,579.1 421.8,579.1 422.3,579.1 422.8,579.1 423.3,579.1 423.8,579.1 424.3,579.1 424.8,579.1 425.3,579.1 425.8,579.1 426.3,579.1 426.8,579.1 427.3,579.1 427.8,579.1 428.3,579.1 428.8,579.1 429.3,579.1 429.8,579.1 430.3,579.1 430.8,579.1 431.3,579.1 431.8,579.1 432.3,579.1 432.8,579.1 433.3,579.1 433.8,579.1 434.3,579.1 434.8,579.1 435.3,579.1 435.8,579.1 436.3,579.1 436.8,579.1 437.3,579.1 437.8,579.1 438.3,579.1 438.8,579.1 439.3,579.1 439.8,579.1 440.3,579.1 440.8,579.1 441.3,579.1 441.8,579.1 442.3,579.1 442.8,579.1 443.3,579.1 443.8,579.1 444.3,579.1 444.8,579.1 445.3,579.1 445.8,579.1 446.3,579.1 446.8,579.1 447.3,579.1 447.8,579.1 448.3,579.1 448.8,579.1 449.3,579.1 449.8,579.1 450.3,579.1 450.8,579.1 451.3,579.1 451.8,579.1 452.3,579.1 452.8,579.1 453.3,579.1 453.8,579.1 454.3,579.1 454.8,579.1 455.3,579.1 455.8,579.1 456.3,579.1 456.8,579.1 457.3,579.1 457.8,579.1 458.3,579.1 458.8,579.1 459.3,579.1 459.8,579.1 460.3,579.1 460.8,579.1 461.3,579.1 461.8,579.1 462.3,579.1 462.8,579.1 463.3,579.1 463.8,579.1 464.3,579.1 464.8,579.1 465.3,579.1 465.8,579.1 466.3,579.1 466.8,579.1 467.3,579.1 467.8,579.1 468.3,579.1 468.8,579.1 469.3,579.1 469.8,579.1 470.3,579.1 470.8,579.1 471.3,579.1 471.8,579.1 472.3,579.1 472.8,579.1 473.3,579.1 473.8,579.1 474.3,579.1 474.8,579.1 475.3,579.1 475.8,579.1 476.3,579.1 476.8,579.1 477.3,579.1 477.8,579.1 478.3,579.1 478.8,579.1 479.3,579.1 479.8,579.1 480.3,579.1 480.8,579.1 481.3,579.1 481.8,579.1 482.3,579.1 482.8,579.1 483.3,579.1 483.8,579.1 484.3,579.1 484.8,579.1 485.3,579.1 485.8,579.1 486.3,579.1 486.8,579.1 487.3,579.1 487.8,579.1 488.3,579.1 488.8,579.1 489.3,579.1 489.8,579.1 490.3,579.1 490.8,579.1 491.3,579.1 491.8,579.1 492.3,579.1 492.8,579.1 493.3,579.1 493.8,579.1 494.3,579.1 494.8,579.1 495.3,579.1 495.8,579.1 496.3,579.1 496.8,579.1 497.3,579.1 497.8,579.1 498.3,579.1 498.8,579.1 499.3,579.1 499.8,579.1 500.3,579.1 500.8,579.1 501.3,579.1 501.8,579.1 502.3,579.1 502.8,579.1 503.3,579.1 503.8,579.1 504.3,579.1 504.8,579.1 505.3,579.1 505.8,579.1 506.3,579.1 506.8,579.1 507.3,579.1 507.8,579.1 508.3,579.1 508.8,579.1 509.3,579.1 509.8,579.1 510.3,579.1 510.8,579.1 511.3,579.1 511.8,579.1 512.3,579.1 512.8,579.1 513.3,579.1 513.8,579.1 514.3,579.1 514.8,579.1 515.3,579.1 515.8,579.1 516.3,579.1 516.8,579.1 517.3,579.1 517.8,579.1 518.3,579.1 518.8,579.1 519.3,579.1 519.8,579.1 520.3,579.1 520.8,579.1 521.3,579.1 521.8,579.1 522.3,579.1 522.8,579.1 523.3,579.1 523.8,579.1 524.3,579.1 524.8,579.1 525.3,579.1 525.8,579.1 526.3,579.1 526.8,579.1 527.3,579.1 527.8,579.1 528.3,579.1 528.8,579.1 529.3,579.1 529.8,579.1 530.3,579.1 530.8,579.1 531.3,579.1 531.8,579.1 532.3,579.1 532.8,579.1 533.3,579.1 533.8,579.1 534.3,579.1 534.8,579.1 535.3,579.1 535.8,579.0 536.3,579.0 536.8,579.0 537.3,579.0 537.8,578.9 538.3,578.9 538.8,578.8 539.3,578.7 539.8,578.6 540.3,578.5 540.8,578.4 541.3,578.2 541.8,578.0 542.3,577.8 542.8,577.6 543.3,577.3 543.8,577.0 544.3,576.6 544.8,576.3 545.3,575.9 545.8,575.4 546.3,575.0 546.8,574.6 547.3,574.1 547.8,573.6 548.3,573.2 548.8,572.8 549.3,572.4 549.8,572.1 550.3,571.8 550.8,571.6 551.3,571.4 551.8,571.3 552.3,571.3 552.8,571.4 553.3,571.5 553.8,571.7 554.3,571.9 554.8,572.2 555.3,572.6 555.8,573.0 556.3,573.4 556.8,573.8 557.3,574.3 557.8,574.7 558.3,575.2 558.8,575.6 559.3,576.0 559.8,576.4 560.3,576.8 560.8,577.1 561.3,577.4 561.8,577.7 562.3,577.9 562.8,578.1 563.3,578.3 563.8,578.5 564.3,578.6 564.8,578.7 565.3,578.8 565.8,578.8 566.3,578.9 566.8,578.9 567.3,579.0 567.8,579.0 568.3,579.0 568.8,579.1 569.3,579.1 569.8,579.1 570.3,579.1 570.8,579.1 571.3,579.1 571.8,579.1 572.3,579.1 572.8,579.1 573.3,579.1 573.8,579.1 574.3,579.1 574.8,579.1 575.3,579.1 575.8,579.1 576.3,579.1 576.8,579.1 577.3,579.1 577.8,579.1 578.3,579.1 578.8,579.1 579.3,579.1 579.8,579.1 580.3,579.1 580.8,579.1 581.3,579.1 581.8,579.1 582.3,579.1 582.8,579.1 583.3,579.1 583.8,579.1 584.3,579.1 584.8,579.1 585.3,579.1 585.8,579.1 586.3,579.1 586.8,579.1 587.3,579.1 587.8,579.1 588.3,579.1 588.8,579.1 589.3,579.1 589.8,579.1 590.3,579.1 590.8,579.1 591.3,579.1 591.8,579.1 592.3,579.1 592.8,579.1 593.3,579.1 593.8,579.1 594.3,579.1 594.8,579.1 595.3,579.1 595.8,579.1 596.3,579.1 596.8,579.1 597.3,579.1 597.8,579.1 598.3,579.1 598.8,579.1 599.3,579.1 599.8,579.1 600.3,579.1 600.8,579.1 601.3,579.1 601.8,579.1 602.3,579.1 602.8,579.1 603.3,579.1 603.8,579.1 604.3,579.1 604.8,579.1 605.3,579.1 605.8,579.1 606.3,579.1 606.8,579.1 607.3,579.1 607.8,579.1 608.3,579.1 608.8,579.1 609.3,579.1 609.8,579.1 610.3,579.1 610.8,579.1 611.3,579.1 611.8,579.1 612.3,579.1 612.8,579.1 613.3,579.1 613.8,579.1 614.3,579.1 614.8,579.1 615.3,579.1 615.8,579.1 616.3,579.1 616.8,579.1 617.3,579.1 617.8,579.1 618.3,579.1 618.8,579.1 619.3,579.1 619.8,579.1 620.3,579.1 620.8,579.1 621.3,579.1 621.8,579.1 622.3,579.1 622.8,579.1 623.3,579.1 623.8,579.1 624.3,579.1 624.8,579.1 625.3,579.1 625.8,579.1 626.3,579.1 626.8,579.1 627.3,579.1 627.8,579.1 628.3,579.1 628.8,579.1 629.3,579.1 629.8,579.1 630.3,579.1 630.8,579.1 631.3,579.1 631.8,579.1 632.3,579.1 632.8,579.1 633.3,579.1 633.8,579.1 634.3,579.1 634.8,579.1 635.3,579.1 635.8,579.1 636.3,579.1 636.8,579.1 637.3,579.1 637.8,579.1 638.3,579.1 638.8,579.1 639.3,579.1 639.8,579.1 640.3,579.1 640.8,579.1 641.3,579.1 641.8,579.1 642.3,579.1 642.8,579.1 643.3,579.1 643.8,579.1 644.3,579.1 644.8,579.1 645.3,579.1 645.8,579.1 646.3,579.1 646.8,579.1 647.3,579.1 647.8,579.1 648.3,579.1 648.8,579.1 649.3,579.1 649.8,579.1 650.3,579.1 650.8,579.1 651.3,579.1 651.8,579.1 652.3,579.1 652.8,579.1 653.3,579.1 653.8,579.1 654.3,579.1 654.8,579.1 655.3,579.1 655.8,579.1 656.3,579.1 656.8,579.1 657.3,579.1 657.8,579.1 658.3,579.1 658.8,579.1 659.3,579.1 659.8,579.1 660.3,579.1 660.8,579.1 661.3,579.1 661.8,579.1 662.3,579.1 662.8,579.1 663.3,579.1 663.8,579.1 664.3,579.1 664.8,579.1 665.3,579.1 665.8,579.1 666.3,579.1 666.8,579.1 667.3,579.1 667.8,579.1 668.3,579.1 668.8,579.1 669.3,579.1 669.8,579.1 670.3,579.1 670.8,579.1 671.3,579.1 671.8,579.1 672.3,579.1 672.8,579.1 673.3,579.1 673.8,579.1 674.3,579.1 674.8,579.1 675.3,579.1 675.8,579.1 676.3,579.1 676.8,579.1 677.3,579.1 677.8,579.1" fill="none" stroke="#3d97bd" stroke-width="2.4" stroke-linejoin="round" stroke-linecap="round" />
</g>
<path d="M58.5,848.5 V626.5 H678.5 V848.5" fill="none" stroke="#444" stroke-width="1"/>
<line x1="58.0" y1="848.5" x2="679.0" y2="848.5" stroke="#222" stroke-width="1" />
<line x1="51.5" y1="848.5" x2="58.5" y2="848.5" stroke="#444" stroke-width="1.0" />
<text transform="translate(34.98,854.55) scale(1.0222,1)" font-size="15.29" fill="#222" font-weight="normal" font-style="normal">0</text>
<line x1="51.5" y1="774.5" x2="58.5" y2="774.5" stroke="#444" stroke-width="1.0" />
<text transform="translate(34.98,780.55) scale(1.0076,1)" font-size="15.51" fill="#222" font-weight="normal" font-style="normal">5</text>
<line x1="51.5" y1="700.5" x2="58.5" y2="700.5" stroke="#444" stroke-width="1.0" />
<text transform="translate(27.98,706.55) scale(0.9159,1)" font-size="15.29" fill="#222" font-weight="normal" font-style="normal">10</text>
<line x1="51.5" y1="626.5" x2="58.5" y2="626.5" stroke="#444" stroke-width="1.0" />
<text transform="translate(27.98,632.55) scale(0.9028,1)" font-size="15.51" fill="#222" font-weight="normal" font-style="normal">15</text>
<line x1="58.5" y1="848.5" x2="58.5" y2="856.5" stroke="#444" stroke-width="1.0" />
<text transform="translate(49.41,875.40) scale(1.0680,1)" font-size="15.00" fill="#222" font-weight="normal" font-style="normal">56</text>
<line x1="182.5" y1="848.5" x2="182.5" y2="856.5" stroke="#444" stroke-width="1.0" />
<text transform="translate(173.41,875.40) scale(1.0527,1)" font-size="15.22" fill="#222" font-weight="normal" font-style="normal">57</text>
<line x1="306.5" y1="848.5" x2="306.5" y2="856.5" stroke="#444" stroke-width="1.0" />
<text transform="translate(297.41,875.40) scale(1.0680,1)" font-size="15.00" fill="#222" font-weight="normal" font-style="normal">58</text>
<line x1="430.5" y1="848.5" x2="430.5" y2="856.5" stroke="#444" stroke-width="1.0" />
<text transform="translate(421.41,875.40) scale(1.0680,1)" font-size="15.00" fill="#222" font-weight="normal" font-style="normal">59</text>
<line x1="554.5" y1="848.5" x2="554.5" y2="856.5" stroke="#444" stroke-width="1.0" />
<text transform="translate(545.25,875.40) scale(1.0680,1)" font-size="15.00" fill="#222" font-weight="normal" font-style="normal">60</text>
<line x1="678.5" y1="848.5" x2="678.5" y2="856.5" stroke="#444" stroke-width="1.0" />
<text transform="translate(670.61,875.40) scale(0.9150,1)" font-size="15.00" fill="#222" font-weight="normal" font-style="normal">61</text>
<clipPath id="cc"><rect x="58.5" y="626.0" width="622.2" height="225.0"/></clipPath>
<g clip-path="url(#cc)">
<path d="M58.5,833.0 C58.8,832.9 59.2,832.5 60.0,832.2 C60.8,831.9 62.0,831.6 63.0,831.2 C64.0,830.8 64.8,830.4 65.8,830.0 C66.8,829.6 67.8,829.5 69.0,829.0 C70.2,828.5 71.9,827.3 73.1,826.8 C74.3,826.3 75.0,826.4 76.0,826.2 C77.0,826.0 77.8,825.9 79.0,825.4 C80.2,824.9 82.1,823.8 83.4,823.5 C84.7,823.2 86.0,824.0 87.0,823.5 C88.0,823.0 88.4,821.1 89.2,820.5 C90.0,819.9 91.0,820.1 92.0,819.8 C93.0,819.4 94.0,818.9 95.0,818.4 C96.0,817.9 97.0,817.3 98.0,816.5 C99.0,815.7 99.8,814.4 100.9,813.7 C102.0,813.0 103.3,812.4 104.5,812.2 C105.7,812.0 106.9,812.3 108.2,812.5 C109.5,812.7 111.4,813.6 112.6,813.2 C113.8,812.8 114.3,810.5 115.5,810.0 C116.7,809.5 118.6,810.5 119.9,810.3 C121.2,810.1 122.3,809.2 123.5,808.9 C124.7,808.6 126.1,807.9 127.2,808.4 C128.3,808.9 129.1,811.3 130.1,811.8 C131.1,812.3 132.0,811.0 133.0,811.4 C134.0,811.8 134.8,813.6 135.9,814.0 C137.0,814.4 138.3,813.0 139.6,813.7 C140.9,814.4 142.3,817.1 143.9,818.4 C145.5,819.7 147.5,820.9 149.1,821.6 C150.7,822.3 152.1,821.8 153.4,822.7 C154.7,823.6 156.0,826.0 157.1,827.1 C158.2,828.2 158.5,828.6 160.0,829.3 C161.5,830.0 164.0,830.5 166.0,831.5 C168.0,832.5 170.1,834.4 172.0,835.5 C173.9,836.6 175.2,837.4 177.6,838.2 C180.0,839.0 182.5,840.0 186.4,840.5 C190.3,841.0 195.7,841.0 201.0,841.2 C206.3,841.4 212.7,841.7 218.5,841.9 C224.3,842.1 229.9,842.2 236.0,842.3 C242.1,842.4 249.3,842.5 255.0,842.6 C260.7,842.7 266.0,842.6 270.0,842.6 C274.0,842.6 275.9,842.5 279.2,842.5 C282.5,842.5 286.1,842.7 290.0,842.4 C293.9,842.1 298.5,841.2 302.6,840.8 C306.7,840.3 311.1,840.1 314.8,839.7 C318.5,839.3 321.7,839.0 325.0,838.6 C328.3,838.2 331.8,838.1 334.7,837.3 C337.6,836.4 339.6,834.8 342.1,833.5 C344.6,832.2 347.6,830.6 349.6,829.8 C351.6,829.0 352.4,829.2 354.0,828.9 C355.6,828.6 357.8,828.0 359.5,827.8 C361.2,827.6 362.4,827.8 364.0,827.6 C365.6,827.4 367.5,827.2 369.4,826.8 C371.3,826.4 373.5,825.5 375.6,825.4 C377.7,825.3 379.9,826.6 381.8,826.1 C383.7,825.6 385.4,823.1 386.8,822.4 C388.2,821.7 388.8,822.2 390.0,821.9 C391.2,821.6 392.2,820.9 394.2,820.4 C396.1,819.9 399.9,819.1 401.7,818.7 C403.5,818.4 403.8,818.5 405.0,818.3 C406.2,818.1 407.8,817.4 409.1,817.4 C410.4,817.4 411.8,817.8 413.0,818.1 C414.2,818.4 415.2,819.3 416.6,819.4 C418.0,819.5 420.1,818.4 421.5,818.7 C422.9,819.0 423.8,820.2 425.0,821.0 C426.2,821.8 427.8,822.8 429.0,823.6 C430.2,824.4 430.8,825.2 432.0,825.9 C433.2,826.6 434.6,827.3 436.4,827.8 C438.2,828.3 440.5,828.1 442.6,829.1 C444.7,830.1 447.2,832.5 448.8,833.5 C450.4,834.5 450.8,834.7 452.0,835.4 C453.2,836.1 454.8,837.0 456.3,837.8 C457.8,838.6 459.4,839.5 461.0,840.3 C462.6,841.1 464.2,841.8 466.0,842.4 C467.8,843.0 469.7,843.4 472.0,843.6 C474.3,843.8 477.7,843.9 480.0,843.8 C482.3,843.7 484.2,843.6 486.0,843.2 C487.8,842.8 489.2,842.1 490.5,841.3 C491.8,840.5 492.8,839.5 494.0,838.5 C495.2,837.5 496.6,835.9 497.6,835.4 C498.6,834.9 499.1,835.0 500.0,835.2 C500.9,835.4 501.8,836.0 502.8,836.8 C503.8,837.6 504.8,839.1 506.0,840.0 C507.2,840.9 508.3,842.0 509.8,842.4 C511.3,842.8 513.2,842.8 515.0,842.3 C516.8,841.8 518.8,841.0 520.3,839.6 C521.8,838.2 522.8,836.0 524.0,834.0 C525.2,832.0 526.0,829.1 527.3,827.3 C528.5,825.5 530.4,823.4 531.5,823.1 C532.6,822.8 533.2,824.5 534.0,825.5 C534.8,826.5 535.1,827.2 536.1,829.1 C537.1,831.0 538.8,835.0 540.0,837.0 C541.2,839.0 541.8,840.2 543.1,841.3 C544.4,842.4 546.2,843.0 548.0,843.5 C549.8,844.0 547.4,843.9 553.6,844.1 C559.8,844.3 564.0,844.7 585.2,844.8 C606.4,844.9 665.0,844.8 681.0,844.8" fill="none" stroke="#d4073f" stroke-width="2.1" stroke-linejoin="round" stroke-linecap="round" />
<path d="M58.5,843.2 C72.5,843.2 118.8,843.6 142.6,843.2 C166.3,842.8 182.3,841.2 201.0,840.6 C219.7,840.0 239.5,839.8 255.0,839.4 C270.5,839.0 282.5,838.4 293.8,838.2 C305.1,838.0 312.3,838.3 323.0,838.2 C333.7,838.1 348.3,837.3 358.0,837.4 C367.7,837.5 372.6,838.3 381.4,838.8 C390.2,839.3 402.3,840.5 410.6,840.6 C418.9,840.7 425.6,840.0 431.0,839.4 C436.4,838.8 437.4,837.4 442.7,837.1 C447.9,836.8 455.1,837.7 462.5,837.8 C469.9,837.9 480.0,838.1 487.0,837.8 C494.0,837.5 498.8,837.1 504.6,836.1 C510.5,835.1 516.9,832.5 522.1,831.9 C527.4,831.3 531.4,832.0 536.1,832.6 C540.8,833.2 544.9,834.4 550.1,835.4 C555.4,836.4 560.0,837.7 567.6,838.9 C575.2,840.1 585.8,841.8 595.7,842.4 C605.6,843.0 617.3,842.7 627.2,842.4 C637.1,842.1 646.2,841.1 655.2,840.6 C664.2,840.1 676.7,839.8 681.0,839.6" fill="none" stroke="#6b5baa" stroke-width="2.1" stroke-linejoin="round" stroke-linecap="round" />
<path d="M58.5,841.0 C59.1,840.8 60.9,839.9 62.0,839.5 C63.1,839.1 63.7,838.9 65.0,838.8 C66.3,838.7 68.0,838.5 69.7,838.8 C71.5,839.1 73.5,840.3 75.5,840.7 C77.5,841.1 76.5,841.3 81.4,841.4 C86.3,841.5 95.3,841.3 104.7,841.4 C114.1,841.5 129.6,841.6 138.0,841.7 C146.4,841.8 150.5,841.7 155.0,842.2 C159.5,842.7 157.5,844.1 165.0,844.6 C172.5,845.1 152.5,844.9 200.0,845.0 C247.5,845.1 383.3,845.0 450.0,845.0 C516.7,845.0 561.5,845.3 600.0,845.3 C638.5,845.3 667.5,844.9 681.0,844.8" fill="none" stroke="#000000" stroke-width="2.3" stroke-linejoin="round" stroke-linecap="round" />
<path d="M58.5,844.7 C67.7,844.6 94.5,844.1 113.4,844.1 C132.3,844.1 148.2,844.6 171.8,844.7 C195.4,844.8 208.6,844.8 255.0,844.7 C301.4,844.6 412.5,844.1 450.0,844.1 C487.5,844.1 471.5,845.3 480.0,844.8 C488.5,844.3 494.7,842.9 501.1,841.3 C507.5,839.7 512.8,836.7 518.6,835.4 C524.4,834.1 530.3,833.2 536.1,833.3 C541.9,833.4 547.8,835.0 553.6,836.1 C559.4,837.2 564.1,838.4 571.1,839.6 C578.1,840.8 586.4,842.4 595.7,843.1 C605.1,843.8 613.0,843.8 627.2,843.8 C641.4,843.8 672.0,843.2 681.0,843.1" fill="none" stroke="#fa8435" stroke-width="2.0" stroke-linejoin="round" stroke-linecap="round" />
<path d="M58.5,848.9 C162.2,848.9 577.2,848.9 681.0,848.9" fill="none" stroke="#0000f0" stroke-width="2.4" stroke-linejoin="round" stroke-linecap="round" />
<path d="M58.5,846.1 C62.8,846.0 65.3,845.1 84.2,845.3 C103.1,845.4 143.3,846.8 171.8,847.0 C200.3,847.2 223.5,846.5 255.0,846.4 C286.5,846.2 342.2,846.5 361.0,846.1 C379.8,845.7 365.6,844.5 368.0,844.0 C370.4,843.5 373.2,843.2 375.5,843.2 C377.8,843.2 379.6,843.7 382.0,844.2 C384.4,844.7 340.2,845.6 390.0,846.1 C439.8,846.6 632.5,847.1 681.0,847.3" fill="none" stroke="#3d97bd" stroke-width="2.4" stroke-linejoin="round" stroke-linecap="round" />
</g>
<text transform="translate(0.45,13.35) scale(1.1807,1)" font-size="19.81" fill="#000" font-weight="bold" font-style="normal" stroke="#000" stroke-width="0.9" stroke-linejoin="round">a</text>
<text transform="translate(-0.08,371.95) scale(1.1621,1)" font-size="23.75" fill="#000" font-weight="bold" font-style="normal" stroke="#000" stroke-width="0.9" stroke-linejoin="round">b</text>
<text transform="translate(0.86,632.05) scale(1.3203,1)" font-size="18.70" fill="#000" font-weight="bold" font-style="normal" stroke="#000" stroke-width="0.9" stroke-linejoin="round">c</text>
<text transform="translate(3.05,940.65) scale(1.1979,1)" font-size="22.92" fill="#000" font-weight="bold" font-style="normal" stroke="#000" stroke-width="0.9" stroke-linejoin="round">d</text>
<text transform="translate(340.49,941.35) scale(1.4346,1)" font-size="20.19" fill="#000" font-weight="bold" font-style="normal" stroke="#000" stroke-width="0.9" stroke-linejoin="round">e</text>
<text transform="translate(98.14,37.00) scale(1.0261,1)" font-size="17.83" fill="#222" font-weight="normal" font-style="normal">Bennu</text>
<text transform="translate(72.89,387.70) scale(0.9237,1)" font-size="17.57" fill="#222" font-weight="normal" font-style="normal">STD</text>
<text transform="translate(72.39,657.80) scale(0.9871,1)" font-size="17.92" fill="#222" font-weight="normal" font-style="normal">Blank</text>
<text transform="translate(18.10,222.50) rotate(-90) scale(1.0335,1)" font-size="17.36" fill="#222" font-weight="normal" font-style="normal">Signal int. (×10</text>
<text transform="translate(9.80,101.25) rotate(-90) scale(0.9953,1)" font-size="12.61" fill="#222" font-weight="normal" font-style="normal">4</text>
<text transform="translate(17.60,94.27) rotate(-90) scale(0.9670,1)" font-size="17.50" fill="#222" font-weight="normal" font-style="normal">)</text>
<text transform="translate(18.10,543.70) rotate(-90) scale(1.0335,1)" font-size="17.36" fill="#222" font-weight="normal" font-style="normal">Signal int. (×10</text>
<text transform="translate(9.80,422.45) rotate(-90) scale(0.9953,1)" font-size="12.61" fill="#222" font-weight="normal" font-style="normal">4</text>
<text transform="translate(17.60,415.47) rotate(-90) scale(0.9670,1)" font-size="17.50" fill="#222" font-weight="normal" font-style="normal">)</text>
<text transform="translate(18.10,797.30) rotate(-90) scale(1.0335,1)" font-size="17.36" fill="#222" font-weight="normal" font-style="normal">Signal int. (×10</text>
<text transform="translate(9.80,676.05) rotate(-90) scale(0.9953,1)" font-size="12.61" fill="#222" font-weight="normal" font-style="normal">4</text>
<text transform="translate(17.60,669.07) rotate(-90) scale(0.9670,1)" font-size="17.50" fill="#222" font-weight="normal" font-style="normal">)</text>
<text transform="translate(284.08,902.10) scale(1.2004,1)" font-size="15.83" fill="#222" font-weight="normal" font-style="normal">Retention time (min)</text>
<text transform="translate(201.90,223.59) rotate(-90) scale(1.0473,1)" font-size="17.78" fill="#222" font-weight="normal" font-style="normal">Mannose/Altrose</text>
<text transform="translate(341.20,100.44) rotate(-90) scale(0.9695,1)" font-size="19.44" fill="#222" font-weight="normal" font-style="normal">Glucose</text>
<text transform="translate(562.50,274.83) rotate(-90) scale(0.9541,1)" font-size="19.58" fill="#222" font-weight="normal" font-style="normal">Galactose</text>
<text transform="translate(191.80,506.18) rotate(-90) scale(0.9880,1)" font-size="18.70" fill="#222" font-weight="normal" font-style="normal">Mannose</text>
<text transform="translate(338.10,438.33) rotate(-90) scale(0.9731,1)" font-size="19.03" fill="#222" font-weight="normal" font-style="normal">Glucose</text>
<text transform="translate(563.90,487.33) rotate(-90) scale(0.9596,1)" font-size="19.31" fill="#222" font-weight="normal" font-style="normal">Galactose</text>
<text transform="translate(588.53,39.60) scale(1.1256,1)" font-size="16.25" fill="#222" font-weight="normal" font-style="italic">m/z</text>
<text transform="translate(587.47,62.60) scale(1.0985,1)" font-size="16.29" fill="#d4073f" font-weight="normal" font-style="normal">103 &gt; 43</text>
<text transform="translate(587.56,85.70) scale(1.0316,1)" font-size="16.29" fill="#6b5baa" font-weight="normal" font-style="normal">115 &gt; 43</text>
<text transform="translate(587.49,109.00) scale(1.0790,1)" font-size="16.29" fill="#1a1a1a" font-weight="normal" font-style="normal">145 &gt; 43</text>
<text transform="translate(588.09,131.80) scale(0.9954,1)" font-size="16.29" fill="#fa8435" font-weight="normal" font-style="normal">212 &gt; 152</text>
<text transform="translate(588.03,155.90) scale(1.0644,1)" font-size="16.29" fill="#0000f0" font-weight="normal" font-style="normal">242 &gt; 140</text>
<text transform="translate(587.98,178.30) scale(1.1274,1)" font-size="16.29" fill="#3d97bd" font-weight="normal" font-style="normal">242 &gt; 200</text>
<line x1="64.1" y1="1048.7" x2="73.2" y2="1053.4" stroke="#111111" stroke-width="2.4" stroke-linecap="butt"/>
<line x1="92.4" y1="1053.4" x2="111.6" y2="1042.7" stroke="#111111" stroke-width="2.4" stroke-linecap="butt"/>
<polyline points="92.4,1053.4 111.6,1042.4 140.1,1059.1 168.6,1043.1 197,1058.8 226.3,1043.5 271.9,1069.3" fill="none" stroke="#111111" stroke-width="2.4" stroke-linejoin="miter"/>
<line x1="257.4" y1="1054.9" x2="275.1" y2="1065" stroke="#111111" stroke-width="2.4" stroke-linecap="butt"/>
<line x1="251.8" y1="1063.7" x2="269.5" y2="1074.2" stroke="#111111" stroke-width="2.4" stroke-linecap="butt"/>
<line x1="150.2" y1="998.5" x2="159.4" y2="1004.3" stroke="#111111" stroke-width="2.4" stroke-linecap="butt"/>
<line x1="235.4" y1="1004.6" x2="242.6" y2="1000.6" stroke="#111111" stroke-width="2.4" stroke-linecap="butt"/>
<line x1="129.9" y1="1098.8" x2="119" y2="1104.7" stroke="#111111" stroke-width="2.4" stroke-linecap="butt"/>
<line x1="207.7" y1="1098.3" x2="218.6" y2="1104.2" stroke="#111111" stroke-width="2.4" stroke-linecap="butt"/>
<polygon points="168.6,1043.1 163.2,1022.6 174.6,1022.6" fill="#111111"/>
<polygon points="226.3,1043.5 220.5,1022.6 231.9,1022.6" fill="#111111"/>
<polygon points="197,1058.8 191.6,1081.4 203.2,1081.4" fill="#111111"/>
<line x1="138.6" y1="1066.2" x2="141.6" y2="1066.2" stroke="#111111" stroke-width="2.0" />
<line x1="137.5" y1="1071.2" x2="142.7" y2="1071.2" stroke="#111111" stroke-width="2.0" />
<line x1="136.29999999999998" y1="1076.0" x2="143.9" y2="1076.0" stroke="#111111" stroke-width="2.0" />
<line x1="134.79999999999998" y1="1080.8" x2="145.4" y2="1080.8" stroke="#111111" stroke-width="2.0" />
<text transform="translate(35.50,1050.10) scale(1.0289,1)" font-size="20.29" fill="#111111" font-weight="normal" font-style="normal">Ac</text>
<text transform="translate(122.00,1001.40) scale(0.9846,1)" font-size="20.58" fill="#111111" font-weight="normal" font-style="normal">Ac</text>
<text transform="translate(248.30,1001.40) scale(0.9959,1)" font-size="20.43" fill="#111111" font-weight="normal" font-style="normal">Ac</text>
<text transform="translate(93.40,1116.40) scale(1.0455,1)" font-size="19.13" fill="#111111" font-weight="normal" font-style="normal">Ac</text>
<text transform="translate(219.70,1116.70) scale(1.0161,1)" font-size="19.86" fill="#111111" font-weight="normal" font-style="normal">Ac</text>
<text transform="translate(73.27,1066.90) scale(1.1243,1)" font-size="20.14" fill="#111111" font-weight="normal" font-style="normal">O</text>
<text transform="translate(159.97,1018.00) scale(1.0597,1)" font-size="19.43" fill="#111111" font-weight="normal" font-style="normal">O</text>
<text transform="translate(218.29,1017.40) scale(1.0370,1)" font-size="19.43" fill="#111111" font-weight="normal" font-style="normal">O</text>
<text transform="translate(131.76,1100.30) scale(1.0516,1)" font-size="19.86" fill="#111111" font-weight="normal" font-style="normal">O</text>
<text transform="translate(189.73,1100.90) scale(1.1223,1)" font-size="19.00" fill="#111111" font-weight="normal" font-style="normal">O</text>
<text transform="translate(275.04,1083.00) scale(1.0433,1)" font-size="19.86" fill="#111111" font-weight="normal" font-style="normal">N</text>
<polyline points="76.1,1042.0 57.4,1071.6 46.6,1063.9" fill="none" stroke="#d4073f" stroke-width="2.5" stroke-dasharray="2.5 1.9" stroke-linejoin="miter"/>
<polyline points="122.6,1040.4 75.0,1114.2 86.4,1120.8" fill="none" stroke="#d4073f" stroke-width="2.5" stroke-dasharray="2.5 1.9" stroke-linejoin="miter"/>
<polyline points="118.8,991.6 107.4,999.2 154.0,1070.4" fill="none" stroke="#d4073f" stroke-width="2.5" stroke-dasharray="2.5 1.9" stroke-linejoin="miter"/>
<polyline points="143.8,1044.8 171.3,1085.3 163.1,1091.1" fill="none" stroke="#d4073f" stroke-width="2.5" stroke-dasharray="2.5 1.9" stroke-linejoin="miter"/>
<polyline points="203.8,984.0 216.1,989.3 175.9,1055.0" fill="none" stroke="#d4073f" stroke-width="2.5" stroke-dasharray="2.5 1.9" stroke-linejoin="miter"/>
<text transform="translate(31.91,1086.20) scale(1.0814,1)" font-size="18.14" fill="#d4073f" font-weight="normal" font-style="normal">43</text>
<text transform="translate(78.42,992.90) scale(1.0281,1)" font-size="19.14" fill="#d4073f" font-weight="normal" font-style="normal">242</text>
<text transform="translate(193.53,979.20) scale(0.9783,1)" font-size="19.86" fill="#d4073f" font-weight="normal" font-style="normal">217</text>
<text transform="translate(277.58,978.70) scale(1.0603,1)" font-size="17.97" fill="#d4073f" font-weight="normal" font-style="normal">115</text>
<text transform="translate(3.22,1137.90) scale(1.0848,1)" font-size="18.14" fill="#d4073f" font-weight="normal" font-style="normal">212</text>
<text transform="translate(76.13,1137.90) scale(1.0645,1)" font-size="18.14" fill="#d4073f" font-weight="normal" font-style="normal">314</text>
<text transform="translate(154.56,1108.60) scale(1.0364,1)" font-size="18.55" fill="#d4073f" font-weight="normal" font-style="normal">145</text>
<text transform="translate(154.55,1152.40) scale(1.0582,1)" font-size="18.29" fill="#d4073f" font-weight="normal" font-style="normal">103</text>
<text transform="translate(229.10,943.20) scale(1.0425,1)" font-size="18.71" fill="#111111" font-weight="normal" font-style="normal">–60</text>
<text transform="translate(229.10,966.60) scale(1.0225,1)" font-size="18.71" fill="#111111" font-weight="normal" font-style="normal">–42</text>
<text transform="translate(43.30,1149.30) scale(0.9913,1)" font-size="19.00" fill="#111111" font-weight="normal" font-style="normal">–60</text>
<text transform="translate(43.30,1172.40) scale(1.0445,1)" font-size="18.14" fill="#111111" font-weight="normal" font-style="normal">–42</text>
<text transform="translate(172.40,1129.60) scale(1.0465,1)" font-size="18.29" fill="#111111" font-weight="normal" font-style="normal">–42</text>
<line x1="229.1" y1="972.6" x2="264.7" y2="972.6" stroke="#d4073f" stroke-width="2.6" />
<polygon points="273.7,972.6 263.7,977.4 266.2,972.6 263.7,967.8" fill="#d4073f"/>
<line x1="75" y1="1129.7" x2="48.5" y2="1129.7" stroke="#d4073f" stroke-width="2.6" />
<polygon points="39.5,1129.7 49.5,1124.9 47.0,1129.7 49.5,1134.5" fill="#d4073f"/>
<line x1="165.1" y1="1112.1" x2="165.1" y2="1127.0" stroke="#d4073f" stroke-width="2.6" />
<polygon points="165.1,1135.5 160.7,1126.0 165.1,1128.5 169.5,1126.0" fill="#d4073f"/>
<text transform="translate(88.99,1187.80) scale(1.1061,1)" font-size="17.08" fill="#231f20" font-weight="normal" font-style="normal">Derivatized glucose</text>
<text transform="translate(49.54,1207.60) scale(1.2177,1)" font-size="15.83" fill="#231f20" font-weight="normal" font-style="normal">(glucononitrile pentaacetate)</text>
<line x1="413.5" y1="941" x2="678.2" y2="941" stroke="#777" stroke-width="1.2"/>
<line x1="678.2" y1="941" x2="678.2" y2="1161.5" stroke="#777" stroke-width="1.2"/>
<rect x="413.52" y="1157.09" width="2.2" height="4.41" fill="#fa0a0a"/>
<rect x="414.43" y="1150.70" width="2.4" height="10.80" fill="#fa0a0a"/>
<rect x="415.45" y="941.00" width="2.4" height="220.50" fill="#fa0a0a"/>
<rect x="416.46" y="1127.10" width="2.4" height="34.40" fill="#fa0a0a"/>
<rect x="417.48" y="1148.27" width="2.4" height="13.23" fill="#fa0a0a"/>
<rect x="418.59" y="1159.30" width="2.2" height="2.21" fill="#fa0a0a"/>
<rect x="422.86" y="1160.18" width="1.8" height="1.32" fill="#fa0a0a"/>
<rect x="423.67" y="1159.74" width="2.2" height="1.76" fill="#fa0a0a"/>
<rect x="424.89" y="1159.96" width="1.8" height="1.54" fill="#fa0a0a"/>
<rect x="425.70" y="1158.85" width="2.2" height="2.65" fill="#fa0a0a"/>
<rect x="426.72" y="1159.30" width="2.2" height="2.21" fill="#fa0a0a"/>
<rect x="427.73" y="1157.31" width="2.2" height="4.19" fill="#fa0a0a"/>
<rect x="428.75" y="1158.85" width="2.2" height="2.65" fill="#fa0a0a"/>
<rect x="429.76" y="1157.97" width="2.2" height="3.53" fill="#fa0a0a"/>
<rect x="430.98" y="1160.62" width="1.8" height="0.88" fill="#fa0a0a"/>
<rect x="432.71" y="1152.02" width="2.4" height="9.48" fill="#fa0a0a"/>
<rect x="434.03" y="1160.18" width="1.8" height="1.32" fill="#fa0a0a"/>
<rect x="435.04" y="1160.84" width="1.8" height="0.66" fill="#fa0a0a"/>
<rect x="438.09" y="1160.84" width="1.8" height="0.66" fill="#fa0a0a"/>
<rect x="440.12" y="1160.40" width="1.8" height="1.10" fill="#fa0a0a"/>
<rect x="440.93" y="1159.52" width="2.2" height="1.98" fill="#fa0a0a"/>
<rect x="442.15" y="1159.96" width="1.8" height="1.54" fill="#fa0a0a"/>
<rect x="443.17" y="1160.62" width="1.8" height="0.88" fill="#fa0a0a"/>
<rect x="445.00" y="1159.74" width="2.2" height="1.76" fill="#fa0a0a"/>
<rect x="446.01" y="1157.09" width="2.2" height="4.41" fill="#fa0a0a"/>
<rect x="447.23" y="1160.18" width="1.8" height="1.32" fill="#fa0a0a"/>
<rect x="450.07" y="1159.74" width="2.2" height="1.76" fill="#fa0a0a"/>
<rect x="451.09" y="1158.63" width="2.2" height="2.87" fill="#fa0a0a"/>
<rect x="452.10" y="1158.85" width="2.2" height="2.65" fill="#fa0a0a"/>
<rect x="453.32" y="1160.18" width="1.8" height="1.32" fill="#fa0a0a"/>
<rect x="456.37" y="1160.18" width="1.8" height="1.32" fill="#fa0a0a"/>
<rect x="457.18" y="1159.30" width="2.2" height="2.21" fill="#fa0a0a"/>
<rect x="458.10" y="1150.03" width="2.4" height="11.47" fill="#fa0a0a"/>
<rect x="459.21" y="1158.19" width="2.2" height="3.31" fill="#fa0a0a"/>
<rect x="460.43" y="1160.18" width="1.8" height="1.32" fill="#fa0a0a"/>
<rect x="462.46" y="1160.84" width="1.8" height="0.66" fill="#fa0a0a"/>
<rect x="468.55" y="1160.62" width="1.8" height="0.88" fill="#fa0a0a"/>
<rect x="469.57" y="1160.40" width="1.8" height="1.10" fill="#fa0a0a"/>
<rect x="470.58" y="1160.18" width="1.8" height="1.32" fill="#fa0a0a"/>
<rect x="471.60" y="1160.40" width="1.8" height="1.10" fill="#fa0a0a"/>
<rect x="472.41" y="1158.19" width="2.2" height="3.31" fill="#fa0a0a"/>
<rect x="473.63" y="1160.18" width="1.8" height="1.32" fill="#fa0a0a"/>
<rect x="475.66" y="1160.40" width="1.8" height="1.10" fill="#fa0a0a"/>
<rect x="476.38" y="1124.90" width="2.4" height="36.60" fill="#fa0a0a"/>
<rect x="477.49" y="1158.85" width="2.2" height="2.65" fill="#fa0a0a"/>
<rect x="478.51" y="1158.85" width="2.2" height="2.65" fill="#fa0a0a"/>
<rect x="479.72" y="1160.18" width="1.8" height="1.32" fill="#fa0a0a"/>
<rect x="483.79" y="1160.62" width="1.8" height="0.88" fill="#fa0a0a"/>
<rect x="484.80" y="1160.40" width="1.8" height="1.10" fill="#fa0a0a"/>
<rect x="485.82" y="1160.62" width="1.8" height="0.88" fill="#fa0a0a"/>
<rect x="487.85" y="1159.96" width="1.8" height="1.54" fill="#fa0a0a"/>
<rect x="488.56" y="1128.65" width="2.4" height="32.85" fill="#fa0a0a"/>
<rect x="489.68" y="1159.30" width="2.2" height="2.21" fill="#fa0a0a"/>
<rect x="490.89" y="1160.40" width="1.8" height="1.10" fill="#fa0a0a"/>
<rect x="494.96" y="1160.40" width="1.8" height="1.10" fill="#fa0a0a"/>
<rect x="495.77" y="1159.07" width="2.2" height="2.43" fill="#fa0a0a"/>
<rect x="496.79" y="1159.07" width="2.2" height="2.43" fill="#fa0a0a"/>
<rect x="498.00" y="1160.40" width="1.8" height="1.10" fill="#fa0a0a"/>
<rect x="500.03" y="1160.18" width="1.8" height="1.32" fill="#fa0a0a"/>
<rect x="500.75" y="1148.49" width="2.4" height="13.01" fill="#fa0a0a"/>
<rect x="502.06" y="1159.96" width="1.8" height="1.54" fill="#fa0a0a"/>
<rect x="507.14" y="1160.84" width="1.8" height="0.66" fill="#fa0a0a"/>
<rect x="510.19" y="1160.18" width="1.8" height="1.32" fill="#fa0a0a"/>
<rect x="511.00" y="1159.07" width="2.2" height="2.43" fill="#fa0a0a"/>
<rect x="512.02" y="1159.74" width="2.2" height="1.76" fill="#fa0a0a"/>
<rect x="513.03" y="1159.30" width="2.2" height="2.21" fill="#fa0a0a"/>
<rect x="514.05" y="1155.11" width="2.2" height="6.39" fill="#fa0a0a"/>
<rect x="515.27" y="1160.40" width="1.8" height="1.10" fill="#fa0a0a"/>
<rect x="519.03" y="1119.16" width="2.4" height="42.34" fill="#fa0a0a"/>
<rect x="520.14" y="1159.74" width="2.2" height="1.76" fill="#fa0a0a"/>
<rect x="521.36" y="1160.40" width="1.8" height="1.10" fill="#fa0a0a"/>
<rect x="525.22" y="1157.09" width="2.2" height="4.41" fill="#fa0a0a"/>
<rect x="526.24" y="1157.53" width="2.2" height="3.97" fill="#fa0a0a"/>
<rect x="527.45" y="1160.62" width="1.8" height="0.88" fill="#fa0a0a"/>
<rect x="531.21" y="1152.68" width="2.4" height="8.82" fill="#fa0a0a"/>
<rect x="532.53" y="1160.18" width="1.8" height="1.32" fill="#fa0a0a"/>
<rect x="538.62" y="1160.62" width="1.8" height="0.88" fill="#fa0a0a"/>
<rect x="539.64" y="1160.18" width="1.8" height="1.32" fill="#fa0a0a"/>
<rect x="540.65" y="1160.40" width="1.8" height="1.10" fill="#fa0a0a"/>
<rect x="541.67" y="1160.62" width="1.8" height="0.88" fill="#fa0a0a"/>
<rect x="543.70" y="1160.62" width="1.8" height="0.88" fill="#fa0a0a"/>
<rect x="544.72" y="1160.84" width="1.8" height="0.66" fill="#fa0a0a"/>
<rect x="545.73" y="1160.62" width="1.8" height="0.88" fill="#fa0a0a"/>
<rect x="549.59" y="1158.19" width="2.2" height="3.31" fill="#fa0a0a"/>
<rect x="550.81" y="1160.40" width="1.8" height="1.10" fill="#fa0a0a"/>
<rect x="554.87" y="1160.84" width="1.8" height="0.66" fill="#fa0a0a"/>
<rect x="555.89" y="1160.62" width="1.8" height="0.88" fill="#fa0a0a"/>
<rect x="556.90" y="1160.40" width="1.8" height="1.10" fill="#fa0a0a"/>
<rect x="557.72" y="1155.99" width="2.2" height="5.51" fill="#fa0a0a"/>
<rect x="558.73" y="1156.43" width="2.2" height="5.07" fill="#fa0a0a"/>
<rect x="561.68" y="1147.39" width="2.4" height="14.11" fill="#fa0a0a"/>
<rect x="562.79" y="1159.74" width="2.2" height="1.76" fill="#fa0a0a"/>
<rect x="570.10" y="1160.84" width="1.8" height="0.66" fill="#fa0a0a"/>
<rect x="571.12" y="1160.62" width="1.8" height="0.88" fill="#fa0a0a"/>
<rect x="573.96" y="1158.63" width="2.2" height="2.87" fill="#fa0a0a"/>
<rect x="574.98" y="1159.74" width="2.2" height="1.76" fill="#fa0a0a"/>
<rect x="587.07" y="1146.07" width="2.4" height="15.44" fill="#fa0a0a"/>
<rect x="588.18" y="1159.74" width="2.2" height="1.76" fill="#fa0a0a"/>
<rect x="591.23" y="1159.30" width="2.2" height="2.21" fill="#fa0a0a"/>
<rect x="592.24" y="1157.09" width="2.2" height="4.41" fill="#fa0a0a"/>
<rect x="593.46" y="1160.40" width="1.8" height="1.10" fill="#fa0a0a"/>
<rect x="599.55" y="1160.18" width="1.8" height="1.32" fill="#fa0a0a"/>
<rect x="600.37" y="1157.97" width="2.2" height="3.53" fill="#fa0a0a"/>
<rect x="601.58" y="1160.62" width="1.8" height="0.88" fill="#fa0a0a"/>
<rect x="617.63" y="1159.30" width="2.2" height="2.21" fill="#fa0a0a"/>
<rect x="618.85" y="1161.06" width="1.8" height="0.44" fill="#fa0a0a"/>
<rect x="648.30" y="1161.06" width="1.8" height="0.44" fill="#fa0a0a"/>
<line x1="413.5" y1="1161.5" x2="678.2" y2="1161.5" stroke="#777" stroke-width="1.2" />
<line x1="413.5" y1="941" x2="413.5" y2="1168.5" stroke="#333333" stroke-width="1" />
<line x1="405.3" y1="1161.5" x2="413.5" y2="1161.5" stroke="#333333" stroke-width="1.0" />
<text transform="translate(387.13,1167.35) scale(1.0903,1)" font-size="15.29" fill="#222" font-weight="normal" font-style="normal">0</text>
<line x1="405.3" y1="1117.4" x2="413.5" y2="1117.4" stroke="#333333" stroke-width="1.0" />
<text transform="translate(377.45,1123.25) scale(1.1115,1)" font-size="15.29" fill="#222" font-weight="normal" font-style="normal">20</text>
<line x1="405.3" y1="1073.3" x2="413.5" y2="1073.3" stroke="#333333" stroke-width="1.0" />
<text transform="translate(377.97,1079.15) scale(1.0801,1)" font-size="15.29" fill="#222" font-weight="normal" font-style="normal">40</text>
<line x1="405.3" y1="1029.2" x2="413.5" y2="1029.2" stroke="#333333" stroke-width="1.0" />
<text transform="translate(377.45,1035.05) scale(1.1115,1)" font-size="15.29" fill="#222" font-weight="normal" font-style="normal">60</text>
<line x1="405.3" y1="985.1" x2="413.5" y2="985.1" stroke="#333333" stroke-width="1.0" />
<text transform="translate(377.63,990.95) scale(1.1008,1)" font-size="15.29" fill="#222" font-weight="normal" font-style="normal">80</text>
<line x1="405.3" y1="941.0" x2="413.5" y2="941.0" stroke="#333333" stroke-width="1.0" />
<text transform="translate(370.04,946.85) scale(1.0341,1)" font-size="15.29" fill="#222" font-weight="normal" font-style="normal">100</text>
<line x1="413.6" y1="1161.5" x2="413.6" y2="1169.0" stroke="#555" stroke-width="1.0" />
<text transform="translate(404.82,1189.20) scale(1.1006,1)" font-size="15.00" fill="#222" font-weight="normal" font-style="normal">40</text>
<line x1="494.84000000000003" y1="1161.5" x2="494.84000000000003" y2="1169.0" stroke="#555" stroke-width="1.0" />
<text transform="translate(481.63,1189.20) scale(1.0538,1)" font-size="15.00" fill="#222" font-weight="normal" font-style="normal">120</text>
<line x1="576.08" y1="1161.5" x2="576.08" y2="1169.0" stroke="#555" stroke-width="1.0" />
<text transform="translate(562.03,1189.20) scale(1.1392,1)" font-size="15.00" fill="#222" font-weight="normal" font-style="normal">200</text>
<line x1="657.32" y1="1161.5" x2="657.32" y2="1169.0" stroke="#555" stroke-width="1.0" />
<text transform="translate(643.27,1189.20) scale(1.1392,1)" font-size="15.00" fill="#222" font-weight="normal" font-style="normal">280</text>
<text transform="translate(531.23,1216.10) scale(1.0705,1)" font-size="17.50" fill="#222" font-weight="normal" font-style="italic">m/z</text>
<text transform="translate(421.90,968.30) scale(1.0919,1)" font-size="18.14" fill="#222" font-weight="normal" font-style="normal">43</text>
<text transform="translate(478.90,1123.31) rotate(-90) scale(0.9693,1)" font-size="19.43" fill="#222" font-weight="normal" font-style="normal">103</text>
<text transform="translate(500.00,1123.05) rotate(-90) scale(0.8349,1)" font-size="18.70" fill="#222" font-weight="normal" font-style="normal">115</text>
<text transform="translate(531.50,1117.57) rotate(-90) scale(0.8837,1)" font-size="19.42" fill="#222" font-weight="normal" font-style="normal">145</text>
<text transform="translate(595.50,1139.59) rotate(-90) scale(0.7818,1)" font-size="20.29" fill="#222" font-weight="normal" font-style="normal">212</text>
<text transform="translate(624.30,1154.89) rotate(-90) scale(0.8669,1)" font-size="20.57" fill="#222" font-weight="normal" font-style="normal">242</text>
<text transform="translate(356.00,1115.04) rotate(-90) scale(0.9988,1)" font-size="18.06" fill="#222" font-weight="normal" font-style="normal">Relative Int. (%)</text>
</svg></body></html>
